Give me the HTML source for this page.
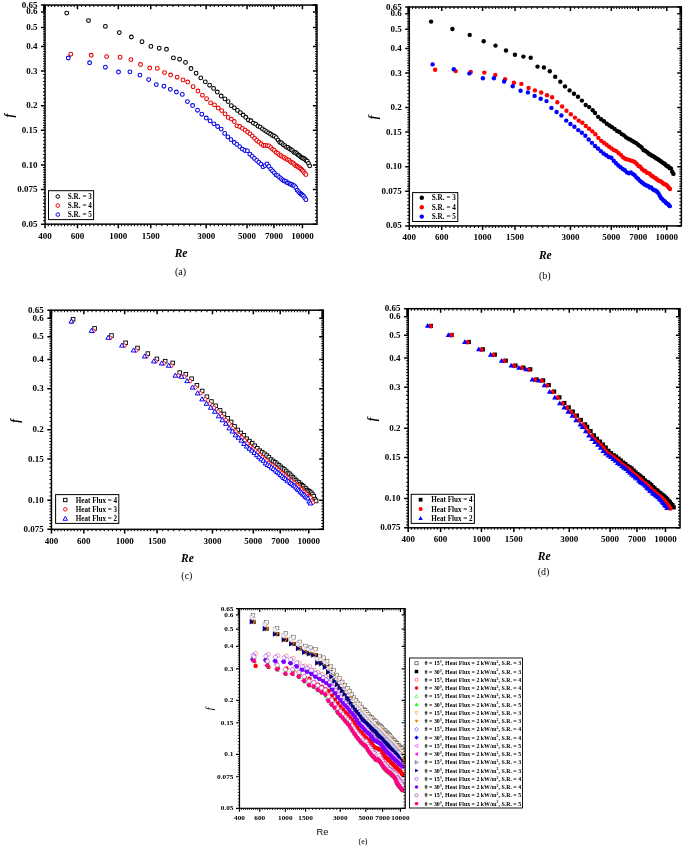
<!DOCTYPE html>
<html><head><meta charset="utf-8"><title>Friction factor plots</title>
<style>html,body{margin:0;padding:0;background:#fff}svg{display:block}</style></head>
<body>
<svg width="685" height="846" viewBox="0 0 685 846">
<rect width="685" height="846" fill="#fff"/>
<defs><clipPath id="ce"><rect x="239.5" y="608.6" width="165.70" height="199.70"/></clipPath></defs>
<g fill="#fff" stroke="#000" stroke-width="1.05"><circle cx="66.70" cy="13.10" r="1.90"/><circle cx="88.50" cy="20.60" r="1.90"/><circle cx="105.40" cy="26.40" r="1.90"/><circle cx="119.30" cy="32.60" r="1.90"/><circle cx="131.40" cy="37.00" r="1.90"/><circle cx="142.00" cy="41.70" r="1.90"/><circle cx="150.90" cy="46.40" r="1.90"/><circle cx="159.20" cy="48.20" r="1.90"/><circle cx="166.50" cy="49.30" r="1.90"/><circle cx="173.40" cy="57.90" r="1.90"/><circle cx="179.60" cy="59.20" r="1.90"/><circle cx="185.50" cy="62.40" r="1.90"/><circle cx="191.00" cy="68.50" r="1.90"/><circle cx="196.10" cy="73.20" r="1.90"/><circle cx="200.80" cy="77.90" r="1.90"/><circle cx="205.30" cy="81.80" r="1.90"/><circle cx="209.60" cy="85.20" r="1.90"/><circle cx="213.60" cy="88.40" r="1.90"/><circle cx="217.30" cy="92.00" r="1.90"/><circle cx="221.20" cy="96.00" r="1.90"/><circle cx="224.90" cy="98.90" r="1.90"/><circle cx="228.10" cy="101.60" r="1.90"/><circle cx="231.31" cy="105.69" r="1.90"/><circle cx="234.42" cy="107.86" r="1.90"/><circle cx="237.41" cy="110.42" r="1.90"/><circle cx="240.30" cy="112.55" r="1.90"/><circle cx="243.08" cy="115.00" r="1.90"/><circle cx="245.77" cy="117.26" r="1.90"/><circle cx="248.38" cy="119.96" r="1.90"/><circle cx="250.90" cy="120.75" r="1.90"/><circle cx="253.34" cy="123.11" r="1.90"/><circle cx="255.71" cy="124.16" r="1.90"/><circle cx="258.02" cy="126.15" r="1.90"/><circle cx="260.26" cy="127.12" r="1.90"/><circle cx="262.43" cy="128.83" r="1.90"/><circle cx="264.55" cy="130.37" r="1.90"/><circle cx="266.62" cy="131.58" r="1.90"/><circle cx="268.63" cy="132.87" r="1.90"/><circle cx="270.60" cy="134.03" r="1.90"/><circle cx="272.51" cy="135.49" r="1.90"/><circle cx="274.38" cy="136.22" r="1.90"/><circle cx="276.21" cy="137.60" r="1.90"/><circle cx="278.00" cy="140.10" r="1.90"/><circle cx="279.75" cy="142.29" r="1.90"/><circle cx="281.46" cy="142.97" r="1.90"/><circle cx="283.14" cy="144.63" r="1.90"/><circle cx="284.78" cy="145.60" r="1.90"/><circle cx="286.39" cy="147.07" r="1.90"/><circle cx="287.96" cy="147.40" r="1.90"/><circle cx="289.51" cy="148.78" r="1.90"/><circle cx="291.03" cy="149.79" r="1.90"/><circle cx="292.52" cy="150.60" r="1.90"/><circle cx="293.98" cy="152.36" r="1.90"/><circle cx="295.41" cy="152.54" r="1.90"/><circle cx="296.82" cy="153.73" r="1.90"/><circle cx="298.21" cy="155.04" r="1.90"/><circle cx="299.57" cy="155.78" r="1.90"/><circle cx="300.91" cy="157.10" r="1.90"/><circle cx="302.22" cy="158.03" r="1.90"/><circle cx="303.52" cy="158.21" r="1.90"/><circle cx="304.79" cy="159.24" r="1.90"/><circle cx="306.05" cy="160.41" r="1.90"/><circle cx="307.28" cy="161.14" r="1.90"/><circle cx="308.50" cy="163.45" r="1.90"/><circle cx="309.70" cy="165.87" r="1.90"/></g>
<g fill="#fff" stroke="#e60000" stroke-width="1.05"><circle cx="70.80" cy="54.20" r="1.90"/><circle cx="91.20" cy="55.30" r="1.90"/><circle cx="106.60" cy="56.60" r="1.90"/><circle cx="120.10" cy="57.20" r="1.90"/><circle cx="130.90" cy="59.60" r="1.90"/><circle cx="140.50" cy="64.50" r="1.90"/><circle cx="149.70" cy="68.00" r="1.90"/><circle cx="157.30" cy="68.40" r="1.90"/><circle cx="164.50" cy="72.60" r="1.90"/><circle cx="170.60" cy="75.00" r="1.90"/><circle cx="177.20" cy="77.20" r="1.90"/><circle cx="183.00" cy="79.90" r="1.90"/><circle cx="187.70" cy="82.00" r="1.90"/><circle cx="193.10" cy="86.70" r="1.90"/><circle cx="197.90" cy="91.00" r="1.90"/><circle cx="202.40" cy="95.20" r="1.90"/><circle cx="206.60" cy="98.70" r="1.90"/><circle cx="210.60" cy="102.90" r="1.90"/><circle cx="214.50" cy="104.90" r="1.90"/><circle cx="218.20" cy="108.00" r="1.90"/><circle cx="221.70" cy="110.60" r="1.90"/><circle cx="225.00" cy="113.90" r="1.90"/><circle cx="228.20" cy="117.40" r="1.90"/><circle cx="231.40" cy="119.10" r="1.90"/><circle cx="234.30" cy="121.50" r="1.90"/><circle cx="236.90" cy="125.80" r="1.90"/><circle cx="239.60" cy="126.50" r="1.90"/><circle cx="242.48" cy="128.40" r="1.90"/><circle cx="245.06" cy="130.13" r="1.90"/><circle cx="247.55" cy="132.03" r="1.90"/><circle cx="249.97" cy="133.84" r="1.90"/><circle cx="252.32" cy="136.05" r="1.90"/><circle cx="254.60" cy="138.30" r="1.90"/><circle cx="256.81" cy="140.47" r="1.90"/><circle cx="258.97" cy="142.05" r="1.90"/><circle cx="261.07" cy="143.76" r="1.90"/><circle cx="263.12" cy="145.45" r="1.90"/><circle cx="265.11" cy="145.41" r="1.90"/><circle cx="267.06" cy="145.68" r="1.90"/><circle cx="268.96" cy="145.96" r="1.90"/><circle cx="270.82" cy="147.61" r="1.90"/><circle cx="272.63" cy="149.35" r="1.90"/><circle cx="274.40" cy="150.45" r="1.90"/><circle cx="276.14" cy="152.52" r="1.90"/><circle cx="277.84" cy="153.43" r="1.90"/><circle cx="279.50" cy="154.88" r="1.90"/><circle cx="281.13" cy="155.74" r="1.90"/><circle cx="282.73" cy="156.85" r="1.90"/><circle cx="284.29" cy="157.66" r="1.90"/><circle cx="285.83" cy="158.72" r="1.90"/><circle cx="287.34" cy="159.62" r="1.90"/><circle cx="288.82" cy="160.08" r="1.90"/><circle cx="290.27" cy="161.61" r="1.90"/><circle cx="291.69" cy="162.40" r="1.90"/><circle cx="293.09" cy="162.92" r="1.90"/><circle cx="294.47" cy="164.46" r="1.90"/><circle cx="295.82" cy="165.79" r="1.90"/><circle cx="297.16" cy="166.29" r="1.90"/><circle cx="298.46" cy="167.13" r="1.90"/><circle cx="299.75" cy="167.95" r="1.90"/><circle cx="301.02" cy="169.03" r="1.90"/><circle cx="302.27" cy="170.36" r="1.90"/><circle cx="303.50" cy="171.53" r="1.90"/><circle cx="304.71" cy="173.36" r="1.90"/><circle cx="305.90" cy="174.58" r="1.90"/></g>
<g fill="#fff" stroke="#0000e6" stroke-width="1.05"><circle cx="68.30" cy="58.00" r="1.90"/><circle cx="89.60" cy="62.80" r="1.90"/><circle cx="105.40" cy="67.20" r="1.90"/><circle cx="118.50" cy="72.00" r="1.90"/><circle cx="129.90" cy="71.80" r="1.90"/><circle cx="139.90" cy="75.10" r="1.90"/><circle cx="148.70" cy="79.60" r="1.90"/><circle cx="156.30" cy="84.60" r="1.90"/><circle cx="163.90" cy="86.20" r="1.90"/><circle cx="170.30" cy="89.30" r="1.90"/><circle cx="176.40" cy="92.00" r="1.90"/><circle cx="182.30" cy="94.40" r="1.90"/><circle cx="187.40" cy="101.60" r="1.90"/><circle cx="192.60" cy="105.50" r="1.90"/><circle cx="197.50" cy="110.20" r="1.90"/><circle cx="201.80" cy="114.20" r="1.90"/><circle cx="206.30" cy="118.00" r="1.90"/><circle cx="210.10" cy="120.90" r="1.90"/><circle cx="213.90" cy="123.80" r="1.90"/><circle cx="217.60" cy="126.50" r="1.90"/><circle cx="221.20" cy="129.10" r="1.90"/><circle cx="224.70" cy="133.40" r="1.90"/><circle cx="227.90" cy="136.90" r="1.90"/><circle cx="231.00" cy="139.60" r="1.90"/><circle cx="234.30" cy="142.50" r="1.90"/><circle cx="236.89" cy="144.42" r="1.90"/><circle cx="239.65" cy="146.61" r="1.90"/><circle cx="242.32" cy="149.05" r="1.90"/><circle cx="244.90" cy="150.45" r="1.90"/><circle cx="247.40" cy="150.82" r="1.90"/><circle cx="249.83" cy="154.18" r="1.90"/><circle cx="252.18" cy="156.36" r="1.90"/><circle cx="254.47" cy="158.39" r="1.90"/><circle cx="256.70" cy="160.39" r="1.90"/><circle cx="258.86" cy="162.41" r="1.90"/><circle cx="260.97" cy="164.05" r="1.90"/><circle cx="263.02" cy="166.85" r="1.90"/><circle cx="265.02" cy="165.57" r="1.90"/><circle cx="266.97" cy="163.92" r="1.90"/><circle cx="268.88" cy="166.46" r="1.90"/><circle cx="270.74" cy="169.06" r="1.90"/><circle cx="272.56" cy="170.96" r="1.90"/><circle cx="274.34" cy="172.84" r="1.90"/><circle cx="276.08" cy="174.94" r="1.90"/><circle cx="277.78" cy="175.65" r="1.90"/><circle cx="279.45" cy="177.38" r="1.90"/><circle cx="281.08" cy="178.56" r="1.90"/><circle cx="282.68" cy="179.99" r="1.90"/><circle cx="284.25" cy="180.96" r="1.90"/><circle cx="285.79" cy="181.34" r="1.90"/><circle cx="287.30" cy="182.77" r="1.90"/><circle cx="288.78" cy="183.07" r="1.90"/><circle cx="290.24" cy="184.20" r="1.90"/><circle cx="291.67" cy="184.38" r="1.90"/><circle cx="293.07" cy="185.40" r="1.90"/><circle cx="294.45" cy="185.86" r="1.90"/><circle cx="295.81" cy="187.64" r="1.90"/><circle cx="297.14" cy="190.17" r="1.90"/><circle cx="298.45" cy="191.60" r="1.90"/><circle cx="299.74" cy="192.97" r="1.90"/><circle cx="301.01" cy="194.02" r="1.90"/><circle cx="302.26" cy="195.03" r="1.90"/><circle cx="303.49" cy="196.08" r="1.90"/><circle cx="304.71" cy="197.82" r="1.90"/><circle cx="305.90" cy="199.66" r="1.90"/></g>
<g stroke="#000" stroke-width="1.5" fill="none"><rect x="45.05" y="5.05" width="271.95" height="219.10"/><path d="M45.05 224.15v4.1M45.05 5.05v4.1M77.47 224.15v4.1M77.47 5.05v4.1M118.31 224.15v4.1M118.31 5.05v4.1M150.73 224.15v4.1M150.73 5.05v4.1M206.16 224.15v4.1M206.16 5.05v4.1M247.00 224.15v4.1M247.00 5.05v4.1M273.90 224.15v4.1M273.90 5.05v4.1M302.42 224.15v4.1M302.42 5.05v4.1M45.05 224.15h-4.1M317.0 224.15h-4.1M45.05 189.51h-4.1M317.0 189.51h-4.1M45.05 164.94h-4.1M317.0 164.94h-4.1M45.05 130.31h-4.1M317.0 130.31h-4.1M45.05 105.73h-4.1M317.0 105.73h-4.1M45.05 71.10h-4.1M317.0 71.10h-4.1M45.05 46.52h-4.1M317.0 46.52h-4.1M45.05 27.46h-4.1M317.0 27.46h-4.1M45.05 11.89h-4.1M317.0 11.89h-4.1M45.05 5.05h-4.1M317.0 5.05h-4.1"/><path d="M48.29 224.15v2.0M48.29 5.05v2.0M51.53 224.15v2.0M51.53 5.05v2.0M54.78 224.15v2.0M54.78 5.05v2.0M58.02 224.15v2.0M58.02 5.05v2.0M61.26 224.15v2.0M61.26 5.05v2.0M64.50 224.15v2.0M64.50 5.05v2.0M67.74 224.15v2.0M67.74 5.05v2.0M70.99 224.15v2.0M70.99 5.05v2.0M74.23 224.15v2.0M74.23 5.05v2.0M81.55 224.15v2.0M81.55 5.05v2.0M85.64 224.15v2.0M85.64 5.05v2.0M89.72 224.15v2.0M89.72 5.05v2.0M93.81 224.15v2.0M93.81 5.05v2.0M97.89 224.15v2.0M97.89 5.05v2.0M101.98 224.15v2.0M101.98 5.05v2.0M106.06 224.15v2.0M106.06 5.05v2.0M110.15 224.15v2.0M110.15 5.05v2.0M114.23 224.15v2.0M114.23 5.05v2.0M121.56 224.15v2.0M121.56 5.05v2.0M124.80 224.15v2.0M124.80 5.05v2.0M128.04 224.15v2.0M128.04 5.05v2.0M131.28 224.15v2.0M131.28 5.05v2.0M134.52 224.15v2.0M134.52 5.05v2.0M137.77 224.15v2.0M137.77 5.05v2.0M141.01 224.15v2.0M141.01 5.05v2.0M144.25 224.15v2.0M144.25 5.05v2.0M147.49 224.15v2.0M147.49 5.05v2.0M156.28 224.15v2.0M156.28 5.05v2.0M161.82 224.15v2.0M161.82 5.05v2.0M167.36 224.15v2.0M167.36 5.05v2.0M172.90 224.15v2.0M172.90 5.05v2.0M178.44 224.15v2.0M178.44 5.05v2.0M183.99 224.15v2.0M183.99 5.05v2.0M189.53 224.15v2.0M189.53 5.05v2.0M195.07 224.15v2.0M195.07 5.05v2.0M200.61 224.15v2.0M200.61 5.05v2.0M210.24 224.15v2.0M210.24 5.05v2.0M214.32 224.15v2.0M214.32 5.05v2.0M218.41 224.15v2.0M218.41 5.05v2.0M222.49 224.15v2.0M222.49 5.05v2.0M226.58 224.15v2.0M226.58 5.05v2.0M230.66 224.15v2.0M230.66 5.05v2.0M234.75 224.15v2.0M234.75 5.05v2.0M238.83 224.15v2.0M238.83 5.05v2.0M242.92 224.15v2.0M242.92 5.05v2.0M249.69 224.15v2.0M249.69 5.05v2.0M252.38 224.15v2.0M252.38 5.05v2.0M255.07 224.15v2.0M255.07 5.05v2.0M257.76 224.15v2.0M257.76 5.05v2.0M260.45 224.15v2.0M260.45 5.05v2.0M263.14 224.15v2.0M263.14 5.05v2.0M265.83 224.15v2.0M265.83 5.05v2.0M268.52 224.15v2.0M268.52 5.05v2.0M271.21 224.15v2.0M271.21 5.05v2.0M276.76 224.15v2.0M276.76 5.05v2.0M279.61 224.15v2.0M279.61 5.05v2.0M282.46 224.15v2.0M282.46 5.05v2.0M285.31 224.15v2.0M285.31 5.05v2.0M288.16 224.15v2.0M288.16 5.05v2.0M291.01 224.15v2.0M291.01 5.05v2.0M293.87 224.15v2.0M293.87 5.05v2.0M296.72 224.15v2.0M296.72 5.05v2.0M299.57 224.15v2.0M299.57 5.05v2.0M45.05 220.69h-2.0M317.0 220.69h-2.0M45.05 217.22h-2.0M317.0 217.22h-2.0M45.05 213.76h-2.0M317.0 213.76h-2.0M45.05 210.30h-2.0M317.0 210.30h-2.0M45.05 206.83h-2.0M317.0 206.83h-2.0M45.05 203.37h-2.0M317.0 203.37h-2.0M45.05 199.91h-2.0M317.0 199.91h-2.0M45.05 196.44h-2.0M317.0 196.44h-2.0M45.05 192.98h-2.0M317.0 192.98h-2.0M45.05 187.06h-2.0M317.0 187.06h-2.0M45.05 184.60h-2.0M317.0 184.60h-2.0M45.05 182.14h-2.0M317.0 182.14h-2.0M45.05 179.69h-2.0M317.0 179.69h-2.0M45.05 177.23h-2.0M317.0 177.23h-2.0M45.05 174.77h-2.0M317.0 174.77h-2.0M45.05 172.31h-2.0M317.0 172.31h-2.0M45.05 169.86h-2.0M317.0 169.86h-2.0M45.05 167.40h-2.0M317.0 167.40h-2.0M45.05 161.48h-2.0M317.0 161.48h-2.0M45.05 158.01h-2.0M317.0 158.01h-2.0M45.05 154.55h-2.0M317.0 154.55h-2.0M45.05 151.09h-2.0M317.0 151.09h-2.0M45.05 147.62h-2.0M317.0 147.62h-2.0M45.05 144.16h-2.0M317.0 144.16h-2.0M45.05 140.70h-2.0M317.0 140.70h-2.0M45.05 137.23h-2.0M317.0 137.23h-2.0M45.05 133.77h-2.0M317.0 133.77h-2.0M45.05 127.85h-2.0M317.0 127.85h-2.0M45.05 125.39h-2.0M317.0 125.39h-2.0M45.05 122.93h-2.0M317.0 122.93h-2.0M45.05 120.48h-2.0M317.0 120.48h-2.0M45.05 118.02h-2.0M317.0 118.02h-2.0M45.05 115.56h-2.0M317.0 115.56h-2.0M45.05 113.10h-2.0M317.0 113.10h-2.0M45.05 110.65h-2.0M317.0 110.65h-2.0M45.05 108.19h-2.0M317.0 108.19h-2.0M45.05 102.27h-2.0M317.0 102.27h-2.0M45.05 98.80h-2.0M317.0 98.80h-2.0M45.05 95.34h-2.0M317.0 95.34h-2.0M45.05 91.88h-2.0M317.0 91.88h-2.0M45.05 88.41h-2.0M317.0 88.41h-2.0M45.05 84.95h-2.0M317.0 84.95h-2.0M45.05 81.49h-2.0M317.0 81.49h-2.0M45.05 78.02h-2.0M317.0 78.02h-2.0M45.05 74.56h-2.0M317.0 74.56h-2.0M45.05 68.64h-2.0M317.0 68.64h-2.0M45.05 66.18h-2.0M317.0 66.18h-2.0M45.05 63.72h-2.0M317.0 63.72h-2.0M45.05 61.27h-2.0M317.0 61.27h-2.0M45.05 58.81h-2.0M317.0 58.81h-2.0M45.05 56.35h-2.0M317.0 56.35h-2.0M45.05 53.89h-2.0M317.0 53.89h-2.0M45.05 51.44h-2.0M317.0 51.44h-2.0M45.05 48.98h-2.0M317.0 48.98h-2.0M45.05 44.62h-2.0M317.0 44.62h-2.0M45.05 42.71h-2.0M317.0 42.71h-2.0M45.05 40.80h-2.0M317.0 40.80h-2.0M45.05 38.90h-2.0M317.0 38.90h-2.0M45.05 36.99h-2.0M317.0 36.99h-2.0M45.05 35.09h-2.0M317.0 35.09h-2.0M45.05 33.18h-2.0M317.0 33.18h-2.0M45.05 31.27h-2.0M317.0 31.27h-2.0M45.05 29.37h-2.0M317.0 29.37h-2.0M45.05 25.90h-2.0M317.0 25.90h-2.0M45.05 24.35h-2.0M317.0 24.35h-2.0M45.05 22.79h-2.0M317.0 22.79h-2.0M45.05 21.23h-2.0M317.0 21.23h-2.0M45.05 19.67h-2.0M317.0 19.67h-2.0M45.05 18.12h-2.0M317.0 18.12h-2.0M45.05 16.56h-2.0M317.0 16.56h-2.0M45.05 15.00h-2.0M317.0 15.00h-2.0M45.05 13.44h-2.0M317.0 13.44h-2.0M45.05 11.20h-2.0M317.0 11.20h-2.0M45.05 10.52h-2.0M317.0 10.52h-2.0M45.05 9.84h-2.0M317.0 9.84h-2.0M45.05 9.15h-2.0M317.0 9.15h-2.0M45.05 8.47h-2.0M317.0 8.47h-2.0M45.05 7.78h-2.0M317.0 7.78h-2.0M45.05 7.10h-2.0M317.0 7.10h-2.0M45.05 6.42h-2.0M317.0 6.42h-2.0M45.05 5.73h-2.0M317.0 5.73h-2.0" stroke-width="1.02"/></g>
<g font-family="Liberation Serif, serif" font-weight="bold" font-size="9" fill="#000"><text x="45.05" y="238.65" text-anchor="middle">400</text><text x="77.47" y="238.65" text-anchor="middle">600</text><text x="118.31" y="238.65" text-anchor="middle">1000</text><text x="150.73" y="238.65" text-anchor="middle">1500</text><text x="206.16" y="238.65" text-anchor="middle">3000</text><text x="247.00" y="238.65" text-anchor="middle">5000</text><text x="273.90" y="238.65" text-anchor="middle">7000</text><text x="302.42" y="238.65" text-anchor="middle">10000</text><text x="37.45" y="226.71" text-anchor="end">0.05</text><text x="37.45" y="192.08" text-anchor="end">0.075</text><text x="37.45" y="167.51" text-anchor="end">0.10</text><text x="37.45" y="132.87" text-anchor="end">0.15</text><text x="37.45" y="108.30" text-anchor="end">0.2</text><text x="37.45" y="73.66" text-anchor="end">0.3</text><text x="37.45" y="49.09" text-anchor="end">0.4</text><text x="37.45" y="30.03" text-anchor="end">0.5</text><text x="37.45" y="14.45" text-anchor="end">0.6</text><text x="37.45" y="7.62" text-anchor="end">0.65</text></g>
<rect x="48.5" y="190.7" width="45.1" height="28.9" fill="#fff" stroke="#000" stroke-width="1.0"/>
<g fill="none" stroke="#000" stroke-width="1.0"><circle cx="57.80" cy="196.50" r="1.80"/></g>
<text font-family="Liberation Serif, serif" font-weight="bold" font-size="7.2" x="67.8" y="198.88">S.R. = 3</text>
<g fill="none" stroke="#e60000" stroke-width="1.0"><circle cx="57.80" cy="205.55" r="1.80"/></g>
<text font-family="Liberation Serif, serif" font-weight="bold" font-size="7.2" x="67.8" y="207.93">S.R. = 4</text>
<g fill="none" stroke="#0000e6" stroke-width="1.0"><circle cx="57.80" cy="214.60" r="1.80"/></g>
<text font-family="Liberation Serif, serif" font-weight="bold" font-size="7.2" x="67.8" y="216.98">S.R. = 5</text>
<text font-family="Liberation Serif, serif" font-weight="bold" font-style="italic" font-size="11.5" text-anchor="middle" x="181.03" y="256.8">Re</text>
<text font-family="Liberation Serif, serif" font-size="10" text-anchor="middle" x="180.53" y="275.2">(a)</text>
<text font-family="Liberation Serif, serif" font-weight="bold" font-style="italic" font-size="11.5" text-anchor="middle" transform="translate(12.5,115.60) rotate(-90)">f</text>
<g fill="#000" stroke="none"><circle cx="431.10" cy="21.60" r="2.20"/><circle cx="452.40" cy="29.05" r="2.20"/><circle cx="469.70" cy="34.90" r="2.20"/><circle cx="483.70" cy="41.20" r="2.20"/><circle cx="495.50" cy="45.60" r="2.20"/><circle cx="506.00" cy="50.50" r="2.20"/><circle cx="514.90" cy="54.70" r="2.20"/><circle cx="523.40" cy="56.60" r="2.20"/><circle cx="530.70" cy="57.80" r="2.20"/><circle cx="537.50" cy="66.60" r="2.20"/><circle cx="543.90" cy="67.50" r="2.20"/><circle cx="549.80" cy="71.20" r="2.20"/><circle cx="555.20" cy="76.80" r="2.20"/><circle cx="560.30" cy="81.70" r="2.20"/><circle cx="565.00" cy="86.40" r="2.20"/><circle cx="569.60" cy="90.40" r="2.20"/><circle cx="574.00" cy="93.80" r="2.20"/><circle cx="578.00" cy="96.70" r="2.20"/><circle cx="581.90" cy="100.60" r="2.20"/><circle cx="585.70" cy="105.00" r="2.20"/><circle cx="589.20" cy="107.10" r="2.20"/><circle cx="592.70" cy="110.20" r="2.20"/><circle cx="595.05" cy="113.01" r="2.20"/><circle cx="598.16" cy="116.84" r="2.20"/><circle cx="601.15" cy="119.20" r="2.20"/><circle cx="604.03" cy="121.23" r="2.20"/><circle cx="606.81" cy="123.69" r="2.20"/><circle cx="609.50" cy="125.55" r="2.20"/><circle cx="612.10" cy="127.17" r="2.20"/><circle cx="614.62" cy="128.89" r="2.20"/><circle cx="617.06" cy="131.07" r="2.20"/><circle cx="619.43" cy="132.06" r="2.20"/><circle cx="621.73" cy="134.09" r="2.20"/><circle cx="623.97" cy="135.35" r="2.20"/><circle cx="626.15" cy="137.42" r="2.20"/><circle cx="628.27" cy="138.66" r="2.20"/><circle cx="630.33" cy="139.65" r="2.20"/><circle cx="632.34" cy="140.88" r="2.20"/><circle cx="634.31" cy="142.17" r="2.20"/><circle cx="636.22" cy="143.12" r="2.20"/><circle cx="638.09" cy="144.82" r="2.20"/><circle cx="639.92" cy="146.09" r="2.20"/><circle cx="641.71" cy="147.51" r="2.20"/><circle cx="643.46" cy="150.03" r="2.20"/><circle cx="645.17" cy="150.77" r="2.20"/><circle cx="646.84" cy="151.87" r="2.20"/><circle cx="648.48" cy="153.44" r="2.20"/><circle cx="650.09" cy="154.43" r="2.20"/><circle cx="651.67" cy="155.53" r="2.20"/><circle cx="653.21" cy="156.27" r="2.20"/><circle cx="654.73" cy="157.29" r="2.20"/><circle cx="656.22" cy="158.42" r="2.20"/><circle cx="657.68" cy="159.01" r="2.20"/><circle cx="659.11" cy="160.14" r="2.20"/><circle cx="660.52" cy="160.95" r="2.20"/><circle cx="661.91" cy="162.15" r="2.20"/><circle cx="663.27" cy="163.11" r="2.20"/><circle cx="664.61" cy="163.69" r="2.20"/><circle cx="665.93" cy="165.28" r="2.20"/><circle cx="667.22" cy="166.29" r="2.20"/><circle cx="668.50" cy="166.48" r="2.20"/><circle cx="669.75" cy="168.14" r="2.20"/><circle cx="670.99" cy="168.42" r="2.20"/><circle cx="672.20" cy="171.63" r="2.20"/><circle cx="673.40" cy="173.91" r="2.20"/></g>
<g fill="#f00" stroke="none"><circle cx="435.10" cy="69.80" r="2.20"/><circle cx="455.70" cy="71.10" r="2.20"/><circle cx="470.80" cy="72.00" r="2.20"/><circle cx="484.30" cy="72.60" r="2.20"/><circle cx="495.30" cy="75.00" r="2.20"/><circle cx="505.10" cy="79.20" r="2.20"/><circle cx="513.90" cy="82.70" r="2.20"/><circle cx="521.40" cy="83.90" r="2.20"/><circle cx="528.60" cy="88.00" r="2.20"/><circle cx="534.90" cy="90.40" r="2.20"/><circle cx="541.20" cy="92.50" r="2.20"/><circle cx="547.00" cy="95.30" r="2.20"/><circle cx="552.10" cy="97.30" r="2.20"/><circle cx="557.30" cy="102.30" r="2.20"/><circle cx="562.10" cy="106.50" r="2.20"/><circle cx="566.50" cy="110.80" r="2.20"/><circle cx="570.80" cy="114.30" r="2.20"/><circle cx="574.91" cy="117.60" r="2.20"/><circle cx="578.70" cy="120.67" r="2.20"/><circle cx="582.33" cy="122.77" r="2.20"/><circle cx="585.79" cy="126.01" r="2.20"/><circle cx="589.11" cy="128.80" r="2.20"/><circle cx="592.30" cy="131.33" r="2.20"/><circle cx="595.37" cy="134.21" r="2.20"/><circle cx="598.32" cy="137.85" r="2.20"/><circle cx="601.17" cy="140.83" r="2.20"/><circle cx="603.92" cy="142.77" r="2.20"/><circle cx="606.58" cy="144.71" r="2.20"/><circle cx="609.15" cy="146.78" r="2.20"/><circle cx="611.65" cy="148.38" r="2.20"/><circle cx="614.06" cy="150.16" r="2.20"/><circle cx="616.41" cy="151.10" r="2.20"/><circle cx="618.69" cy="153.16" r="2.20"/><circle cx="620.91" cy="154.90" r="2.20"/><circle cx="623.07" cy="157.23" r="2.20"/><circle cx="625.17" cy="158.81" r="2.20"/><circle cx="627.21" cy="159.41" r="2.20"/><circle cx="629.21" cy="159.88" r="2.20"/><circle cx="631.15" cy="160.65" r="2.20"/><circle cx="633.06" cy="161.27" r="2.20"/><circle cx="634.91" cy="162.09" r="2.20"/><circle cx="636.73" cy="163.91" r="2.20"/><circle cx="638.50" cy="165.93" r="2.20"/><circle cx="640.24" cy="166.73" r="2.20"/><circle cx="641.94" cy="169.03" r="2.20"/><circle cx="643.60" cy="170.49" r="2.20"/><circle cx="645.23" cy="171.01" r="2.20"/><circle cx="646.83" cy="172.64" r="2.20"/><circle cx="648.39" cy="173.12" r="2.20"/><circle cx="649.93" cy="173.92" r="2.20"/><circle cx="651.43" cy="175.74" r="2.20"/><circle cx="652.91" cy="176.39" r="2.20"/><circle cx="654.36" cy="177.59" r="2.20"/><circle cx="655.79" cy="178.18" r="2.20"/><circle cx="657.19" cy="179.43" r="2.20"/><circle cx="658.57" cy="180.67" r="2.20"/><circle cx="659.92" cy="180.84" r="2.20"/><circle cx="661.25" cy="181.70" r="2.20"/><circle cx="662.56" cy="182.69" r="2.20"/><circle cx="663.85" cy="184.11" r="2.20"/><circle cx="665.12" cy="184.16" r="2.20"/><circle cx="666.37" cy="185.05" r="2.20"/><circle cx="667.60" cy="186.21" r="2.20"/><circle cx="668.81" cy="187.79" r="2.20"/><circle cx="670.00" cy="188.97" r="2.20"/></g>
<g fill="#00f" stroke="none"><circle cx="432.60" cy="64.40" r="2.20"/><circle cx="453.80" cy="69.30" r="2.20"/><circle cx="469.40" cy="73.40" r="2.20"/><circle cx="482.90" cy="78.30" r="2.20"/><circle cx="493.90" cy="78.30" r="2.20"/><circle cx="504.10" cy="81.50" r="2.20"/><circle cx="512.70" cy="86.20" r="2.20"/><circle cx="520.60" cy="90.80" r="2.20"/><circle cx="527.90" cy="92.40" r="2.20"/><circle cx="534.60" cy="95.90" r="2.20"/><circle cx="540.70" cy="98.70" r="2.20"/><circle cx="546.50" cy="101.10" r="2.20"/><circle cx="551.40" cy="107.90" r="2.20"/><circle cx="556.60" cy="112.00" r="2.20"/><circle cx="561.40" cy="115.50" r="2.20"/><circle cx="566.20" cy="120.60" r="2.20"/><circle cx="570.41" cy="123.96" r="2.20"/><circle cx="574.42" cy="126.70" r="2.20"/><circle cx="578.23" cy="130.10" r="2.20"/><circle cx="581.87" cy="132.76" r="2.20"/><circle cx="585.35" cy="135.80" r="2.20"/><circle cx="588.69" cy="139.48" r="2.20"/><circle cx="591.89" cy="142.84" r="2.20"/><circle cx="594.97" cy="145.94" r="2.20"/><circle cx="597.94" cy="148.47" r="2.20"/><circle cx="600.80" cy="151.09" r="2.20"/><circle cx="603.56" cy="153.49" r="2.20"/><circle cx="606.23" cy="155.21" r="2.20"/><circle cx="608.81" cy="157.07" r="2.20"/><circle cx="611.31" cy="157.72" r="2.20"/><circle cx="613.74" cy="160.70" r="2.20"/><circle cx="616.09" cy="163.30" r="2.20"/><circle cx="618.38" cy="165.53" r="2.20"/><circle cx="620.60" cy="167.27" r="2.20"/><circle cx="622.76" cy="169.06" r="2.20"/><circle cx="624.87" cy="170.30" r="2.20"/><circle cx="626.92" cy="172.40" r="2.20"/><circle cx="628.92" cy="173.22" r="2.20"/><circle cx="630.88" cy="172.40" r="2.20"/><circle cx="632.78" cy="173.86" r="2.20"/><circle cx="634.64" cy="175.16" r="2.20"/><circle cx="636.46" cy="177.42" r="2.20"/><circle cx="638.24" cy="179.01" r="2.20"/><circle cx="639.98" cy="180.84" r="2.20"/><circle cx="641.68" cy="182.31" r="2.20"/><circle cx="643.35" cy="183.47" r="2.20"/><circle cx="644.98" cy="184.80" r="2.20"/><circle cx="646.58" cy="185.47" r="2.20"/><circle cx="648.15" cy="186.11" r="2.20"/><circle cx="649.69" cy="187.43" r="2.20"/><circle cx="651.20" cy="187.55" r="2.20"/><circle cx="652.68" cy="189.12" r="2.20"/><circle cx="654.14" cy="190.25" r="2.20"/><circle cx="655.57" cy="190.37" r="2.20"/><circle cx="656.97" cy="191.80" r="2.20"/><circle cx="658.35" cy="193.10" r="2.20"/><circle cx="659.71" cy="195.69" r="2.20"/><circle cx="661.04" cy="197.97" r="2.20"/><circle cx="662.35" cy="199.09" r="2.20"/><circle cx="663.64" cy="200.71" r="2.20"/><circle cx="664.91" cy="201.37" r="2.20"/><circle cx="666.16" cy="202.96" r="2.20"/><circle cx="667.39" cy="203.66" r="2.20"/><circle cx="668.61" cy="204.79" r="2.20"/><circle cx="669.80" cy="206.14" r="2.20"/></g>
<g stroke="#000" stroke-width="1.5" fill="none"><rect x="409.3" y="6.95" width="272.05" height="218.95"/><path d="M409.30 225.9v4.1M409.30 6.95v4.1M441.73 225.9v4.1M441.73 6.95v4.1M482.59 225.9v4.1M482.59 6.95v4.1M515.02 225.9v4.1M515.02 6.95v4.1M570.47 225.9v4.1M570.47 6.95v4.1M611.32 225.9v4.1M611.32 6.95v4.1M638.24 225.9v4.1M638.24 6.95v4.1M666.77 225.9v4.1M666.77 6.95v4.1M409.3 225.90h-4.1M681.35 225.90h-4.1M409.3 191.29h-4.1M681.35 191.29h-4.1M409.3 166.73h-4.1M681.35 166.73h-4.1M409.3 132.12h-4.1M681.35 132.12h-4.1M409.3 107.56h-4.1M681.35 107.56h-4.1M409.3 72.95h-4.1M681.35 72.95h-4.1M409.3 48.39h-4.1M681.35 48.39h-4.1M409.3 29.35h-4.1M681.35 29.35h-4.1M409.3 13.78h-4.1M681.35 13.78h-4.1M409.3 6.95h-4.1M681.35 6.95h-4.1"/><path d="M412.54 225.9v2.0M412.54 6.95v2.0M415.79 225.9v2.0M415.79 6.95v2.0M419.03 225.9v2.0M419.03 6.95v2.0M422.27 225.9v2.0M422.27 6.95v2.0M425.52 225.9v2.0M425.52 6.95v2.0M428.76 225.9v2.0M428.76 6.95v2.0M432.00 225.9v2.0M432.00 6.95v2.0M435.25 225.9v2.0M435.25 6.95v2.0M438.49 225.9v2.0M438.49 6.95v2.0M445.82 225.9v2.0M445.82 6.95v2.0M449.90 225.9v2.0M449.90 6.95v2.0M453.99 225.9v2.0M453.99 6.95v2.0M458.08 225.9v2.0M458.08 6.95v2.0M462.16 225.9v2.0M462.16 6.95v2.0M466.25 225.9v2.0M466.25 6.95v2.0M470.33 225.9v2.0M470.33 6.95v2.0M474.42 225.9v2.0M474.42 6.95v2.0M478.51 225.9v2.0M478.51 6.95v2.0M485.83 225.9v2.0M485.83 6.95v2.0M489.08 225.9v2.0M489.08 6.95v2.0M492.32 225.9v2.0M492.32 6.95v2.0M495.56 225.9v2.0M495.56 6.95v2.0M498.81 225.9v2.0M498.81 6.95v2.0M502.05 225.9v2.0M502.05 6.95v2.0M505.29 225.9v2.0M505.29 6.95v2.0M508.54 225.9v2.0M508.54 6.95v2.0M511.78 225.9v2.0M511.78 6.95v2.0M520.57 225.9v2.0M520.57 6.95v2.0M526.11 225.9v2.0M526.11 6.95v2.0M531.66 225.9v2.0M531.66 6.95v2.0M537.20 225.9v2.0M537.20 6.95v2.0M542.74 225.9v2.0M542.74 6.95v2.0M548.29 225.9v2.0M548.29 6.95v2.0M553.83 225.9v2.0M553.83 6.95v2.0M559.38 225.9v2.0M559.38 6.95v2.0M564.92 225.9v2.0M564.92 6.95v2.0M574.55 225.9v2.0M574.55 6.95v2.0M578.64 225.9v2.0M578.64 6.95v2.0M582.72 225.9v2.0M582.72 6.95v2.0M586.81 225.9v2.0M586.81 6.95v2.0M590.89 225.9v2.0M590.89 6.95v2.0M594.98 225.9v2.0M594.98 6.95v2.0M599.07 225.9v2.0M599.07 6.95v2.0M603.15 225.9v2.0M603.15 6.95v2.0M607.24 225.9v2.0M607.24 6.95v2.0M614.02 225.9v2.0M614.02 6.95v2.0M616.71 225.9v2.0M616.71 6.95v2.0M619.40 225.9v2.0M619.40 6.95v2.0M622.09 225.9v2.0M622.09 6.95v2.0M624.78 225.9v2.0M624.78 6.95v2.0M627.47 225.9v2.0M627.47 6.95v2.0M630.16 225.9v2.0M630.16 6.95v2.0M632.85 225.9v2.0M632.85 6.95v2.0M635.55 225.9v2.0M635.55 6.95v2.0M641.09 225.9v2.0M641.09 6.95v2.0M643.94 225.9v2.0M643.94 6.95v2.0M646.80 225.9v2.0M646.80 6.95v2.0M649.65 225.9v2.0M649.65 6.95v2.0M652.50 225.9v2.0M652.50 6.95v2.0M655.36 225.9v2.0M655.36 6.95v2.0M658.21 225.9v2.0M658.21 6.95v2.0M661.06 225.9v2.0M661.06 6.95v2.0M663.91 225.9v2.0M663.91 6.95v2.0M409.3 222.44h-2.0M681.35 222.44h-2.0M409.3 218.98h-2.0M681.35 218.98h-2.0M409.3 215.52h-2.0M681.35 215.52h-2.0M409.3 212.06h-2.0M681.35 212.06h-2.0M409.3 208.59h-2.0M681.35 208.59h-2.0M409.3 205.13h-2.0M681.35 205.13h-2.0M409.3 201.67h-2.0M681.35 201.67h-2.0M409.3 198.21h-2.0M681.35 198.21h-2.0M409.3 194.75h-2.0M681.35 194.75h-2.0M409.3 188.83h-2.0M681.35 188.83h-2.0M409.3 186.38h-2.0M681.35 186.38h-2.0M409.3 183.92h-2.0M681.35 183.92h-2.0M409.3 181.47h-2.0M681.35 181.47h-2.0M409.3 179.01h-2.0M681.35 179.01h-2.0M409.3 176.55h-2.0M681.35 176.55h-2.0M409.3 174.10h-2.0M681.35 174.10h-2.0M409.3 171.64h-2.0M681.35 171.64h-2.0M409.3 169.19h-2.0M681.35 169.19h-2.0M409.3 163.27h-2.0M681.35 163.27h-2.0M409.3 159.81h-2.0M681.35 159.81h-2.0M409.3 156.35h-2.0M681.35 156.35h-2.0M409.3 152.89h-2.0M681.35 152.89h-2.0M409.3 149.43h-2.0M681.35 149.43h-2.0M409.3 145.96h-2.0M681.35 145.96h-2.0M409.3 142.50h-2.0M681.35 142.50h-2.0M409.3 139.04h-2.0M681.35 139.04h-2.0M409.3 135.58h-2.0M681.35 135.58h-2.0M409.3 129.66h-2.0M681.35 129.66h-2.0M409.3 127.21h-2.0M681.35 127.21h-2.0M409.3 124.75h-2.0M681.35 124.75h-2.0M409.3 122.30h-2.0M681.35 122.30h-2.0M409.3 119.84h-2.0M681.35 119.84h-2.0M409.3 117.39h-2.0M681.35 117.39h-2.0M409.3 114.93h-2.0M681.35 114.93h-2.0M409.3 112.47h-2.0M681.35 112.47h-2.0M409.3 110.02h-2.0M681.35 110.02h-2.0M409.3 104.10h-2.0M681.35 104.10h-2.0M409.3 100.64h-2.0M681.35 100.64h-2.0M409.3 97.18h-2.0M681.35 97.18h-2.0M409.3 93.72h-2.0M681.35 93.72h-2.0M409.3 90.26h-2.0M681.35 90.26h-2.0M409.3 86.80h-2.0M681.35 86.80h-2.0M409.3 83.33h-2.0M681.35 83.33h-2.0M409.3 79.87h-2.0M681.35 79.87h-2.0M409.3 76.41h-2.0M681.35 76.41h-2.0M409.3 70.50h-2.0M681.35 70.50h-2.0M409.3 68.04h-2.0M681.35 68.04h-2.0M409.3 65.58h-2.0M681.35 65.58h-2.0M409.3 63.13h-2.0M681.35 63.13h-2.0M409.3 60.67h-2.0M681.35 60.67h-2.0M409.3 58.22h-2.0M681.35 58.22h-2.0M409.3 55.76h-2.0M681.35 55.76h-2.0M409.3 53.31h-2.0M681.35 53.31h-2.0M409.3 50.85h-2.0M681.35 50.85h-2.0M409.3 46.49h-2.0M681.35 46.49h-2.0M409.3 44.58h-2.0M681.35 44.58h-2.0M409.3 42.68h-2.0M681.35 42.68h-2.0M409.3 40.77h-2.0M681.35 40.77h-2.0M409.3 38.87h-2.0M681.35 38.87h-2.0M409.3 36.97h-2.0M681.35 36.97h-2.0M409.3 35.06h-2.0M681.35 35.06h-2.0M409.3 33.16h-2.0M681.35 33.16h-2.0M409.3 31.25h-2.0M681.35 31.25h-2.0M409.3 27.79h-2.0M681.35 27.79h-2.0M409.3 26.23h-2.0M681.35 26.23h-2.0M409.3 24.68h-2.0M681.35 24.68h-2.0M409.3 23.12h-2.0M681.35 23.12h-2.0M409.3 21.56h-2.0M681.35 21.56h-2.0M409.3 20.01h-2.0M681.35 20.01h-2.0M409.3 18.45h-2.0M681.35 18.45h-2.0M409.3 16.90h-2.0M681.35 16.90h-2.0M409.3 15.34h-2.0M681.35 15.34h-2.0M409.3 13.10h-2.0M681.35 13.10h-2.0M409.3 12.42h-2.0M681.35 12.42h-2.0M409.3 11.73h-2.0M681.35 11.73h-2.0M409.3 11.05h-2.0M681.35 11.05h-2.0M409.3 10.37h-2.0M681.35 10.37h-2.0M409.3 9.68h-2.0M681.35 9.68h-2.0M409.3 9.00h-2.0M681.35 9.00h-2.0M409.3 8.32h-2.0M681.35 8.32h-2.0M409.3 7.63h-2.0M681.35 7.63h-2.0" stroke-width="1.02"/></g>
<g font-family="Liberation Serif, serif" font-weight="bold" font-size="9" fill="#000"><text x="409.30" y="240.40" text-anchor="middle">400</text><text x="441.73" y="240.40" text-anchor="middle">600</text><text x="482.59" y="240.40" text-anchor="middle">1000</text><text x="515.02" y="240.40" text-anchor="middle">1500</text><text x="570.47" y="240.40" text-anchor="middle">3000</text><text x="611.32" y="240.40" text-anchor="middle">5000</text><text x="638.24" y="240.40" text-anchor="middle">7000</text><text x="666.77" y="240.40" text-anchor="middle">10000</text><text x="401.70" y="228.47" text-anchor="end">0.05</text><text x="401.70" y="193.85" text-anchor="end">0.075</text><text x="401.70" y="169.30" text-anchor="end">0.10</text><text x="401.70" y="134.68" text-anchor="end">0.15</text><text x="401.70" y="110.13" text-anchor="end">0.2</text><text x="401.70" y="75.52" text-anchor="end">0.3</text><text x="401.70" y="50.96" text-anchor="end">0.4</text><text x="401.70" y="31.91" text-anchor="end">0.5</text><text x="401.70" y="16.35" text-anchor="end">0.6</text><text x="401.70" y="9.52" text-anchor="end">0.65</text></g>
<rect x="412.6" y="192.6" width="45.2" height="28.9" fill="#fff" stroke="#000" stroke-width="1.0"/>
<g fill="#000" stroke="none"><circle cx="421.80" cy="197.80" r="2.20"/></g>
<text font-family="Liberation Serif, serif" font-weight="bold" font-size="7.2" x="431.8" y="200.18">S.R. = 3</text>
<g fill="#f00" stroke="none"><circle cx="421.80" cy="207.20" r="2.20"/></g>
<text font-family="Liberation Serif, serif" font-weight="bold" font-size="7.2" x="431.8" y="209.58">S.R. = 4</text>
<g fill="#00f" stroke="none"><circle cx="421.80" cy="216.60" r="2.20"/></g>
<text font-family="Liberation Serif, serif" font-weight="bold" font-size="7.2" x="431.8" y="218.98">S.R. = 5</text>
<text font-family="Liberation Serif, serif" font-weight="bold" font-style="italic" font-size="11.5" text-anchor="middle" x="545.33" y="258.5">Re</text>
<text font-family="Liberation Serif, serif" font-size="10" text-anchor="middle" x="544.83" y="279">(b)</text>
<text font-family="Liberation Serif, serif" font-weight="bold" font-style="italic" font-size="11.5" text-anchor="middle" transform="translate(376.5,117.42) rotate(-90)">f</text>
<g fill="#fff" stroke="#000" stroke-width="0.9"><rect x="71.30" y="317.50" width="3.60" height="3.60"/><rect x="92.80" y="326.60" width="3.60" height="3.60"/><rect x="109.70" y="333.70" width="3.60" height="3.60"/><rect x="123.80" y="341.00" width="3.60" height="3.60"/><rect x="135.70" y="346.20" width="3.60" height="3.60"/><rect x="146.00" y="351.80" width="3.60" height="3.60"/><rect x="155.10" y="357.10" width="3.60" height="3.60"/><rect x="163.40" y="359.40" width="3.60" height="3.60"/><rect x="170.90" y="361.10" width="3.60" height="3.60"/><rect x="177.90" y="370.80" width="3.60" height="3.60"/><rect x="184.00" y="372.50" width="3.60" height="3.60"/><rect x="189.80" y="376.90" width="3.60" height="3.60"/><rect x="195.10" y="383.50" width="3.60" height="3.60"/><rect x="200.30" y="389.20" width="3.60" height="3.60"/><rect x="205.10" y="394.90" width="3.60" height="3.60"/><rect x="209.60" y="399.70" width="3.60" height="3.60"/><rect x="213.80" y="404.00" width="3.60" height="3.60"/><rect x="218.27" y="408.41" width="3.60" height="3.60"/><rect x="222.13" y="412.14" width="3.60" height="3.60"/><rect x="225.81" y="416.44" width="3.60" height="3.60"/><rect x="229.33" y="420.18" width="3.60" height="3.60"/><rect x="232.70" y="424.61" width="3.60" height="3.60"/><rect x="235.93" y="428.15" width="3.60" height="3.60"/><rect x="239.04" y="431.14" width="3.60" height="3.60"/><rect x="242.03" y="433.54" width="3.60" height="3.60"/><rect x="244.92" y="436.95" width="3.60" height="3.60"/><rect x="247.70" y="439.29" width="3.60" height="3.60"/><rect x="250.39" y="441.33" width="3.60" height="3.60"/><rect x="252.99" y="444.00" width="3.60" height="3.60"/><rect x="255.52" y="446.41" width="3.60" height="3.60"/><rect x="257.96" y="448.86" width="3.60" height="3.60"/><rect x="260.33" y="450.38" width="3.60" height="3.60"/><rect x="262.63" y="452.00" width="3.60" height="3.60"/><rect x="264.87" y="453.72" width="3.60" height="3.60"/><rect x="267.05" y="455.35" width="3.60" height="3.60"/><rect x="269.17" y="457.68" width="3.60" height="3.60"/><rect x="271.23" y="459.16" width="3.60" height="3.60"/><rect x="273.24" y="460.49" width="3.60" height="3.60"/><rect x="275.21" y="462.02" width="3.60" height="3.60"/><rect x="277.12" y="463.52" width="3.60" height="3.60"/><rect x="278.99" y="465.08" width="3.60" height="3.60"/><rect x="280.82" y="466.58" width="3.60" height="3.60"/><rect x="282.61" y="467.75" width="3.60" height="3.60"/><rect x="284.36" y="469.26" width="3.60" height="3.60"/><rect x="286.07" y="471.17" width="3.60" height="3.60"/><rect x="287.75" y="472.08" width="3.60" height="3.60"/><rect x="289.39" y="473.86" width="3.60" height="3.60"/><rect x="290.99" y="475.46" width="3.60" height="3.60"/><rect x="292.57" y="477.04" width="3.60" height="3.60"/><rect x="294.12" y="478.59" width="3.60" height="3.60"/><rect x="295.63" y="480.02" width="3.60" height="3.60"/><rect x="297.12" y="480.71" width="3.60" height="3.60"/><rect x="298.58" y="482.30" width="3.60" height="3.60"/><rect x="300.02" y="483.44" width="3.60" height="3.60"/><rect x="301.43" y="484.35" width="3.60" height="3.60"/><rect x="302.81" y="486.20" width="3.60" height="3.60"/><rect x="304.17" y="486.82" width="3.60" height="3.60"/><rect x="305.51" y="488.37" width="3.60" height="3.60"/><rect x="306.83" y="489.29" width="3.60" height="3.60"/><rect x="308.12" y="490.04" width="3.60" height="3.60"/><rect x="309.40" y="490.99" width="3.60" height="3.60"/><rect x="310.65" y="492.73" width="3.60" height="3.60"/><rect x="311.89" y="494.41" width="3.60" height="3.60"/><rect x="313.10" y="497.31" width="3.60" height="3.60"/><rect x="314.30" y="499.14" width="3.60" height="3.60"/></g>
<g fill="#fff" stroke="#f00" stroke-width="0.9"><circle cx="71.90" cy="321.70" r="1.80"/><circle cx="93.37" cy="330.98" r="1.80"/><circle cx="110.24" cy="337.87" r="1.80"/><circle cx="124.31" cy="345.65" r="1.80"/><circle cx="136.18" cy="350.54" r="1.80"/><circle cx="146.44" cy="356.52" r="1.80"/><circle cx="155.51" cy="361.41" r="1.80"/><circle cx="163.78" cy="363.49" r="1.80"/><circle cx="171.25" cy="365.78" r="1.80"/><circle cx="178.22" cy="375.66" r="1.80"/><circle cx="184.29" cy="376.74" r="1.80"/><circle cx="190.06" cy="381.13" r="1.80"/><circle cx="195.32" cy="387.51" r="1.80"/><circle cx="200.49" cy="393.30" r="1.80"/><circle cx="205.26" cy="399.28" r="1.80"/><circle cx="209.73" cy="403.67" r="1.80"/><circle cx="213.90" cy="407.65" r="1.80"/><circle cx="218.34" cy="411.63" r="1.80"/><circle cx="222.16" cy="416.17" r="1.80"/><circle cx="225.81" cy="420.09" r="1.80"/><circle cx="229.30" cy="423.64" r="1.80"/><circle cx="232.64" cy="428.19" r="1.80"/><circle cx="235.85" cy="431.32" r="1.80"/><circle cx="238.92" cy="435.06" r="1.80"/><circle cx="241.88" cy="437.53" r="1.80"/><circle cx="244.74" cy="440.39" r="1.80"/><circle cx="247.49" cy="443.69" r="1.80"/><circle cx="250.15" cy="446.28" r="1.80"/><circle cx="252.72" cy="448.44" r="1.80"/><circle cx="255.21" cy="450.36" r="1.80"/><circle cx="257.62" cy="452.56" r="1.80"/><circle cx="259.96" cy="454.80" r="1.80"/><circle cx="262.23" cy="456.93" r="1.80"/><circle cx="264.44" cy="458.95" r="1.80"/><circle cx="266.58" cy="460.38" r="1.80"/><circle cx="268.67" cy="462.99" r="1.80"/><circle cx="270.71" cy="464.58" r="1.80"/><circle cx="272.69" cy="465.54" r="1.80"/><circle cx="274.62" cy="467.07" r="1.80"/><circle cx="276.50" cy="468.49" r="1.80"/><circle cx="278.34" cy="470.02" r="1.80"/><circle cx="280.14" cy="471.60" r="1.80"/><circle cx="281.90" cy="472.90" r="1.80"/><circle cx="283.62" cy="474.45" r="1.80"/><circle cx="285.30" cy="475.91" r="1.80"/><circle cx="286.94" cy="477.42" r="1.80"/><circle cx="288.55" cy="478.39" r="1.80"/><circle cx="290.13" cy="480.22" r="1.80"/><circle cx="291.67" cy="480.83" r="1.80"/><circle cx="293.18" cy="482.42" r="1.80"/><circle cx="294.67" cy="483.36" r="1.80"/><circle cx="296.13" cy="484.92" r="1.80"/><circle cx="297.56" cy="485.62" r="1.80"/><circle cx="298.96" cy="487.04" r="1.80"/><circle cx="300.34" cy="488.68" r="1.80"/><circle cx="301.69" cy="489.46" r="1.80"/><circle cx="303.02" cy="490.97" r="1.80"/><circle cx="304.33" cy="492.12" r="1.80"/><circle cx="305.61" cy="493.62" r="1.80"/><circle cx="306.88" cy="494.39" r="1.80"/><circle cx="308.12" cy="496.00" r="1.80"/><circle cx="309.34" cy="496.89" r="1.80"/><circle cx="310.55" cy="497.71" r="1.80"/><circle cx="311.73" cy="500.72" r="1.80"/><circle cx="312.90" cy="502.58" r="1.80"/></g>
<g fill="#fff" stroke="#00f" stroke-width="1.0"><polygon points="71.30,318.98 73.61,323.08 68.99,323.08"/><polygon points="91.50,328.28 93.81,332.38 89.19,332.38"/><polygon points="108.20,335.19 110.51,339.28 105.89,339.28"/><polygon points="121.90,342.98 124.21,347.08 119.59,347.08"/><polygon points="133.60,347.88 135.91,351.98 131.29,351.98"/><polygon points="144.70,353.88 147.01,357.98 142.39,357.98"/><polygon points="153.80,358.78 156.11,362.88 151.49,362.88"/><polygon points="161.70,360.88 164.01,364.98 159.39,364.98"/><polygon points="168.70,363.19 171.01,367.28 166.39,367.28"/><polygon points="175.30,373.08 177.61,377.18 172.99,377.18"/><polygon points="181.50,374.19 183.81,378.28 179.19,378.28"/><polygon points="187.10,378.58 189.41,382.68 184.79,382.68"/><polygon points="192.50,384.98 194.81,389.08 190.19,389.08"/><polygon points="197.60,390.78 199.91,394.88 195.29,394.88"/><polygon points="202.10,396.78 204.41,400.88 199.79,400.88"/><polygon points="206.50,401.19 208.81,405.28 204.19,405.28"/><polygon points="210.70,405.19 213.01,409.28 208.39,409.28"/><polygon points="214.80,409.19 217.11,413.28 212.49,413.28"/><polygon points="218.66,413.73 220.97,417.83 216.35,417.83"/><polygon points="222.31,417.67 224.62,421.77 220.00,421.77"/><polygon points="225.81,421.24 228.12,425.33 223.50,425.33"/><polygon points="229.15,425.81 231.46,429.90 226.84,429.90"/><polygon points="232.37,428.95 234.68,433.05 230.06,433.05"/><polygon points="235.46,432.70 237.77,436.80 233.15,436.80"/><polygon points="238.43,435.19 240.74,439.28 236.12,439.28"/><polygon points="241.30,438.06 243.61,442.16 238.99,442.16"/><polygon points="244.06,441.38 246.37,445.48 241.75,445.48"/><polygon points="246.74,443.99 249.05,448.08 244.43,448.08"/><polygon points="249.33,446.17 251.64,450.26 247.02,450.26"/><polygon points="251.83,448.10 254.14,452.20 249.52,452.20"/><polygon points="254.26,450.31 256.57,454.41 251.95,454.41"/><polygon points="256.62,452.57 258.93,456.67 254.31,456.67"/><polygon points="258.91,454.71 261.22,458.81 256.60,458.81"/><polygon points="261.14,456.75 263.45,460.85 258.83,460.85"/><polygon points="263.31,458.19 265.62,462.29 261.00,462.29"/><polygon points="265.42,460.82 267.73,464.92 263.11,464.92"/><polygon points="267.47,462.43 269.78,466.52 265.16,466.52"/><polygon points="269.48,463.40 271.79,467.50 267.17,467.50"/><polygon points="271.43,464.95 273.74,469.05 269.12,469.05"/><polygon points="273.34,466.39 275.65,470.48 271.03,470.48"/><polygon points="275.21,467.93 277.52,472.02 272.90,472.02"/><polygon points="277.03,469.53 279.34,473.62 274.72,473.62"/><polygon points="278.81,470.85 281.12,474.94 276.50,474.94"/><polygon points="280.55,472.41 282.86,476.51 278.24,476.51"/><polygon points="282.26,473.88 284.57,477.97 279.95,477.97"/><polygon points="283.92,475.41 286.23,479.51 281.61,479.51"/><polygon points="285.56,476.39 287.87,480.49 283.25,480.49"/><polygon points="287.16,478.23 289.47,482.33 284.85,482.33"/><polygon points="288.73,478.86 291.04,482.96 286.42,482.96"/><polygon points="290.27,480.47 292.58,484.57 287.96,484.57"/><polygon points="291.78,481.43 294.09,485.52 289.47,485.52"/><polygon points="293.27,483.00 295.58,487.09 290.96,487.09"/><polygon points="294.72,483.72 297.03,487.81 292.41,487.81"/><polygon points="296.16,485.15 298.47,489.24 293.85,489.24"/><polygon points="297.56,486.81 299.87,490.91 295.25,490.91"/><polygon points="298.94,487.60 301.25,491.70 296.63,491.70"/><polygon points="300.30,489.13 302.61,493.22 297.99,493.22"/><polygon points="301.63,490.30 303.94,494.39 299.32,494.39"/><polygon points="302.95,491.81 305.26,495.91 300.64,495.91"/><polygon points="304.24,492.59 306.55,496.69 301.93,496.69"/><polygon points="305.51,494.22 307.82,498.32 303.20,498.32"/><polygon points="306.76,495.12 309.07,499.22 304.45,499.22"/><polygon points="307.99,495.97 310.30,500.06 305.68,500.06"/><polygon points="309.20,498.99 311.51,503.09 306.89,503.09"/><polygon points="310.40,500.86 312.71,504.96 308.09,504.96"/></g>
<g stroke="#000" stroke-width="1.5" fill="none"><rect x="51.45" y="310.2" width="271.85" height="219.15"/><path d="M51.45 529.35v4.1M51.45 310.2v4.1M83.86 529.35v4.1M83.86 310.2v4.1M124.69 529.35v4.1M124.69 310.2v4.1M157.09 529.35v4.1M157.09 310.2v4.1M212.50 529.35v4.1M212.50 310.2v4.1M253.33 529.35v4.1M253.33 310.2v4.1M280.22 529.35v4.1M280.22 310.2v4.1M308.73 529.35v4.1M308.73 310.2v4.1M51.45 529.35h-4.1M323.3 529.35h-4.1M51.45 500.16h-4.1M323.3 500.16h-4.1M51.45 459.01h-4.1M323.3 459.01h-4.1M51.45 429.81h-4.1M323.3 429.81h-4.1M51.45 388.67h-4.1M323.3 388.67h-4.1M51.45 359.47h-4.1M323.3 359.47h-4.1M51.45 336.83h-4.1M323.3 336.83h-4.1M51.45 318.32h-4.1M323.3 318.32h-4.1M51.45 310.20h-4.1M323.3 310.20h-4.1"/><path d="M54.69 529.35v2.0M54.69 310.2v2.0M57.93 529.35v2.0M57.93 310.2v2.0M61.17 529.35v2.0M61.17 310.2v2.0M64.41 529.35v2.0M64.41 310.2v2.0M67.65 529.35v2.0M67.65 310.2v2.0M70.89 529.35v2.0M70.89 310.2v2.0M74.14 529.35v2.0M74.14 310.2v2.0M77.38 529.35v2.0M77.38 310.2v2.0M80.62 529.35v2.0M80.62 310.2v2.0M87.94 529.35v2.0M87.94 310.2v2.0M92.02 529.35v2.0M92.02 310.2v2.0M96.11 529.35v2.0M96.11 310.2v2.0M100.19 529.35v2.0M100.19 310.2v2.0M104.27 529.35v2.0M104.27 310.2v2.0M108.36 529.35v2.0M108.36 310.2v2.0M112.44 529.35v2.0M112.44 310.2v2.0M116.52 529.35v2.0M116.52 310.2v2.0M120.60 529.35v2.0M120.60 310.2v2.0M127.93 529.35v2.0M127.93 310.2v2.0M131.17 529.35v2.0M131.17 310.2v2.0M134.41 529.35v2.0M134.41 310.2v2.0M137.65 529.35v2.0M137.65 310.2v2.0M140.89 529.35v2.0M140.89 310.2v2.0M144.13 529.35v2.0M144.13 310.2v2.0M147.37 529.35v2.0M147.37 310.2v2.0M150.61 529.35v2.0M150.61 310.2v2.0M153.85 529.35v2.0M153.85 310.2v2.0M162.64 529.35v2.0M162.64 310.2v2.0M168.18 529.35v2.0M168.18 310.2v2.0M173.72 529.35v2.0M173.72 310.2v2.0M179.26 529.35v2.0M179.26 310.2v2.0M184.80 529.35v2.0M184.80 310.2v2.0M190.34 529.35v2.0M190.34 310.2v2.0M195.88 529.35v2.0M195.88 310.2v2.0M201.42 529.35v2.0M201.42 310.2v2.0M206.96 529.35v2.0M206.96 310.2v2.0M216.58 529.35v2.0M216.58 310.2v2.0M220.66 529.35v2.0M220.66 310.2v2.0M224.75 529.35v2.0M224.75 310.2v2.0M228.83 529.35v2.0M228.83 310.2v2.0M232.91 529.35v2.0M232.91 310.2v2.0M236.99 529.35v2.0M236.99 310.2v2.0M241.08 529.35v2.0M241.08 310.2v2.0M245.16 529.35v2.0M245.16 310.2v2.0M249.24 529.35v2.0M249.24 310.2v2.0M256.02 529.35v2.0M256.02 310.2v2.0M258.70 529.35v2.0M258.70 310.2v2.0M261.39 529.35v2.0M261.39 310.2v2.0M264.08 529.35v2.0M264.08 310.2v2.0M266.77 529.35v2.0M266.77 310.2v2.0M269.46 529.35v2.0M269.46 310.2v2.0M272.15 529.35v2.0M272.15 310.2v2.0M274.84 529.35v2.0M274.84 310.2v2.0M277.53 529.35v2.0M277.53 310.2v2.0M283.07 529.35v2.0M283.07 310.2v2.0M285.92 529.35v2.0M285.92 310.2v2.0M288.77 529.35v2.0M288.77 310.2v2.0M291.62 529.35v2.0M291.62 310.2v2.0M294.47 529.35v2.0M294.47 310.2v2.0M297.32 529.35v2.0M297.32 310.2v2.0M300.17 529.35v2.0M300.17 310.2v2.0M303.03 529.35v2.0M303.03 310.2v2.0M305.88 529.35v2.0M305.88 310.2v2.0M51.45 526.43h-2.0M323.3 526.43h-2.0M51.45 523.51h-2.0M323.3 523.51h-2.0M51.45 520.59h-2.0M323.3 520.59h-2.0M51.45 517.67h-2.0M323.3 517.67h-2.0M51.45 514.75h-2.0M323.3 514.75h-2.0M51.45 511.83h-2.0M323.3 511.83h-2.0M51.45 508.91h-2.0M323.3 508.91h-2.0M51.45 505.99h-2.0M323.3 505.99h-2.0M51.45 503.07h-2.0M323.3 503.07h-2.0M51.45 496.04h-2.0M323.3 496.04h-2.0M51.45 491.93h-2.0M323.3 491.93h-2.0M51.45 487.81h-2.0M323.3 487.81h-2.0M51.45 483.70h-2.0M323.3 483.70h-2.0M51.45 479.58h-2.0M323.3 479.58h-2.0M51.45 475.47h-2.0M323.3 475.47h-2.0M51.45 471.35h-2.0M323.3 471.35h-2.0M51.45 467.24h-2.0M323.3 467.24h-2.0M51.45 463.12h-2.0M323.3 463.12h-2.0M51.45 456.09h-2.0M323.3 456.09h-2.0M51.45 453.17h-2.0M323.3 453.17h-2.0M51.45 450.25h-2.0M323.3 450.25h-2.0M51.45 447.33h-2.0M323.3 447.33h-2.0M51.45 444.41h-2.0M323.3 444.41h-2.0M51.45 441.49h-2.0M323.3 441.49h-2.0M51.45 438.57h-2.0M323.3 438.57h-2.0M51.45 435.65h-2.0M323.3 435.65h-2.0M51.45 432.73h-2.0M323.3 432.73h-2.0M51.45 425.70h-2.0M323.3 425.70h-2.0M51.45 421.58h-2.0M323.3 421.58h-2.0M51.45 417.47h-2.0M323.3 417.47h-2.0M51.45 413.35h-2.0M323.3 413.35h-2.0M51.45 409.24h-2.0M323.3 409.24h-2.0M51.45 405.12h-2.0M323.3 405.12h-2.0M51.45 401.01h-2.0M323.3 401.01h-2.0M51.45 396.89h-2.0M323.3 396.89h-2.0M51.45 392.78h-2.0M323.3 392.78h-2.0M51.45 385.75h-2.0M323.3 385.75h-2.0M51.45 382.83h-2.0M323.3 382.83h-2.0M51.45 379.91h-2.0M323.3 379.91h-2.0M51.45 376.99h-2.0M323.3 376.99h-2.0M51.45 374.07h-2.0M323.3 374.07h-2.0M51.45 371.15h-2.0M323.3 371.15h-2.0M51.45 368.23h-2.0M323.3 368.23h-2.0M51.45 365.31h-2.0M323.3 365.31h-2.0M51.45 362.39h-2.0M323.3 362.39h-2.0M51.45 357.21h-2.0M323.3 357.21h-2.0M51.45 354.94h-2.0M323.3 354.94h-2.0M51.45 352.68h-2.0M323.3 352.68h-2.0M51.45 350.41h-2.0M323.3 350.41h-2.0M51.45 348.15h-2.0M323.3 348.15h-2.0M51.45 345.88h-2.0M323.3 345.88h-2.0M51.45 343.62h-2.0M323.3 343.62h-2.0M51.45 341.35h-2.0M323.3 341.35h-2.0M51.45 339.09h-2.0M323.3 339.09h-2.0M51.45 334.98h-2.0M323.3 334.98h-2.0M51.45 333.12h-2.0M323.3 333.12h-2.0M51.45 331.27h-2.0M323.3 331.27h-2.0M51.45 329.42h-2.0M323.3 329.42h-2.0M51.45 327.57h-2.0M323.3 327.57h-2.0M51.45 325.72h-2.0M323.3 325.72h-2.0M51.45 323.87h-2.0M323.3 323.87h-2.0M51.45 322.02h-2.0M323.3 322.02h-2.0M51.45 320.17h-2.0M323.3 320.17h-2.0M51.45 317.51h-2.0M323.3 317.51h-2.0M51.45 316.70h-2.0M323.3 316.70h-2.0M51.45 315.89h-2.0M323.3 315.89h-2.0M51.45 315.07h-2.0M323.3 315.07h-2.0M51.45 314.26h-2.0M323.3 314.26h-2.0M51.45 313.45h-2.0M323.3 313.45h-2.0M51.45 312.64h-2.0M323.3 312.64h-2.0M51.45 311.82h-2.0M323.3 311.82h-2.0M51.45 311.01h-2.0M323.3 311.01h-2.0" stroke-width="1.02"/></g>
<g font-family="Liberation Serif, serif" font-weight="bold" font-size="9" fill="#000"><text x="51.45" y="543.85" text-anchor="middle">400</text><text x="83.86" y="543.85" text-anchor="middle">600</text><text x="124.69" y="543.85" text-anchor="middle">1000</text><text x="157.09" y="543.85" text-anchor="middle">1500</text><text x="212.50" y="543.85" text-anchor="middle">3000</text><text x="253.33" y="543.85" text-anchor="middle">5000</text><text x="280.22" y="543.85" text-anchor="middle">7000</text><text x="308.73" y="543.85" text-anchor="middle">10000</text><text x="43.85" y="531.92" text-anchor="end">0.075</text><text x="43.85" y="502.72" text-anchor="end">0.10</text><text x="43.85" y="461.57" text-anchor="end">0.15</text><text x="43.85" y="432.38" text-anchor="end">0.2</text><text x="43.85" y="391.23" text-anchor="end">0.3</text><text x="43.85" y="362.04" text-anchor="end">0.4</text><text x="43.85" y="339.39" text-anchor="end">0.5</text><text x="43.85" y="320.89" text-anchor="end">0.6</text><text x="43.85" y="312.76" text-anchor="end">0.65</text></g>
<rect x="55.6" y="494.6" width="63.2" height="28.8" fill="#fff" stroke="#000" stroke-width="1.0"/>
<g fill="none" stroke="#000" stroke-width="0.95"><rect x="63.60" y="498.30" width="3.40" height="3.40"/></g>
<text font-family="Liberation Serif, serif" font-weight="bold" font-size="7.7" x="75.8" y="502.54" textLength="41.3" lengthAdjust="spacingAndGlyphs">Heat Flux = 4</text>
<g fill="none" stroke="#f00" stroke-width="0.95"><circle cx="65.30" cy="509.35" r="1.80"/></g>
<text font-family="Liberation Serif, serif" font-weight="bold" font-size="7.7" x="75.8" y="511.89" textLength="41.3" lengthAdjust="spacingAndGlyphs">Heat Flux = 3</text>
<g fill="none" stroke="#00f" stroke-width="0.95"><polygon points="65.30,516.40 67.50,520.30 63.10,520.30"/></g>
<text font-family="Liberation Serif, serif" font-weight="bold" font-size="7.7" x="75.8" y="521.24" textLength="41.3" lengthAdjust="spacingAndGlyphs">Heat Flux = 2</text>
<text font-family="Liberation Serif, serif" font-weight="bold" font-style="italic" font-size="11.5" text-anchor="middle" x="187.38" y="562">Re</text>
<text font-family="Liberation Serif, serif" font-size="10" text-anchor="middle" x="186.88" y="579.2">(c)</text>
<text font-family="Liberation Serif, serif" font-weight="bold" font-style="italic" font-size="11.5" text-anchor="middle" transform="translate(18.5,420.77) rotate(-90)">f</text>
<g fill="#000" stroke="none"><rect x="428.80" y="323.80" width="4.20" height="4.20"/><rect x="449.60" y="332.89" width="4.20" height="4.20"/><rect x="466.69" y="339.88" width="4.20" height="4.20"/><rect x="480.73" y="347.26" width="4.20" height="4.20"/><rect x="492.68" y="352.55" width="4.20" height="4.20"/><rect x="503.62" y="358.54" width="4.20" height="4.20"/><rect x="513.36" y="363.43" width="4.20" height="4.20"/><rect x="521.11" y="365.51" width="4.20" height="4.20"/><rect x="528.15" y="367.20" width="4.20" height="4.20"/><rect x="534.49" y="377.39" width="4.20" height="4.20"/><rect x="541.04" y="378.27" width="4.20" height="4.20"/><rect x="546.68" y="382.96" width="4.20" height="4.20"/><rect x="552.02" y="389.45" width="4.20" height="4.20"/><rect x="557.27" y="395.24" width="4.20" height="4.20"/><rect x="562.21" y="400.92" width="4.20" height="4.20"/><rect x="566.66" y="405.31" width="4.20" height="4.20"/><rect x="570.70" y="409.50" width="4.20" height="4.20"/><rect x="574.84" y="413.49" width="4.20" height="4.20"/><rect x="578.69" y="417.87" width="4.20" height="4.20"/><rect x="582.93" y="422.26" width="4.20" height="4.20"/><rect x="585.06" y="424.74" width="4.20" height="4.20"/><rect x="588.45" y="428.98" width="4.20" height="4.20"/><rect x="591.71" y="433.27" width="4.20" height="4.20"/><rect x="594.84" y="436.74" width="4.20" height="4.20"/><rect x="597.86" y="439.53" width="4.20" height="4.20"/><rect x="600.77" y="442.43" width="4.20" height="4.20"/><rect x="603.59" y="445.43" width="4.20" height="4.20"/><rect x="606.31" y="448.69" width="4.20" height="4.20"/><rect x="608.94" y="451.07" width="4.20" height="4.20"/><rect x="611.49" y="453.15" width="4.20" height="4.20"/><rect x="613.97" y="454.50" width="4.20" height="4.20"/><rect x="616.37" y="456.55" width="4.20" height="4.20"/><rect x="618.70" y="458.35" width="4.20" height="4.20"/><rect x="620.98" y="460.47" width="4.20" height="4.20"/><rect x="623.19" y="461.85" width="4.20" height="4.20"/><rect x="625.34" y="463.75" width="4.20" height="4.20"/><rect x="627.44" y="465.13" width="4.20" height="4.20"/><rect x="629.49" y="466.38" width="4.20" height="4.20"/><rect x="631.49" y="468.44" width="4.20" height="4.20"/><rect x="633.44" y="470.29" width="4.20" height="4.20"/><rect x="635.35" y="472.00" width="4.20" height="4.20"/><rect x="637.22" y="473.24" width="4.20" height="4.20"/><rect x="639.04" y="474.80" width="4.20" height="4.20"/><rect x="640.83" y="476.00" width="4.20" height="4.20"/><rect x="642.58" y="478.15" width="4.20" height="4.20"/><rect x="644.29" y="479.67" width="4.20" height="4.20"/><rect x="645.97" y="480.35" width="4.20" height="4.20"/><rect x="647.61" y="481.70" width="4.20" height="4.20"/><rect x="649.23" y="483.12" width="4.20" height="4.20"/><rect x="650.81" y="485.02" width="4.20" height="4.20"/><rect x="652.37" y="486.18" width="4.20" height="4.20"/><rect x="653.90" y="487.94" width="4.20" height="4.20"/><rect x="655.40" y="488.60" width="4.20" height="4.20"/><rect x="656.87" y="490.40" width="4.20" height="4.20"/><rect x="658.32" y="491.15" width="4.20" height="4.20"/><rect x="659.75" y="492.62" width="4.20" height="4.20"/><rect x="661.15" y="493.42" width="4.20" height="4.20"/><rect x="662.53" y="494.58" width="4.20" height="4.20"/><rect x="663.88" y="495.93" width="4.20" height="4.20"/><rect x="665.22" y="497.20" width="4.20" height="4.20"/><rect x="666.53" y="499.00" width="4.20" height="4.20"/><rect x="667.83" y="500.13" width="4.20" height="4.20"/><rect x="669.10" y="502.02" width="4.20" height="4.20"/><rect x="670.36" y="503.14" width="4.20" height="4.20"/><rect x="671.60" y="505.23" width="4.20" height="4.20"/></g>
<g fill="#f00" stroke="none"><circle cx="430.60" cy="326.20" r="2.30"/><circle cx="451.40" cy="335.30" r="2.30"/><circle cx="467.30" cy="342.30" r="2.30"/><circle cx="481.32" cy="349.70" r="2.30"/><circle cx="493.24" cy="355.00" r="2.30"/><circle cx="504.15" cy="361.00" r="2.30"/><circle cx="513.87" cy="365.90" r="2.30"/><circle cx="521.59" cy="368.00" r="2.30"/><circle cx="528.61" cy="369.70" r="2.30"/><circle cx="534.93" cy="379.90" r="2.30"/><circle cx="541.44" cy="380.80" r="2.30"/><circle cx="547.06" cy="385.50" r="2.30"/><circle cx="552.38" cy="392.00" r="2.30"/><circle cx="557.59" cy="397.80" r="2.30"/><circle cx="562.51" cy="403.50" r="2.30"/><circle cx="566.93" cy="407.90" r="2.30"/><circle cx="570.94" cy="412.10" r="2.30"/><circle cx="575.06" cy="416.10" r="2.30"/><circle cx="578.88" cy="420.50" r="2.30"/><circle cx="583.09" cy="424.90" r="2.30"/><circle cx="585.19" cy="427.39" r="2.30"/><circle cx="588.56" cy="431.65" r="2.30"/><circle cx="591.79" cy="435.95" r="2.30"/><circle cx="594.89" cy="439.43" r="2.30"/><circle cx="597.88" cy="442.23" r="2.30"/><circle cx="600.76" cy="445.14" r="2.30"/><circle cx="603.54" cy="448.15" r="2.30"/><circle cx="606.23" cy="451.43" r="2.30"/><circle cx="608.84" cy="453.82" r="2.30"/><circle cx="611.36" cy="455.91" r="2.30"/><circle cx="613.80" cy="457.27" r="2.30"/><circle cx="616.18" cy="459.33" r="2.30"/><circle cx="618.48" cy="461.15" r="2.30"/><circle cx="620.72" cy="463.28" r="2.30"/><circle cx="622.90" cy="464.68" r="2.30"/><circle cx="625.03" cy="466.59" r="2.30"/><circle cx="627.10" cy="467.98" r="2.30"/><circle cx="629.11" cy="469.24" r="2.30"/><circle cx="631.08" cy="471.32" r="2.30"/><circle cx="633.00" cy="473.18" r="2.30"/><circle cx="634.88" cy="474.90" r="2.30"/><circle cx="636.71" cy="476.16" r="2.30"/><circle cx="638.50" cy="477.73" r="2.30"/><circle cx="640.26" cy="478.94" r="2.30"/><circle cx="641.97" cy="481.10" r="2.30"/><circle cx="643.65" cy="482.63" r="2.30"/><circle cx="645.30" cy="483.33" r="2.30"/><circle cx="646.91" cy="484.69" r="2.30"/><circle cx="648.49" cy="486.12" r="2.30"/><circle cx="650.04" cy="488.04" r="2.30"/><circle cx="651.57" cy="489.21" r="2.30"/><circle cx="653.06" cy="490.97" r="2.30"/><circle cx="654.52" cy="491.65" r="2.30"/><circle cx="655.96" cy="493.47" r="2.30"/><circle cx="657.38" cy="494.23" r="2.30"/><circle cx="658.77" cy="495.71" r="2.30"/><circle cx="660.13" cy="496.52" r="2.30"/><circle cx="661.48" cy="497.69" r="2.30"/><circle cx="662.80" cy="499.06" r="2.30"/><circle cx="664.10" cy="500.33" r="2.30"/><circle cx="665.38" cy="502.15" r="2.30"/><circle cx="666.64" cy="503.30" r="2.30"/><circle cx="667.88" cy="505.19" r="2.30"/><circle cx="669.10" cy="506.33" r="2.30"/><circle cx="670.30" cy="508.43" r="2.30"/></g>
<g fill="#00f" stroke="none"><polygon points="427.60,323.08 430.30,327.86 424.91,327.86"/><polygon points="448.40,332.18 451.09,336.96 445.70,336.96"/><polygon points="464.70,339.18 467.39,343.96 462.00,343.96"/><polygon points="478.70,346.58 481.39,351.36 476.00,351.36"/><polygon points="490.60,351.88 493.30,356.66 487.91,356.66"/><polygon points="501.50,357.88 504.19,362.66 498.81,362.66"/><polygon points="511.20,362.78 513.89,367.56 508.50,367.56"/><polygon points="518.90,364.88 521.60,369.66 516.20,369.66"/><polygon points="525.90,366.58 528.60,371.36 523.20,371.36"/><polygon points="532.20,376.78 534.90,381.56 529.50,381.56"/><polygon points="538.70,377.68 541.40,382.46 536.00,382.46"/><polygon points="544.30,382.38 547.00,387.16 541.60,387.16"/><polygon points="549.60,388.88 552.30,393.66 546.90,393.66"/><polygon points="554.80,394.68 557.50,399.46 552.10,399.46"/><polygon points="559.70,400.38 562.40,405.16 557.00,405.16"/><polygon points="564.10,404.78 566.80,409.56 561.40,409.56"/><polygon points="568.10,408.98 570.80,413.76 565.40,413.76"/><polygon points="572.20,412.98 574.90,417.76 569.50,417.76"/><polygon points="576.00,417.38 578.70,422.16 573.30,422.16"/><polygon points="580.20,421.78 582.90,426.56 577.50,426.56"/><polygon points="582.29,424.27 584.98,429.05 579.59,429.05"/><polygon points="585.64,428.53 588.33,433.31 582.94,433.31"/><polygon points="588.85,432.83 591.54,437.61 586.15,437.61"/><polygon points="591.94,436.31 594.63,441.09 589.24,441.09"/><polygon points="594.91,439.12 597.61,443.89 592.22,443.89"/><polygon points="597.78,442.02 600.48,446.80 595.09,446.80"/><polygon points="600.55,445.04 603.24,449.81 597.85,449.81"/><polygon points="603.22,448.31 605.92,453.09 600.53,453.09"/><polygon points="605.81,450.70 608.51,455.48 603.12,455.48"/><polygon points="608.32,452.79 611.02,457.57 605.63,457.57"/><polygon points="610.75,454.15 613.45,458.93 608.06,458.93"/><polygon points="613.11,456.22 615.81,460.99 610.42,460.99"/><polygon points="615.40,458.04 618.10,462.81 612.71,462.81"/><polygon points="617.63,460.17 620.33,464.94 614.94,464.94"/><polygon points="619.80,461.56 622.50,466.34 617.11,466.34"/><polygon points="621.91,463.47 624.61,468.25 619.22,468.25"/><polygon points="623.97,464.86 626.66,469.64 621.27,469.64"/><polygon points="625.97,466.12 628.67,470.90 623.28,470.90"/><polygon points="627.93,468.20 630.62,472.98 625.23,472.98"/><polygon points="629.84,470.06 632.53,474.84 627.14,474.84"/><polygon points="631.70,471.79 634.40,476.56 629.01,476.56"/><polygon points="633.52,473.04 636.22,477.82 630.83,477.82"/><polygon points="635.30,474.61 638.00,479.39 632.61,479.39"/><polygon points="637.05,475.82 639.74,480.60 634.35,480.60"/><polygon points="638.75,477.98 641.45,482.76 636.06,482.76"/><polygon points="640.42,479.51 643.12,484.29 637.73,484.29"/><polygon points="642.06,480.21 644.75,484.99 639.36,484.99"/><polygon points="643.66,481.57 646.35,486.35 640.96,486.35"/><polygon points="645.23,483.00 647.92,487.78 642.53,487.78"/><polygon points="646.77,484.92 649.47,489.70 644.08,489.70"/><polygon points="648.28,486.09 650.98,490.87 645.59,490.87"/><polygon points="649.77,487.86 652.46,492.63 647.07,492.63"/><polygon points="651.22,488.53 653.92,493.31 648.53,493.31"/><polygon points="652.65,490.35 655.35,495.13 649.96,495.13"/><polygon points="654.06,491.11 656.75,495.89 651.36,495.89"/><polygon points="655.44,492.59 658.13,497.37 652.74,497.37"/><polygon points="656.80,493.40 659.49,498.18 654.10,498.18"/><polygon points="658.13,494.57 660.83,499.35 655.44,499.35"/><polygon points="659.44,495.94 662.14,500.72 656.75,500.72"/><polygon points="660.74,497.22 663.43,501.99 658.04,501.99"/><polygon points="662.01,499.03 664.70,503.81 659.31,503.81"/><polygon points="663.26,500.18 665.95,504.96 660.56,504.96"/><polygon points="664.49,502.07 667.19,506.85 661.80,506.85"/><polygon points="665.70,503.21 668.40,507.99 663.01,507.99"/><polygon points="666.90,505.32 669.60,510.09 664.20,510.09"/></g>
<g stroke="#000" stroke-width="1.5" fill="none"><rect x="408.2" y="308.7" width="271.85" height="219.10"/><path d="M408.20 527.8v4.1M408.20 308.7v4.1M440.61 527.8v4.1M440.61 308.7v4.1M481.44 527.8v4.1M481.44 308.7v4.1M513.84 527.8v4.1M513.84 308.7v4.1M569.25 527.8v4.1M569.25 308.7v4.1M610.08 527.8v4.1M610.08 308.7v4.1M636.97 527.8v4.1M636.97 308.7v4.1M665.48 527.8v4.1M665.48 308.7v4.1M408.2 527.80h-4.1M680.05 527.80h-4.1M408.2 498.61h-4.1M680.05 498.61h-4.1M408.2 457.47h-4.1M680.05 457.47h-4.1M408.2 428.29h-4.1M680.05 428.29h-4.1M408.2 387.15h-4.1M680.05 387.15h-4.1M408.2 357.96h-4.1M680.05 357.96h-4.1M408.2 335.32h-4.1M680.05 335.32h-4.1M408.2 316.82h-4.1M680.05 316.82h-4.1M408.2 308.70h-4.1M680.05 308.70h-4.1"/><path d="M411.44 527.8v2.0M411.44 308.7v2.0M414.68 527.8v2.0M414.68 308.7v2.0M417.92 527.8v2.0M417.92 308.7v2.0M421.16 527.8v2.0M421.16 308.7v2.0M424.40 527.8v2.0M424.40 308.7v2.0M427.64 527.8v2.0M427.64 308.7v2.0M430.89 527.8v2.0M430.89 308.7v2.0M434.13 527.8v2.0M434.13 308.7v2.0M437.37 527.8v2.0M437.37 308.7v2.0M444.69 527.8v2.0M444.69 308.7v2.0M448.77 527.8v2.0M448.77 308.7v2.0M452.86 527.8v2.0M452.86 308.7v2.0M456.94 527.8v2.0M456.94 308.7v2.0M461.02 527.8v2.0M461.02 308.7v2.0M465.11 527.8v2.0M465.11 308.7v2.0M469.19 527.8v2.0M469.19 308.7v2.0M473.27 527.8v2.0M473.27 308.7v2.0M477.35 527.8v2.0M477.35 308.7v2.0M484.68 527.8v2.0M484.68 308.7v2.0M487.92 527.8v2.0M487.92 308.7v2.0M491.16 527.8v2.0M491.16 308.7v2.0M494.40 527.8v2.0M494.40 308.7v2.0M497.64 527.8v2.0M497.64 308.7v2.0M500.88 527.8v2.0M500.88 308.7v2.0M504.12 527.8v2.0M504.12 308.7v2.0M507.36 527.8v2.0M507.36 308.7v2.0M510.60 527.8v2.0M510.60 308.7v2.0M519.39 527.8v2.0M519.39 308.7v2.0M524.93 527.8v2.0M524.93 308.7v2.0M530.47 527.8v2.0M530.47 308.7v2.0M536.01 527.8v2.0M536.01 308.7v2.0M541.55 527.8v2.0M541.55 308.7v2.0M547.09 527.8v2.0M547.09 308.7v2.0M552.63 527.8v2.0M552.63 308.7v2.0M558.17 527.8v2.0M558.17 308.7v2.0M563.71 527.8v2.0M563.71 308.7v2.0M573.33 527.8v2.0M573.33 308.7v2.0M577.41 527.8v2.0M577.41 308.7v2.0M581.50 527.8v2.0M581.50 308.7v2.0M585.58 527.8v2.0M585.58 308.7v2.0M589.66 527.8v2.0M589.66 308.7v2.0M593.74 527.8v2.0M593.74 308.7v2.0M597.83 527.8v2.0M597.83 308.7v2.0M601.91 527.8v2.0M601.91 308.7v2.0M605.99 527.8v2.0M605.99 308.7v2.0M612.77 527.8v2.0M612.77 308.7v2.0M615.45 527.8v2.0M615.45 308.7v2.0M618.14 527.8v2.0M618.14 308.7v2.0M620.83 527.8v2.0M620.83 308.7v2.0M623.52 527.8v2.0M623.52 308.7v2.0M626.21 527.8v2.0M626.21 308.7v2.0M628.90 527.8v2.0M628.90 308.7v2.0M631.59 527.8v2.0M631.59 308.7v2.0M634.28 527.8v2.0M634.28 308.7v2.0M639.82 527.8v2.0M639.82 308.7v2.0M642.67 527.8v2.0M642.67 308.7v2.0M645.52 527.8v2.0M645.52 308.7v2.0M648.37 527.8v2.0M648.37 308.7v2.0M651.22 527.8v2.0M651.22 308.7v2.0M654.07 527.8v2.0M654.07 308.7v2.0M656.92 527.8v2.0M656.92 308.7v2.0M659.78 527.8v2.0M659.78 308.7v2.0M662.63 527.8v2.0M662.63 308.7v2.0M408.2 524.88h-2.0M680.05 524.88h-2.0M408.2 521.96h-2.0M680.05 521.96h-2.0M408.2 519.04h-2.0M680.05 519.04h-2.0M408.2 516.12h-2.0M680.05 516.12h-2.0M408.2 513.21h-2.0M680.05 513.21h-2.0M408.2 510.29h-2.0M680.05 510.29h-2.0M408.2 507.37h-2.0M680.05 507.37h-2.0M408.2 504.45h-2.0M680.05 504.45h-2.0M408.2 501.53h-2.0M680.05 501.53h-2.0M408.2 494.50h-2.0M680.05 494.50h-2.0M408.2 490.38h-2.0M680.05 490.38h-2.0M408.2 486.27h-2.0M680.05 486.27h-2.0M408.2 482.16h-2.0M680.05 482.16h-2.0M408.2 478.04h-2.0M680.05 478.04h-2.0M408.2 473.93h-2.0M680.05 473.93h-2.0M408.2 469.82h-2.0M680.05 469.82h-2.0M408.2 465.70h-2.0M680.05 465.70h-2.0M408.2 461.59h-2.0M680.05 461.59h-2.0M408.2 454.55h-2.0M680.05 454.55h-2.0M408.2 451.64h-2.0M680.05 451.64h-2.0M408.2 448.72h-2.0M680.05 448.72h-2.0M408.2 445.80h-2.0M680.05 445.80h-2.0M408.2 442.88h-2.0M680.05 442.88h-2.0M408.2 439.96h-2.0M680.05 439.96h-2.0M408.2 437.04h-2.0M680.05 437.04h-2.0M408.2 434.12h-2.0M680.05 434.12h-2.0M408.2 431.20h-2.0M680.05 431.20h-2.0M408.2 424.17h-2.0M680.05 424.17h-2.0M408.2 420.06h-2.0M680.05 420.06h-2.0M408.2 415.94h-2.0M680.05 415.94h-2.0M408.2 411.83h-2.0M680.05 411.83h-2.0M408.2 407.72h-2.0M680.05 407.72h-2.0M408.2 403.60h-2.0M680.05 403.60h-2.0M408.2 399.49h-2.0M680.05 399.49h-2.0M408.2 395.38h-2.0M680.05 395.38h-2.0M408.2 391.26h-2.0M680.05 391.26h-2.0M408.2 384.23h-2.0M680.05 384.23h-2.0M408.2 381.31h-2.0M680.05 381.31h-2.0M408.2 378.39h-2.0M680.05 378.39h-2.0M408.2 375.47h-2.0M680.05 375.47h-2.0M408.2 372.55h-2.0M680.05 372.55h-2.0M408.2 369.63h-2.0M680.05 369.63h-2.0M408.2 366.72h-2.0M680.05 366.72h-2.0M408.2 363.80h-2.0M680.05 363.80h-2.0M408.2 360.88h-2.0M680.05 360.88h-2.0M408.2 355.70h-2.0M680.05 355.70h-2.0M408.2 353.43h-2.0M680.05 353.43h-2.0M408.2 351.17h-2.0M680.05 351.17h-2.0M408.2 348.90h-2.0M680.05 348.90h-2.0M408.2 346.64h-2.0M680.05 346.64h-2.0M408.2 344.38h-2.0M680.05 344.38h-2.0M408.2 342.11h-2.0M680.05 342.11h-2.0M408.2 339.85h-2.0M680.05 339.85h-2.0M408.2 337.58h-2.0M680.05 337.58h-2.0M408.2 333.47h-2.0M680.05 333.47h-2.0M408.2 331.62h-2.0M680.05 331.62h-2.0M408.2 329.77h-2.0M680.05 329.77h-2.0M408.2 327.92h-2.0M680.05 327.92h-2.0M408.2 326.07h-2.0M680.05 326.07h-2.0M408.2 324.22h-2.0M680.05 324.22h-2.0M408.2 322.37h-2.0M680.05 322.37h-2.0M408.2 320.52h-2.0M680.05 320.52h-2.0M408.2 318.67h-2.0M680.05 318.67h-2.0M408.2 316.01h-2.0M680.05 316.01h-2.0M408.2 315.20h-2.0M680.05 315.20h-2.0M408.2 314.38h-2.0M680.05 314.38h-2.0M408.2 313.57h-2.0M680.05 313.57h-2.0M408.2 312.76h-2.0M680.05 312.76h-2.0M408.2 311.95h-2.0M680.05 311.95h-2.0M408.2 311.14h-2.0M680.05 311.14h-2.0M408.2 310.32h-2.0M680.05 310.32h-2.0M408.2 309.51h-2.0M680.05 309.51h-2.0" stroke-width="1.02"/></g>
<g font-family="Liberation Serif, serif" font-weight="bold" font-size="9" fill="#000"><text x="408.20" y="542.30" text-anchor="middle">400</text><text x="440.61" y="542.30" text-anchor="middle">600</text><text x="481.44" y="542.30" text-anchor="middle">1000</text><text x="513.84" y="542.30" text-anchor="middle">1500</text><text x="569.25" y="542.30" text-anchor="middle">3000</text><text x="610.08" y="542.30" text-anchor="middle">5000</text><text x="636.97" y="542.30" text-anchor="middle">7000</text><text x="665.48" y="542.30" text-anchor="middle">10000</text><text x="400.60" y="530.37" text-anchor="end">0.075</text><text x="400.60" y="501.18" text-anchor="end">0.10</text><text x="400.60" y="460.04" text-anchor="end">0.15</text><text x="400.60" y="430.85" text-anchor="end">0.2</text><text x="400.60" y="389.71" text-anchor="end">0.3</text><text x="400.60" y="360.52" text-anchor="end">0.4</text><text x="400.60" y="337.88" text-anchor="end">0.5</text><text x="400.60" y="319.39" text-anchor="end">0.6</text><text x="400.60" y="311.26" text-anchor="end">0.65</text></g>
<rect x="411.2" y="494.3" width="63.2" height="29.1" fill="#fff" stroke="#000" stroke-width="1.0"/>
<g fill="#000" stroke="none"><rect x="418.70" y="497.80" width="3.80" height="3.80"/></g>
<text font-family="Liberation Serif, serif" font-weight="bold" font-size="7.7" x="431.3" y="502.24" textLength="41.3" lengthAdjust="spacingAndGlyphs">Heat Flux = 4</text>
<g fill="#f00" stroke="none"><circle cx="420.60" cy="509.05" r="2.00"/></g>
<text font-family="Liberation Serif, serif" font-weight="bold" font-size="7.7" x="431.3" y="511.59" textLength="41.3" lengthAdjust="spacingAndGlyphs">Heat Flux = 3</text>
<g fill="#00f" stroke="none"><polygon points="420.60,516.10 422.80,520.00 418.40,520.00"/></g>
<text font-family="Liberation Serif, serif" font-weight="bold" font-size="7.7" x="431.3" y="520.94" textLength="41.3" lengthAdjust="spacingAndGlyphs">Heat Flux = 2</text>
<text font-family="Liberation Serif, serif" font-weight="bold" font-style="italic" font-size="11.5" text-anchor="middle" x="544.12" y="560">Re</text>
<text font-family="Liberation Serif, serif" font-size="10" text-anchor="middle" x="543.62" y="575">(d)</text>
<text font-family="Liberation Serif, serif" font-weight="bold" font-style="italic" font-size="11.5" text-anchor="middle" transform="translate(375.5,419.25) rotate(-90)">f</text>
<g fill="#fff" stroke="#000" stroke-width="0.36" clip-path="url(#ce)"><rect x="251.20" y="613.74" width="3.68" height="3.68"/><rect x="264.65" y="620.72" width="3.68" height="3.68"/><rect x="275.22" y="626.17" width="3.68" height="3.68"/><rect x="284.04" y="631.77" width="3.68" height="3.68"/><rect x="291.49" y="635.76" width="3.68" height="3.68"/><rect x="297.93" y="640.06" width="3.68" height="3.68"/><rect x="303.62" y="644.12" width="3.68" height="3.68"/><rect x="308.81" y="645.89" width="3.68" height="3.68"/><rect x="313.51" y="647.19" width="3.68" height="3.68"/><rect x="317.88" y="654.63" width="3.68" height="3.68"/><rect x="321.70" y="655.94" width="3.68" height="3.68"/><rect x="325.33" y="659.31" width="3.68" height="3.68"/><rect x="328.64" y="664.38" width="3.68" height="3.68"/><rect x="331.90" y="668.75" width="3.68" height="3.68"/><rect x="334.90" y="673.12" width="3.68" height="3.68"/><rect x="337.71" y="676.81" width="3.68" height="3.68"/><rect x="340.34" y="680.10" width="3.68" height="3.68"/><rect x="343.14" y="683.49" width="3.68" height="3.68"/><rect x="345.55" y="686.35" width="3.68" height="3.68"/><rect x="347.85" y="689.65" width="3.68" height="3.68"/><rect x="350.05" y="692.51" width="3.68" height="3.68"/><rect x="352.16" y="695.91" width="3.68" height="3.68"/><rect x="354.19" y="698.63" width="3.68" height="3.68"/><rect x="356.13" y="700.92" width="3.68" height="3.68"/><rect x="358.00" y="702.76" width="3.68" height="3.68"/><rect x="359.81" y="705.38" width="3.68" height="3.68"/><rect x="361.55" y="707.18" width="3.68" height="3.68"/><rect x="363.23" y="708.74" width="3.68" height="3.68"/><rect x="364.86" y="710.79" width="3.68" height="3.68"/><rect x="366.43" y="712.64" width="3.68" height="3.68"/><rect x="367.96" y="714.52" width="3.68" height="3.68"/><rect x="369.45" y="715.69" width="3.68" height="3.68"/><rect x="370.89" y="716.93" width="3.68" height="3.68"/><rect x="372.29" y="718.25" width="3.68" height="3.68"/><rect x="373.65" y="719.50" width="3.68" height="3.68"/><rect x="374.97" y="721.29" width="3.68" height="3.68"/><rect x="376.27" y="722.42" width="3.68" height="3.68"/><rect x="377.52" y="723.44" width="3.68" height="3.68"/><rect x="378.75" y="724.62" width="3.68" height="3.68"/><rect x="379.95" y="725.76" width="3.68" height="3.68"/><rect x="381.12" y="726.97" width="3.68" height="3.68"/><rect x="382.27" y="728.12" width="3.68" height="3.68"/><rect x="383.38" y="729.01" width="3.68" height="3.68"/><rect x="384.48" y="730.17" width="3.68" height="3.68"/><rect x="385.55" y="731.64" width="3.68" height="3.68"/><rect x="386.60" y="732.33" width="3.68" height="3.68"/><rect x="387.62" y="733.70" width="3.68" height="3.68"/><rect x="388.63" y="734.92" width="3.68" height="3.68"/><rect x="389.61" y="736.14" width="3.68" height="3.68"/><rect x="390.58" y="737.33" width="3.68" height="3.68"/><rect x="391.53" y="738.43" width="3.68" height="3.68"/><rect x="392.46" y="738.96" width="3.68" height="3.68"/><rect x="393.37" y="740.17" width="3.68" height="3.68"/><rect x="394.27" y="741.05" width="3.68" height="3.68"/><rect x="395.15" y="741.75" width="3.68" height="3.68"/><rect x="396.02" y="743.17" width="3.68" height="3.68"/><rect x="396.87" y="743.64" width="3.68" height="3.68"/><rect x="397.71" y="744.83" width="3.68" height="3.68"/><rect x="398.53" y="745.54" width="3.68" height="3.68"/><rect x="399.34" y="746.12" width="3.68" height="3.68"/><rect x="400.14" y="746.84" width="3.68" height="3.68"/><rect x="400.92" y="748.18" width="3.68" height="3.68"/><rect x="401.70" y="749.47" width="3.68" height="3.68"/><rect x="402.46" y="751.69" width="3.68" height="3.68"/><rect x="403.21" y="753.09" width="3.68" height="3.68"/></g>
<g fill="#000" stroke="none" clip-path="url(#ce)"><rect x="251.70" y="619.80" width="4.00" height="4.00"/><rect x="264.71" y="626.77" width="4.00" height="4.00"/><rect x="275.40" y="632.13" width="4.00" height="4.00"/><rect x="284.18" y="637.80" width="4.00" height="4.00"/><rect x="291.66" y="641.86" width="4.00" height="4.00"/><rect x="298.50" y="646.46" width="4.00" height="4.00"/><rect x="304.60" y="650.21" width="4.00" height="4.00"/><rect x="309.44" y="651.81" width="4.00" height="4.00"/><rect x="313.85" y="653.10" width="4.00" height="4.00"/><rect x="317.81" y="660.92" width="4.00" height="4.00"/><rect x="321.91" y="661.60" width="4.00" height="4.00"/><rect x="325.44" y="665.20" width="4.00" height="4.00"/><rect x="328.78" y="670.18" width="4.00" height="4.00"/><rect x="332.06" y="674.62" width="4.00" height="4.00"/><rect x="335.15" y="678.98" width="4.00" height="4.00"/><rect x="337.93" y="682.35" width="4.00" height="4.00"/><rect x="340.46" y="685.56" width="4.00" height="4.00"/><rect x="343.05" y="688.62" width="4.00" height="4.00"/><rect x="345.46" y="691.99" width="4.00" height="4.00"/><rect x="348.11" y="695.36" width="4.00" height="4.00"/><rect x="349.45" y="697.25" width="4.00" height="4.00"/><rect x="351.57" y="700.51" width="4.00" height="4.00"/><rect x="353.61" y="703.81" width="4.00" height="4.00"/><rect x="355.57" y="706.47" width="4.00" height="4.00"/><rect x="357.45" y="708.61" width="4.00" height="4.00"/><rect x="359.27" y="710.83" width="4.00" height="4.00"/><rect x="361.03" y="713.13" width="4.00" height="4.00"/><rect x="362.73" y="715.64" width="4.00" height="4.00"/><rect x="364.38" y="717.46" width="4.00" height="4.00"/><rect x="365.98" y="719.06" width="4.00" height="4.00"/><rect x="367.53" y="720.09" width="4.00" height="4.00"/><rect x="369.03" y="721.66" width="4.00" height="4.00"/><rect x="370.49" y="723.05" width="4.00" height="4.00"/><rect x="371.91" y="724.68" width="4.00" height="4.00"/><rect x="373.30" y="725.74" width="4.00" height="4.00"/><rect x="374.64" y="727.20" width="4.00" height="4.00"/><rect x="375.96" y="728.25" width="4.00" height="4.00"/><rect x="377.24" y="729.21" width="4.00" height="4.00"/><rect x="378.49" y="730.79" width="4.00" height="4.00"/><rect x="379.71" y="732.21" width="4.00" height="4.00"/><rect x="380.90" y="733.53" width="4.00" height="4.00"/><rect x="382.07" y="734.48" width="4.00" height="4.00"/><rect x="383.21" y="735.67" width="4.00" height="4.00"/><rect x="384.33" y="736.59" width="4.00" height="4.00"/><rect x="385.42" y="738.24" width="4.00" height="4.00"/><rect x="386.49" y="739.41" width="4.00" height="4.00"/><rect x="387.54" y="739.93" width="4.00" height="4.00"/><rect x="388.57" y="740.97" width="4.00" height="4.00"/><rect x="389.58" y="742.06" width="4.00" height="4.00"/><rect x="390.58" y="743.52" width="4.00" height="4.00"/><rect x="391.55" y="744.41" width="4.00" height="4.00"/><rect x="392.50" y="745.75" width="4.00" height="4.00"/><rect x="393.44" y="746.26" width="4.00" height="4.00"/><rect x="394.37" y="747.65" width="4.00" height="4.00"/><rect x="395.27" y="748.22" width="4.00" height="4.00"/><rect x="396.16" y="749.35" width="4.00" height="4.00"/><rect x="397.04" y="749.96" width="4.00" height="4.00"/><rect x="397.90" y="750.85" width="4.00" height="4.00"/><rect x="398.75" y="751.89" width="4.00" height="4.00"/><rect x="399.59" y="752.86" width="4.00" height="4.00"/><rect x="400.41" y="754.24" width="4.00" height="4.00"/><rect x="401.22" y="755.11" width="4.00" height="4.00"/><rect x="402.02" y="756.56" width="4.00" height="4.00"/><rect x="402.80" y="757.42" width="4.00" height="4.00"/><rect x="403.58" y="759.03" width="4.00" height="4.00"/></g>
<g fill="#fff" stroke="#f00" stroke-width="0.36" clip-path="url(#ce)"><circle cx="255.60" cy="653.40" r="2.02"/><circle cx="268.36" cy="654.40" r="2.02"/><circle cx="277.99" cy="655.59" r="2.02"/><circle cx="286.43" cy="656.13" r="2.02"/><circle cx="293.18" cy="658.32" r="2.02"/><circle cx="299.18" cy="662.79" r="2.02"/><circle cx="304.94" cy="665.98" r="2.02"/><circle cx="309.69" cy="666.34" r="2.02"/><circle cx="314.19" cy="670.17" r="2.02"/><circle cx="318.01" cy="672.36" r="2.02"/><circle cx="322.13" cy="674.36" r="2.02"/><circle cx="325.76" cy="676.82" r="2.02"/><circle cx="328.70" cy="678.74" r="2.02"/><circle cx="332.08" cy="683.02" r="2.02"/><circle cx="335.08" cy="686.94" r="2.02"/><circle cx="337.89" cy="690.77" r="2.02"/><circle cx="340.52" cy="693.96" r="2.02"/><circle cx="343.02" cy="697.79" r="2.02"/><circle cx="345.46" cy="699.61" r="2.02"/><circle cx="347.77" cy="702.43" r="2.02"/><circle cx="349.96" cy="704.80" r="2.02"/><circle cx="352.02" cy="707.81" r="2.02"/><circle cx="354.02" cy="711.00" r="2.02"/><circle cx="356.02" cy="712.55" r="2.02"/><circle cx="357.84" cy="714.74" r="2.02"/><circle cx="359.46" cy="718.66" r="2.02"/><circle cx="361.15" cy="719.30" r="2.02"/><circle cx="362.96" cy="721.03" r="2.02"/><circle cx="364.56" cy="722.60" r="2.02"/><circle cx="366.12" cy="724.34" r="2.02"/><circle cx="367.64" cy="725.99" r="2.02"/><circle cx="369.10" cy="728.00" r="2.02"/><circle cx="370.53" cy="730.05" r="2.02"/><circle cx="371.92" cy="732.03" r="2.02"/><circle cx="373.26" cy="733.47" r="2.02"/><circle cx="374.58" cy="735.02" r="2.02"/><circle cx="375.86" cy="736.57" r="2.02"/><circle cx="377.10" cy="736.53" r="2.02"/><circle cx="378.32" cy="736.77" r="2.02"/><circle cx="379.51" cy="737.04" r="2.02"/><circle cx="380.67" cy="738.54" r="2.02"/><circle cx="381.81" cy="740.12" r="2.02"/><circle cx="382.92" cy="741.13" r="2.02"/><circle cx="384.00" cy="743.02" r="2.02"/><circle cx="385.06" cy="743.84" r="2.02"/><circle cx="386.10" cy="745.16" r="2.02"/><circle cx="387.12" cy="745.95" r="2.02"/><circle cx="388.12" cy="746.96" r="2.02"/><circle cx="389.10" cy="747.70" r="2.02"/><circle cx="390.06" cy="748.66" r="2.02"/><circle cx="391.00" cy="749.48" r="2.02"/><circle cx="391.93" cy="749.91" r="2.02"/><circle cx="392.83" cy="751.30" r="2.02"/><circle cx="393.73" cy="752.01" r="2.02"/><circle cx="394.60" cy="752.50" r="2.02"/><circle cx="395.46" cy="753.89" r="2.02"/><circle cx="396.31" cy="755.11" r="2.02"/><circle cx="397.14" cy="755.56" r="2.02"/><circle cx="397.96" cy="756.33" r="2.02"/><circle cx="398.77" cy="757.08" r="2.02"/><circle cx="399.56" cy="758.06" r="2.02"/><circle cx="400.34" cy="759.27" r="2.02"/><circle cx="401.11" cy="760.34" r="2.02"/><circle cx="401.86" cy="762.01" r="2.02"/><circle cx="402.61" cy="763.12" r="2.02"/></g>
<g fill="#f00" stroke="none" clip-path="url(#ce)"><circle cx="255.63" cy="665.92" r="2.20"/><circle cx="268.50" cy="667.11" r="2.20"/><circle cx="277.94" cy="667.93" r="2.20"/><circle cx="286.38" cy="668.48" r="2.20"/><circle cx="293.26" cy="670.67" r="2.20"/><circle cx="299.38" cy="674.50" r="2.20"/><circle cx="304.88" cy="677.69" r="2.20"/><circle cx="309.57" cy="678.78" r="2.20"/><circle cx="314.07" cy="682.52" r="2.20"/><circle cx="318.01" cy="684.71" r="2.20"/><circle cx="321.95" cy="686.63" r="2.20"/><circle cx="325.57" cy="689.18" r="2.20"/><circle cx="328.76" cy="691.01" r="2.20"/><circle cx="332.01" cy="695.57" r="2.20"/><circle cx="335.01" cy="699.40" r="2.20"/><circle cx="337.76" cy="703.32" r="2.20"/><circle cx="340.45" cy="706.51" r="2.20"/><circle cx="343.02" cy="709.53" r="2.20"/><circle cx="345.39" cy="712.32" r="2.20"/><circle cx="347.65" cy="714.24" r="2.20"/><circle cx="349.82" cy="717.19" r="2.20"/><circle cx="351.90" cy="719.74" r="2.20"/><circle cx="353.89" cy="722.05" r="2.20"/><circle cx="355.81" cy="724.67" r="2.20"/><circle cx="357.65" cy="727.99" r="2.20"/><circle cx="359.43" cy="730.71" r="2.20"/><circle cx="361.15" cy="732.48" r="2.20"/><circle cx="362.81" cy="734.25" r="2.20"/><circle cx="364.42" cy="736.13" r="2.20"/><circle cx="365.98" cy="737.60" r="2.20"/><circle cx="367.49" cy="739.22" r="2.20"/><circle cx="368.96" cy="740.08" r="2.20"/><circle cx="370.38" cy="741.95" r="2.20"/><circle cx="371.77" cy="743.55" r="2.20"/><circle cx="373.12" cy="745.66" r="2.20"/><circle cx="374.43" cy="747.11" r="2.20"/><circle cx="375.71" cy="747.66" r="2.20"/><circle cx="376.96" cy="748.08" r="2.20"/><circle cx="378.17" cy="748.79" r="2.20"/><circle cx="379.36" cy="749.35" r="2.20"/><circle cx="380.52" cy="750.10" r="2.20"/><circle cx="381.66" cy="751.76" r="2.20"/><circle cx="382.77" cy="753.60" r="2.20"/><circle cx="383.85" cy="754.33" r="2.20"/><circle cx="384.91" cy="756.43" r="2.20"/><circle cx="385.95" cy="757.76" r="2.20"/><circle cx="386.97" cy="758.23" r="2.20"/><circle cx="387.97" cy="759.72" r="2.20"/><circle cx="388.95" cy="760.16" r="2.20"/><circle cx="389.91" cy="760.89" r="2.20"/><circle cx="390.85" cy="762.55" r="2.20"/><circle cx="391.77" cy="763.14" r="2.20"/><circle cx="392.68" cy="764.24" r="2.20"/><circle cx="393.57" cy="764.78" r="2.20"/><circle cx="394.45" cy="765.92" r="2.20"/><circle cx="395.31" cy="767.05" r="2.20"/><circle cx="396.16" cy="767.20" r="2.20"/><circle cx="396.99" cy="767.98" r="2.20"/><circle cx="397.81" cy="768.89" r="2.20"/><circle cx="398.61" cy="770.19" r="2.20"/><circle cx="399.41" cy="770.23" r="2.20"/><circle cx="400.19" cy="771.04" r="2.20"/><circle cx="400.95" cy="772.10" r="2.20"/><circle cx="401.71" cy="773.54" r="2.20"/><circle cx="402.46" cy="774.62" r="2.20"/></g>
<g fill="#fff" stroke="#0f0" stroke-width="0.36" clip-path="url(#ce)"><polygon points="254.54,654.93 256.74,658.83 252.34,658.83"/><polygon points="267.86,659.34 270.06,663.24 265.66,663.24"/><polygon points="277.74,663.41 279.94,667.31 275.54,667.31"/><polygon points="285.93,667.51 288.13,671.41 283.73,671.41"/><polygon points="293.06,667.58 295.26,671.48 290.86,671.48"/><polygon points="299.31,670.72 301.51,674.62 297.11,674.62"/><polygon points="304.81,674.93 307.01,678.83 302.61,678.83"/><polygon points="309.56,679.16 311.76,683.06 307.36,683.06"/><polygon points="314.32,680.82 316.52,684.72 312.12,684.72"/><polygon points="318.32,683.61 320.52,687.51 316.12,687.51"/><polygon points="322.13,686.05 324.33,689.95 319.93,689.95"/><polygon points="325.82,688.97 328.02,692.87 323.62,692.87"/><polygon points="329.01,695.05 331.21,698.95 326.81,698.95"/><polygon points="332.26,698.75 334.46,702.65 330.06,702.65"/><polygon points="335.33,703.02 337.53,706.92 333.13,706.92"/><polygon points="338.02,706.60 340.22,710.50 335.82,710.50"/><polygon points="340.83,710.01 343.03,713.91 338.63,713.91"/><polygon points="343.21,712.65 345.41,716.55 341.01,716.55"/><polygon points="345.58,715.27 347.78,719.17 343.38,719.17"/><polygon points="347.90,717.72 350.10,721.62 345.70,721.62"/><polygon points="350.15,720.46 352.35,724.36 347.95,724.36"/><polygon points="352.34,724.28 354.54,728.18 350.14,728.18"/><polygon points="354.34,727.31 356.54,731.21 352.14,731.21"/><polygon points="356.27,729.78 358.47,733.68 354.07,733.68"/><polygon points="358.34,732.32 360.54,736.22 356.14,736.22"/><polygon points="359.96,734.11 362.16,738.01 357.76,738.01"/><polygon points="361.68,736.19 363.88,740.09 359.48,740.09"/><polygon points="363.35,738.15 365.55,742.05 361.15,742.05"/><polygon points="364.97,739.14 367.17,743.04 362.77,743.04"/><polygon points="366.53,740.37 368.73,744.27 364.33,744.27"/><polygon points="368.05,743.10 370.25,747.00 365.85,747.00"/><polygon points="369.52,745.06 371.72,748.96 367.32,748.96"/><polygon points="370.95,746.92 373.15,750.82 368.75,750.82"/><polygon points="372.34,748.76 374.54,752.66 370.14,752.66"/><polygon points="373.70,750.50 375.90,754.40 371.50,754.40"/><polygon points="375.01,752.42 377.21,756.32 372.81,756.32"/><polygon points="376.30,753.51 378.50,757.41 374.10,757.41"/><polygon points="377.55,752.19 379.75,756.09 375.35,756.09"/><polygon points="378.77,752.27 380.97,756.17 376.57,756.17"/><polygon points="379.96,754.63 382.16,758.53 377.76,758.53"/><polygon points="381.12,756.75 383.32,760.65 378.92,760.65"/><polygon points="382.26,758.49 384.46,762.39 380.06,762.39"/><polygon points="383.37,760.32 385.57,764.22 381.17,764.22"/><polygon points="384.46,761.65 386.66,765.55 382.26,765.55"/><polygon points="385.53,762.75 387.73,766.65 383.33,766.65"/><polygon points="386.57,764.10 388.77,768.00 384.37,768.00"/><polygon points="387.59,765.30 389.79,769.20 385.39,769.20"/><polygon points="388.59,766.40 390.79,770.30 386.39,770.30"/><polygon points="389.57,767.01 391.77,770.91 387.37,770.91"/><polygon points="390.53,767.87 392.73,771.77 388.33,771.77"/><polygon points="391.48,768.63 393.68,772.53 389.28,772.53"/><polygon points="392.41,769.32 394.61,773.22 390.21,773.22"/><polygon points="393.32,769.88 395.52,773.78 391.12,773.78"/><polygon points="394.21,770.48 396.41,774.38 392.01,774.38"/><polygon points="395.09,771.12 397.29,775.02 392.89,775.02"/><polygon points="395.95,772.26 398.15,776.16 393.75,776.16"/><polygon points="396.80,774.31 399.00,778.21 394.60,778.21"/><polygon points="397.63,776.03 399.83,779.93 395.43,779.93"/><polygon points="398.45,777.31 400.65,781.21 396.25,781.21"/><polygon points="399.26,778.39 401.46,782.29 397.06,782.29"/><polygon points="400.05,779.33 402.25,783.23 397.85,783.23"/><polygon points="400.83,780.28 403.03,784.18 398.63,784.18"/><polygon points="401.60,781.66 403.80,785.56 399.40,785.56"/><polygon points="402.36,783.32 404.56,787.22 400.16,787.22"/><polygon points="403.11,783.88 405.31,787.78 400.91,787.78"/></g>
<g fill="#0f0" stroke="none" clip-path="url(#ce)"><polygon points="254.66,659.30 256.86,663.20 252.46,663.20"/><polygon points="267.92,663.80 270.12,667.70 265.72,667.70"/><polygon points="277.67,667.63 279.87,671.53 275.47,671.53"/><polygon points="286.11,671.78 288.31,675.68 283.91,675.68"/><polygon points="292.98,672.05 295.18,675.95 290.78,675.95"/><polygon points="299.36,675.17 301.56,679.07 297.16,679.07"/><polygon points="304.73,679.49 306.93,683.39 302.53,683.39"/><polygon points="309.67,683.37 311.87,687.27 307.47,687.27"/><polygon points="314.23,685.09 316.43,688.99 312.03,688.99"/><polygon points="318.42,688.23 320.62,692.13 316.22,692.13"/><polygon points="322.23,690.75 324.43,694.65 320.03,694.65"/><polygon points="325.86,693.79 328.06,697.69 323.66,697.69"/><polygon points="328.92,699.46 331.12,703.36 326.72,703.36"/><polygon points="332.17,703.15 334.37,707.05 329.97,707.05"/><polygon points="335.17,706.64 337.37,710.54 332.97,710.54"/><polygon points="338.17,711.06 340.37,714.96 335.97,714.96"/><polygon points="340.81,714.02 343.01,717.92 338.61,717.92"/><polygon points="343.31,716.70 345.51,720.60 341.11,720.60"/><polygon points="345.69,719.66 347.89,723.56 343.49,723.56"/><polygon points="347.97,722.21 350.17,726.11 345.77,726.11"/><polygon points="350.15,725.19 352.35,729.09 347.95,729.09"/><polygon points="352.23,728.50 354.43,732.40 350.03,732.40"/><polygon points="354.23,731.52 356.43,735.42 352.03,735.42"/><polygon points="356.16,734.22 358.36,738.12 353.96,738.12"/><polygon points="358.01,736.58 360.21,740.48 355.81,740.48"/><polygon points="359.80,738.92 362.00,742.82 357.60,742.82"/><polygon points="361.52,740.92 363.72,744.82 359.32,744.82"/><polygon points="363.19,742.56 365.39,746.46 360.99,746.46"/><polygon points="364.81,743.85 367.01,747.75 362.61,747.75"/><polygon points="366.37,745.29 368.57,749.19 364.17,749.19"/><polygon points="367.89,747.90 370.09,751.80 365.69,751.80"/><polygon points="369.36,750.16 371.56,754.06 367.16,754.06"/><polygon points="370.79,752.02 372.99,755.92 368.59,755.92"/><polygon points="372.18,753.65 374.38,757.55 369.98,757.55"/><polygon points="373.53,755.07 375.73,758.97 371.33,758.97"/><polygon points="374.85,756.59 377.05,760.49 372.65,760.49"/><polygon points="376.13,757.96 378.33,761.86 373.93,761.86"/><polygon points="377.38,757.98 379.58,761.88 375.18,761.88"/><polygon points="378.60,758.27 380.80,762.17 376.40,762.17"/><polygon points="379.79,759.55 381.99,763.45 377.59,763.45"/><polygon points="380.95,761.21 383.15,765.11 378.75,765.11"/><polygon points="382.09,762.97 384.29,766.87 379.89,766.87"/><polygon points="383.20,764.55 385.40,768.45 381.00,768.45"/><polygon points="384.29,766.06 386.49,769.96 382.09,769.96"/><polygon points="385.35,767.25 387.55,771.15 383.15,771.15"/><polygon points="386.40,768.41 388.60,772.31 384.20,772.31"/><polygon points="387.42,769.28 389.62,773.18 385.22,773.18"/><polygon points="388.42,769.88 390.62,773.78 386.22,773.78"/><polygon points="389.40,770.86 391.60,774.76 387.20,774.76"/><polygon points="390.36,771.38 392.56,775.28 388.16,775.28"/><polygon points="391.30,772.35 393.50,776.25 389.10,776.25"/><polygon points="392.23,773.54 394.43,777.44 390.03,777.44"/><polygon points="393.14,773.96 395.34,777.86 390.94,777.86"/><polygon points="394.03,774.89 396.23,778.79 391.83,778.79"/><polygon points="394.91,776.12 397.11,780.02 392.71,780.02"/><polygon points="395.77,778.16 397.97,782.06 393.57,782.06"/><polygon points="396.62,780.35 398.82,784.25 394.42,784.25"/><polygon points="397.45,781.67 399.65,785.57 395.25,785.57"/><polygon points="398.27,783.05 400.47,786.95 396.07,786.95"/><polygon points="399.08,783.88 401.28,787.78 396.88,787.78"/><polygon points="399.88,785.14 402.08,789.04 397.68,789.04"/><polygon points="400.66,785.97 402.86,789.87 398.46,789.87"/><polygon points="401.43,786.93 403.63,790.83 399.23,790.83"/><polygon points="402.18,788.14 404.38,792.04 399.98,792.04"/><polygon points="402.93,788.38 405.13,792.28 400.73,792.28"/></g>
<g fill="#fff" stroke="#ff8000" stroke-width="0.36" stroke-opacity="0.6" clip-path="url(#ce)"><polygon points="252.29,619.86 254.62,615.73 249.96,615.73"/><polygon points="265.72,626.98 268.05,622.85 263.39,622.85"/><polygon points="276.27,632.26 278.60,628.13 273.95,628.13"/><polygon points="285.07,638.23 287.40,634.11 282.75,634.11"/><polygon points="292.50,641.98 294.83,637.85 290.17,637.85"/><polygon points="298.92,646.57 301.25,642.45 296.59,642.45"/><polygon points="304.59,650.32 306.92,646.19 302.27,646.19"/><polygon points="309.77,651.92 312.09,647.79 307.44,647.79"/><polygon points="314.44,653.67 316.77,649.54 312.11,649.54"/><polygon points="318.80,661.25 321.13,657.13 316.47,657.13"/><polygon points="322.59,662.09 324.92,657.96 320.27,657.96"/><polygon points="326.20,665.45 328.53,661.32 323.87,661.32"/><polygon points="329.50,670.35 331.83,666.22 327.17,666.22"/><polygon points="332.73,674.79 335.06,670.66 330.40,670.66"/><polygon points="335.71,679.38 338.04,675.25 333.39,675.25"/><polygon points="338.51,682.74 340.84,678.61 336.18,678.61"/><polygon points="341.12,685.80 343.44,681.67 338.79,681.67"/><polygon points="343.89,688.85 346.22,684.73 341.56,684.73"/><polygon points="346.29,692.33 348.61,688.20 343.96,688.20"/><polygon points="348.57,695.34 350.90,691.21 346.24,691.21"/><polygon points="350.75,698.06 353.08,693.94 348.42,693.94"/><polygon points="352.84,701.56 355.17,697.43 350.51,697.43"/><polygon points="354.84,703.96 357.17,699.83 352.52,699.83"/><polygon points="356.77,706.83 359.10,702.70 354.44,702.70"/><polygon points="358.62,708.72 360.95,704.59 356.29,704.59"/><polygon points="360.41,710.91 362.73,706.79 358.08,706.79"/><polygon points="362.13,713.45 364.46,709.32 359.80,709.32"/><polygon points="363.79,715.43 366.12,711.31 361.46,711.31"/><polygon points="365.40,717.09 367.73,712.97 363.07,712.97"/><polygon points="366.96,718.57 369.28,714.44 364.63,714.44"/><polygon points="368.47,720.25 370.79,716.12 366.14,716.12"/><polygon points="369.93,721.97 372.26,717.85 367.60,717.85"/><polygon points="371.35,723.60 373.68,719.48 369.02,719.48"/><polygon points="372.73,725.16 375.06,721.03 370.40,721.03"/><polygon points="374.07,726.25 376.40,722.12 371.75,722.12"/><polygon points="375.38,728.25 377.71,724.13 373.05,724.13"/><polygon points="376.65,729.47 378.98,725.35 374.32,725.35"/><polygon points="377.89,730.21 380.22,726.08 375.56,726.08"/><polygon points="379.10,731.39 381.43,727.26 376.77,727.26"/><polygon points="380.28,732.48 382.61,728.35 377.95,728.35"/><polygon points="381.43,733.64 383.76,729.52 379.10,729.52"/><polygon points="382.55,734.86 384.88,730.73 380.23,730.73"/><polygon points="383.65,735.86 385.98,731.73 381.32,731.73"/><polygon points="384.73,737.05 387.05,732.92 382.40,732.92"/><polygon points="385.78,738.16 388.10,734.04 383.45,734.04"/><polygon points="386.81,739.33 389.13,735.20 384.48,735.20"/><polygon points="387.81,740.07 390.14,735.94 385.48,735.94"/><polygon points="388.80,741.47 391.13,737.34 386.47,737.34"/><polygon points="389.77,741.94 392.09,737.81 387.44,737.81"/><polygon points="390.71,743.16 393.04,739.03 388.38,739.03"/><polygon points="391.64,743.88 393.97,739.76 389.31,739.76"/><polygon points="392.55,745.08 394.88,740.95 390.22,740.95"/><polygon points="393.45,745.62 395.77,741.49 391.12,741.49"/><polygon points="394.32,746.70 396.65,742.58 392.00,742.58"/><polygon points="395.19,747.97 397.51,743.84 392.86,743.84"/><polygon points="396.03,748.56 398.36,744.43 393.71,744.43"/><polygon points="396.87,749.72 399.19,745.59 394.54,745.59"/><polygon points="397.68,750.60 400.01,746.48 395.36,746.48"/><polygon points="398.49,751.75 400.81,747.63 396.16,747.63"/><polygon points="399.28,752.34 401.61,748.21 396.95,748.21"/><polygon points="400.06,753.58 402.38,749.45 397.73,749.45"/><polygon points="400.82,754.26 403.15,750.13 398.49,750.13"/><polygon points="401.57,754.89 403.90,750.77 399.25,750.77"/><polygon points="402.31,757.20 404.64,753.08 399.99,753.08"/><polygon points="403.04,758.62 405.37,754.50 400.72,754.50"/></g>
<g fill="#ff8000" stroke="none" clip-path="url(#ce)"><polygon points="253.51,624.67 256.04,620.19 250.98,620.19"/><polygon points="266.52,631.66 269.05,627.17 263.99,627.17"/><polygon points="276.47,637.03 279.00,632.54 273.94,632.54"/><polygon points="285.24,642.71 287.77,638.22 282.71,638.22"/><polygon points="292.69,646.77 295.22,642.29 290.16,642.29"/><polygon points="299.52,651.38 302.05,646.89 296.99,646.89"/><polygon points="305.60,655.14 308.13,650.65 303.07,650.65"/><polygon points="310.43,656.75 312.96,652.27 307.90,652.27"/><polygon points="314.82,658.05 317.35,653.57 312.29,653.57"/><polygon points="318.77,665.88 321.30,661.40 316.24,661.40"/><polygon points="322.85,666.57 325.38,662.09 320.32,662.09"/><polygon points="326.36,670.18 328.89,665.69 323.83,665.69"/><polygon points="329.69,675.17 332.22,670.68 327.16,670.68"/><polygon points="332.95,679.62 335.48,675.13 330.42,675.13"/><polygon points="336.03,683.99 338.56,679.51 333.50,679.51"/><polygon points="338.79,687.37 341.32,682.88 336.26,682.88"/><polygon points="341.30,690.59 343.83,686.11 338.77,686.11"/><polygon points="343.88,693.66 346.41,689.18 341.35,689.18"/><polygon points="346.26,697.04 348.79,692.55 343.73,692.55"/><polygon points="348.90,700.41 351.43,695.93 346.37,695.93"/><polygon points="350.22,702.32 352.75,697.84 347.69,697.84"/><polygon points="352.32,705.59 354.85,701.11 349.79,701.11"/><polygon points="354.34,708.89 356.87,704.41 351.81,704.41"/><polygon points="356.28,711.56 358.81,707.08 353.75,707.08"/><polygon points="358.15,713.72 360.68,709.23 355.62,709.23"/><polygon points="359.95,715.95 362.48,711.46 357.42,711.46"/><polygon points="361.69,718.26 364.22,713.77 359.16,713.77"/><polygon points="363.38,720.77 365.91,716.28 360.85,716.28"/><polygon points="365.00,722.61 367.53,718.12 362.47,718.12"/><polygon points="366.58,724.21 369.11,719.73 364.05,719.73"/><polygon points="368.11,725.26 370.64,720.77 365.58,720.77"/><polygon points="369.60,726.84 372.13,722.35 367.07,722.35"/><polygon points="371.04,728.23 373.57,723.75 368.51,723.75"/><polygon points="372.44,729.87 374.97,725.38 369.91,725.38"/><polygon points="373.80,730.94 376.33,726.45 371.27,726.45"/><polygon points="375.13,732.41 377.66,727.92 372.60,727.92"/><polygon points="376.43,733.47 378.96,728.99 373.90,728.99"/><polygon points="377.69,734.44 380.22,729.95 375.16,729.95"/><polygon points="378.92,736.03 381.45,731.55 376.39,731.55"/><polygon points="380.12,737.46 382.65,732.98 377.59,732.98"/><polygon points="381.29,738.78 383.82,734.30 378.76,734.30"/><polygon points="382.44,739.75 384.97,735.26 379.91,735.26"/><polygon points="383.56,740.95 386.09,736.47 381.03,736.47"/><polygon points="384.66,741.88 387.19,737.40 382.13,737.40"/><polygon points="385.73,743.54 388.26,739.06 383.20,739.06"/><polygon points="386.78,744.71 389.31,740.23 384.25,740.23"/><polygon points="387.81,745.25 390.34,740.76 385.28,740.76"/><polygon points="388.82,746.29 391.35,741.81 386.29,741.81"/><polygon points="389.81,747.39 392.34,742.91 387.28,742.91"/><polygon points="390.78,748.86 393.31,744.38 388.25,744.38"/><polygon points="391.73,749.76 394.26,745.28 389.20,745.28"/><polygon points="392.67,751.12 395.20,746.63 390.14,746.63"/><polygon points="393.58,751.64 396.11,747.15 391.05,747.15"/><polygon points="394.48,753.03 397.01,748.54 391.95,748.54"/><polygon points="395.37,753.61 397.90,749.13 392.84,749.13"/><polygon points="396.24,754.75 398.77,750.26 393.71,750.26"/><polygon points="397.09,755.37 399.62,750.89 394.56,750.89"/><polygon points="397.93,756.27 400.46,751.79 395.40,751.79"/><polygon points="398.76,757.32 401.29,752.83 396.23,752.83"/><polygon points="399.57,758.30 402.10,753.81 397.04,753.81"/><polygon points="400.37,759.69 402.90,755.20 397.84,755.20"/><polygon points="401.16,760.57 403.69,756.09 398.63,756.09"/><polygon points="401.94,762.03 404.47,757.54 399.41,757.54"/><polygon points="402.70,762.90 405.23,758.42 400.17,758.42"/><polygon points="403.45,764.52 405.98,760.03 400.92,760.03"/></g>
<g fill="#fff" stroke="#00f" stroke-width="0.36" clip-path="url(#ce)"><polygon points="253.50,652.79 255.71,655.00 253.50,657.21 251.29,655.00"/><polygon points="266.26,653.63 268.47,655.84 266.26,658.04 264.05,655.84"/><polygon points="275.89,654.72 278.10,656.93 275.89,659.14 273.68,656.93"/><polygon points="284.33,655.39 286.54,657.60 284.33,659.80 282.12,657.60"/><polygon points="291.08,657.03 293.29,659.24 291.08,661.45 288.87,659.24"/><polygon points="297.08,660.62 299.29,662.82 297.08,665.03 294.88,662.82"/><polygon points="302.84,664.30 305.05,666.51 302.84,668.71 300.63,666.51"/><polygon points="307.59,665.82 309.80,668.03 307.59,670.24 305.38,668.03"/><polygon points="312.09,668.18 314.30,670.39 312.09,672.59 309.88,670.39"/><polygon points="315.91,671.07 318.11,673.28 315.91,675.49 313.70,673.28"/><polygon points="320.03,673.40 322.24,675.61 320.03,677.82 317.83,675.61"/><polygon points="323.66,675.58 325.87,677.79 323.66,679.99 321.45,677.79"/><polygon points="326.60,677.65 328.81,679.86 326.60,682.06 324.39,679.86"/><polygon points="329.98,680.75 332.18,682.96 329.98,685.16 327.77,682.96"/><polygon points="332.98,684.69 335.19,686.90 332.98,689.10 330.77,686.90"/><polygon points="335.79,688.50 338.00,690.70 335.79,692.91 333.58,690.70"/><polygon points="338.42,692.08 340.63,694.29 338.42,696.50 336.21,694.29"/><polygon points="340.92,695.33 343.13,697.54 340.92,699.74 338.71,697.54"/><polygon points="343.36,698.88 345.57,701.08 343.36,703.29 341.15,701.08"/><polygon points="345.67,700.78 347.88,702.99 345.67,705.20 343.46,702.99"/><polygon points="347.86,703.52 350.07,705.73 347.86,707.93 345.65,705.73"/><polygon points="349.92,705.82 352.13,708.03 349.92,710.24 347.71,708.03"/><polygon points="351.92,708.79 354.13,711.00 351.92,713.21 349.72,711.00"/><polygon points="353.92,712.03 356.13,714.24 353.92,716.45 351.72,714.24"/><polygon points="355.74,713.58 357.95,715.79 355.74,718.00 353.53,715.79"/><polygon points="357.36,715.47 359.57,717.68 357.36,719.89 355.16,717.68"/><polygon points="359.05,719.03 361.26,721.23 359.05,723.44 356.84,721.23"/><polygon points="360.86,720.58 363.06,722.78 360.86,724.99 358.65,722.78"/><polygon points="362.46,721.95 364.67,724.16 362.46,726.36 360.26,724.16"/><polygon points="364.02,723.46 366.23,725.67 364.02,727.88 361.82,725.67"/><polygon points="365.54,725.07 367.74,727.28 365.54,729.49 363.33,727.28"/><polygon points="367.00,726.69 369.21,728.90 367.00,731.11 364.80,728.90"/><polygon points="368.43,728.47 370.64,730.68 368.43,732.88 366.22,730.68"/><polygon points="369.82,730.41 372.02,732.62 369.82,734.83 367.61,732.62"/><polygon points="371.16,732.35 373.37,734.56 371.16,736.76 368.96,734.56"/><polygon points="372.48,734.02 374.69,736.23 372.48,738.44 370.27,736.23"/><polygon points="373.76,735.44 375.96,737.65 373.76,739.86 371.55,737.65"/><polygon points="375.00,736.93 377.21,739.14 375.00,741.35 372.80,739.14"/><polygon points="376.22,737.95 378.43,740.16 376.22,742.36 374.01,740.16"/><polygon points="377.41,737.99 379.62,740.19 377.41,742.40 375.20,740.19"/><polygon points="378.57,738.22 380.78,740.43 378.57,742.64 376.36,740.43"/><polygon points="379.71,738.68 381.91,740.89 379.71,743.10 377.50,740.89"/><polygon points="380.82,740.13 383.02,742.34 380.82,744.55 378.61,742.34"/><polygon points="381.90,741.60 384.11,743.81 381.90,746.02 379.69,743.81"/><polygon points="382.96,742.60 385.17,744.81 382.96,747.02 380.75,744.81"/><polygon points="384.00,744.41 386.21,746.62 384.00,748.83 381.79,746.62"/><polygon points="385.02,745.20 387.23,747.41 385.02,749.61 382.81,747.41"/><polygon points="386.02,746.45 388.23,748.66 386.02,750.87 383.81,748.66"/><polygon points="387.00,747.24 389.21,749.45 387.00,751.66 384.79,749.45"/><polygon points="387.96,748.19 390.17,750.39 387.96,752.60 385.75,750.39"/><polygon points="388.90,748.94 391.11,751.15 388.90,753.35 386.69,751.15"/><polygon points="389.83,749.82 392.03,752.03 389.83,754.24 387.62,752.03"/><polygon points="390.73,750.64 392.94,752.85 390.73,755.06 388.53,752.85"/><polygon points="391.63,751.16 393.83,753.37 391.63,755.58 389.42,753.37"/><polygon points="392.50,752.18 394.71,754.39 392.50,756.60 390.29,754.39"/><polygon points="393.36,753.11 395.57,755.32 393.36,757.53 391.15,755.32"/><polygon points="394.21,753.67 396.42,755.88 394.21,758.09 392.00,755.88"/><polygon points="395.04,754.60 397.25,756.81 395.04,759.02 392.83,756.81"/><polygon points="395.86,755.86 398.07,758.06 395.86,760.27 393.65,758.06"/><polygon points="396.67,756.70 398.87,758.90 396.67,761.11 394.46,758.90"/><polygon points="397.46,757.25 399.67,759.46 397.46,761.67 395.25,759.46"/><polygon points="398.24,757.98 400.45,760.19 398.24,762.40 396.03,760.19"/><polygon points="399.01,758.77 401.22,760.98 399.01,763.18 396.80,760.98"/><polygon points="399.76,759.77 401.97,761.98 399.76,764.19 397.56,761.98"/><polygon points="400.51,760.90 402.72,763.11 400.51,765.32 398.30,763.11"/></g>
<g fill="#00f" stroke="none" clip-path="url(#ce)"><polygon points="252.43,656.82 254.83,659.22 252.43,661.62 250.03,659.22"/><polygon points="265.30,657.72 267.70,660.12 265.30,662.52 262.90,660.12"/><polygon points="274.74,658.55 277.14,660.95 274.74,663.35 272.34,660.95"/><polygon points="283.18,659.17 285.58,661.57 283.18,663.97 280.78,661.57"/><polygon points="290.06,660.55 292.46,662.95 290.06,665.35 287.66,662.95"/><polygon points="296.18,663.40 298.58,665.80 296.18,668.20 293.78,665.80"/><polygon points="301.68,666.73 304.08,669.13 301.68,671.53 299.28,669.13"/><polygon points="306.37,668.94 308.77,671.34 306.37,673.74 303.97,671.34"/><polygon points="310.87,670.77 313.27,673.17 310.87,675.57 308.47,673.17"/><polygon points="314.81,673.83 317.21,676.23 314.81,678.63 312.41,676.23"/><polygon points="318.75,675.97 321.15,678.37 318.75,680.77 316.35,678.37"/><polygon points="322.37,677.83 324.77,680.23 322.37,682.63 319.97,680.23"/><polygon points="325.56,680.07 327.96,682.47 325.56,684.87 323.16,682.47"/><polygon points="328.81,681.98 331.21,684.38 328.81,686.78 326.41,684.38"/><polygon points="331.81,686.19 334.21,688.59 331.81,690.99 329.41,688.59"/><polygon points="334.56,689.72 336.96,692.12 334.56,694.52 332.16,692.12"/><polygon points="337.25,693.49 339.65,695.89 337.25,698.29 334.85,695.89"/><polygon points="339.82,696.66 342.22,699.06 339.82,701.46 337.42,699.06"/><polygon points="342.19,699.45 344.59,701.85 342.19,704.25 339.79,701.85"/><polygon points="344.45,702.12 346.85,704.52 344.45,706.92 342.05,704.52"/><polygon points="346.62,704.26 349.02,706.66 346.62,709.06 344.22,706.66"/><polygon points="348.70,706.56 351.10,708.96 348.70,711.36 346.30,708.96"/><polygon points="350.69,709.16 353.09,711.56 350.69,713.96 348.29,711.56"/><polygon points="352.61,711.46 355.01,713.86 352.61,716.26 350.21,713.86"/><polygon points="354.45,713.72 356.85,716.12 354.45,718.52 352.05,716.12"/><polygon points="356.23,716.34 358.63,718.74 356.23,721.14 353.83,718.74"/><polygon points="357.95,719.35 360.35,721.75 357.95,724.15 355.55,721.75"/><polygon points="359.61,721.80 362.01,724.20 359.61,726.60 357.21,724.20"/><polygon points="361.22,723.46 363.62,725.86 361.22,728.26 358.82,725.86"/><polygon points="362.78,725.12 365.18,727.52 362.78,729.92 360.38,727.52"/><polygon points="364.29,726.88 366.69,729.28 364.29,731.68 361.89,729.28"/><polygon points="365.76,728.29 368.16,730.69 365.76,733.09 363.36,730.69"/><polygon points="367.18,729.79 369.58,732.19 367.18,734.59 364.78,732.19"/><polygon points="368.57,730.75 370.97,733.15 368.57,735.55 366.17,733.15"/><polygon points="369.92,732.24 372.32,734.64 369.92,737.04 367.52,734.64"/><polygon points="371.23,733.83 373.63,736.23 371.23,738.63 368.83,736.23"/><polygon points="372.51,735.61 374.91,738.01 372.51,740.41 370.11,738.01"/><polygon points="373.76,737.27 376.16,739.67 373.76,742.07 371.36,739.67"/><polygon points="374.97,738.24 377.37,740.64 374.97,743.04 372.57,740.64"/><polygon points="376.16,738.71 378.56,741.11 376.16,743.51 373.76,741.11"/><polygon points="377.32,739.19 379.72,741.59 377.32,743.99 374.92,741.59"/><polygon points="378.46,739.82 380.86,742.22 378.46,744.62 376.06,742.22"/><polygon points="379.57,740.39 381.97,742.79 379.57,745.19 377.17,742.79"/><polygon points="380.65,741.19 383.05,743.59 380.65,745.99 378.25,743.59"/><polygon points="381.71,742.76 384.11,745.16 381.71,747.56 379.31,745.16"/><polygon points="382.75,744.48 385.15,746.88 382.75,749.28 380.35,746.88"/><polygon points="383.77,745.18 386.17,747.58 383.77,749.98 381.37,747.58"/><polygon points="384.77,747.05 387.17,749.45 384.77,751.85 382.37,749.45"/><polygon points="385.75,748.40 388.15,750.80 385.75,753.20 383.35,750.80"/><polygon points="386.71,749.01 389.11,751.41 386.71,753.81 384.31,751.41"/><polygon points="387.65,750.15 390.05,752.55 387.65,754.95 385.25,752.55"/><polygon points="388.57,750.89 390.97,753.29 388.57,755.69 386.17,753.29"/><polygon points="389.48,751.47 391.88,753.87 389.48,756.27 387.08,753.87"/><polygon points="390.37,752.61 392.77,755.01 390.37,757.41 387.97,755.01"/><polygon points="391.25,753.71 393.65,756.11 391.25,758.51 388.85,756.11"/><polygon points="392.11,754.45 394.51,756.85 392.11,759.25 389.71,756.85"/><polygon points="392.96,755.30 395.36,757.70 392.96,760.10 390.56,757.70"/><polygon points="393.79,755.96 396.19,758.36 393.79,760.76 391.39,758.36"/><polygon points="394.61,757.02 397.01,759.42 394.61,761.82 392.21,759.42"/><polygon points="395.41,757.96 397.81,760.36 395.41,762.76 393.01,760.36"/><polygon points="396.21,758.14 398.61,760.54 396.21,762.94 393.81,760.54"/><polygon points="396.99,758.88 399.39,761.28 396.99,763.68 394.59,761.28"/><polygon points="397.75,759.73 400.15,762.13 397.75,764.53 395.35,762.13"/><polygon points="398.51,760.92 400.91,763.32 398.51,765.72 396.11,763.32"/><polygon points="399.26,761.12 401.66,763.52 399.26,765.92 396.86,763.52"/><polygon points="400.56,762.41 402.96,764.81 400.56,767.21 398.16,764.81"/><polygon points="401.86,763.69 404.26,766.09 401.86,768.49 399.46,766.09"/></g>
<g fill="#fff" stroke="#f0f" stroke-width="0.36" clip-path="url(#ce)"><polygon points="251.00,656.66 255.13,654.33 255.13,658.99"/><polygon points="264.32,660.84 268.45,658.51 268.45,663.17"/><polygon points="274.20,664.80 278.33,662.48 278.33,667.13"/><polygon points="282.39,669.10 286.52,666.77 286.52,671.43"/><polygon points="289.52,669.26 293.65,666.93 293.65,671.58"/><polygon points="295.78,671.96 299.90,669.63 299.90,674.29"/><polygon points="301.28,675.90 305.41,673.57 305.41,678.23"/><polygon points="306.03,680.33 310.16,678.00 310.16,682.66"/><polygon points="310.78,682.18 314.91,679.85 314.91,684.51"/><polygon points="314.79,684.77 318.91,682.44 318.91,687.09"/><polygon points="318.60,687.26 322.73,684.94 322.73,689.59"/><polygon points="322.29,689.48 326.42,687.16 326.42,691.81"/><polygon points="325.48,695.17 329.60,692.84 329.60,697.49"/><polygon points="328.73,699.30 332.86,696.97 332.86,701.63"/><polygon points="331.79,703.40 335.92,701.07 335.92,705.73"/><polygon points="334.48,707.07 338.61,704.74 338.61,709.40"/><polygon points="337.30,710.61 341.42,708.28 341.42,712.94"/><polygon points="339.67,713.32 343.80,711.00 343.80,715.65"/><polygon points="342.05,715.97 346.17,713.64 346.17,718.30"/><polygon points="344.36,718.46 348.49,716.13 348.49,720.79"/><polygon points="346.61,720.83 350.74,718.51 350.74,723.16"/><polygon points="348.80,724.31 352.93,721.98 352.93,726.64"/><polygon points="350.80,727.62 354.93,725.29 354.93,729.95"/><polygon points="352.74,730.27 356.87,727.95 356.87,732.60"/><polygon points="354.80,732.91 358.93,730.58 358.93,735.24"/><polygon points="356.42,734.78 360.55,732.45 360.55,737.11"/><polygon points="358.15,736.73 362.27,734.41 362.27,739.06"/><polygon points="359.82,738.85 363.94,736.53 363.94,741.18"/><polygon points="361.43,740.46 365.56,738.13 365.56,742.78"/><polygon points="363.00,741.13 367.12,738.81 367.12,743.46"/><polygon points="364.52,743.12 368.64,740.79 368.64,745.44"/><polygon points="365.99,745.50 370.11,743.17 370.11,747.83"/><polygon points="367.42,747.39 371.54,745.06 371.54,749.71"/><polygon points="368.81,749.20 372.94,746.87 372.94,751.52"/><polygon points="370.16,751.01 374.29,748.68 374.29,753.34"/><polygon points="371.48,752.64 375.61,750.32 375.61,754.97"/><polygon points="372.76,754.68 376.89,752.35 376.89,757.01"/><polygon points="374.01,755.26 378.14,752.94 378.14,757.59"/><polygon points="375.23,753.94 379.36,751.61 379.36,756.27"/><polygon points="376.43,754.35 380.55,752.02 380.55,756.68"/><polygon points="377.59,756.66 381.72,754.34 381.72,758.99"/><polygon points="378.73,758.70 382.85,756.37 382.85,761.03"/><polygon points="379.84,760.41 383.97,758.08 383.97,762.74"/><polygon points="380.93,762.19 385.05,759.87 385.05,764.52"/><polygon points="381.99,763.53 386.12,761.21 386.12,765.86"/><polygon points="383.04,764.57 387.16,762.24 387.16,766.89"/><polygon points="384.06,765.92 388.18,763.59 388.18,768.25"/><polygon points="385.06,767.07 389.18,764.74 389.18,769.40"/><polygon points="386.04,768.20 390.17,765.87 390.17,770.52"/><polygon points="387.00,768.86 391.13,766.54 391.13,771.19"/><polygon points="387.95,769.55 392.07,767.23 392.07,771.88"/><polygon points="388.87,770.48 393.00,768.15 393.00,772.81"/><polygon points="389.78,771.01 393.91,768.68 393.91,773.34"/><polygon points="390.68,771.74 394.80,769.41 394.80,774.07"/><polygon points="391.55,772.15 395.68,769.82 395.68,774.47"/><polygon points="392.42,772.91 396.54,770.58 396.54,775.24"/><polygon points="393.26,773.67 397.39,771.35 397.39,776.00"/><polygon points="394.10,775.47 398.22,773.14 398.22,777.80"/><polygon points="394.92,777.48 399.04,775.15 399.04,779.81"/><polygon points="395.73,778.76 399.85,776.43 399.85,781.08"/><polygon points="396.52,779.92 400.65,777.59 400.65,782.24"/><polygon points="397.30,780.85 401.43,778.53 401.43,783.18"/><polygon points="398.07,781.77 402.20,779.44 402.20,784.09"/><polygon points="398.83,782.84 402.96,780.52 402.96,785.17"/><polygon points="399.58,784.43 403.70,782.10 403.70,786.76"/></g>
<g fill="#f0f" stroke="none" clip-path="url(#ce)"><polygon points="250.82,661.20 255.30,658.67 255.30,663.73"/><polygon points="264.07,665.47 268.56,662.94 268.56,668.00"/><polygon points="273.82,669.18 278.31,666.65 278.31,671.71"/><polygon points="282.26,673.56 286.75,671.03 286.75,676.09"/><polygon points="289.14,673.88 293.62,671.35 293.62,676.41"/><polygon points="295.51,676.52 300.00,673.99 300.00,679.05"/><polygon points="300.89,680.60 305.37,678.07 305.37,683.13"/><polygon points="305.83,684.77 310.31,682.24 310.31,687.30"/><polygon points="310.39,686.55 314.87,684.02 314.87,689.08"/><polygon points="314.58,689.47 319.06,686.94 319.06,692.00"/><polygon points="318.39,692.08 322.87,689.55 322.87,694.61"/><polygon points="322.01,694.31 326.50,691.78 326.50,696.84"/><polygon points="325.08,699.66 329.56,697.13 329.56,702.19"/><polygon points="328.33,703.92 332.81,701.39 332.81,706.45"/><polygon points="331.33,707.17 335.81,704.64 335.81,709.70"/><polygon points="334.33,711.53 338.81,709.00 338.81,714.06"/><polygon points="336.96,714.83 341.45,712.30 341.45,717.36"/><polygon points="339.47,717.42 343.95,714.89 343.95,719.95"/><polygon points="341.85,720.34 346.33,717.81 346.33,722.87"/><polygon points="344.12,722.91 348.61,720.38 348.61,725.44"/><polygon points="346.30,725.55 350.79,723.02 350.79,728.08"/><polygon points="348.39,728.72 352.87,726.19 352.87,731.25"/><polygon points="350.39,731.82 354.87,729.29 354.87,734.35"/><polygon points="352.31,734.69 356.80,732.16 356.80,737.22"/><polygon points="354.17,737.13 358.65,734.60 358.65,739.66"/><polygon points="355.95,739.46 360.44,736.93 360.44,741.99"/><polygon points="357.68,741.69 362.16,739.16 362.16,744.22"/><polygon points="359.35,743.46 363.83,740.93 363.83,745.99"/><polygon points="360.96,745.09 365.45,742.56 365.45,747.62"/><polygon points="362.53,746.09 367.01,743.56 367.01,748.62"/><polygon points="364.04,747.95 368.53,745.42 368.53,750.48"/><polygon points="365.51,750.44 370.00,747.91 370.00,752.97"/><polygon points="366.94,752.58 371.43,750.05 371.43,755.11"/><polygon points="368.33,754.34 372.82,751.81 372.82,756.87"/><polygon points="369.68,755.93 374.17,753.40 374.17,758.46"/><polygon points="371.00,757.27 375.49,754.74 375.49,759.80"/><polygon points="372.28,758.81 376.77,756.28 376.77,761.34"/><polygon points="373.53,760.09 378.02,757.56 378.02,762.62"/><polygon points="374.75,760.07 379.24,757.54 379.24,762.60"/><polygon points="375.95,760.36 380.43,757.83 380.43,762.89"/><polygon points="377.11,761.61 381.59,759.08 381.59,764.14"/><polygon points="378.25,763.20 382.73,760.67 382.73,765.73"/><polygon points="379.36,764.95 383.84,762.42 383.84,767.48"/><polygon points="380.45,766.48 384.93,763.95 384.93,769.01"/><polygon points="381.51,767.99 385.99,765.46 385.99,770.52"/><polygon points="382.55,769.19 387.04,766.66 387.04,771.72"/><polygon points="383.57,770.30 388.06,767.77 388.06,772.83"/><polygon points="384.57,771.26 389.06,768.73 389.06,773.79"/><polygon points="385.55,771.85 390.04,769.32 390.04,774.38"/><polygon points="386.52,772.66 391.00,770.13 391.00,775.19"/><polygon points="387.46,773.45 391.94,770.92 391.94,775.98"/><polygon points="388.39,774.03 392.87,771.50 392.87,776.56"/><polygon points="389.30,775.31 393.78,772.78 393.78,777.84"/><polygon points="390.19,776.02 394.67,773.49 394.67,778.55"/><polygon points="391.07,776.51 395.55,773.98 395.55,779.04"/><polygon points="391.93,777.76 396.41,775.23 396.41,780.29"/><polygon points="392.78,779.28 397.26,776.75 397.26,781.81"/><polygon points="393.61,781.53 398.09,779.00 398.09,784.06"/><polygon points="394.43,783.30 398.91,780.77 398.91,785.83"/><polygon points="395.24,784.42 399.72,781.89 399.72,786.95"/><polygon points="396.03,785.67 400.52,783.14 400.52,788.20"/><polygon points="396.81,786.46 401.30,783.93 401.30,788.99"/><polygon points="397.58,787.71 402.07,785.18 402.07,790.24"/><polygon points="398.34,788.43 402.82,785.90 402.82,790.96"/><polygon points="399.09,789.49 403.57,786.96 403.57,792.02"/></g>
<g fill="#fff" stroke="#000080" stroke-width="0.36" stroke-opacity="0.6" clip-path="url(#ce)"><polygon points="254.35,617.19 250.22,614.87 250.22,619.52"/><polygon points="266.99,624.33 262.86,622.00 262.86,626.66"/><polygon points="277.43,629.62 273.31,627.29 273.31,631.95"/><polygon points="286.00,635.61 281.88,633.28 281.88,637.93"/><polygon points="293.32,639.36 289.19,637.04 289.19,641.69"/><polygon points="300.26,643.97 296.14,641.64 296.14,646.30"/><polygon points="305.96,647.73 301.83,645.40 301.83,650.05"/><polygon points="310.90,649.34 306.77,647.01 306.77,651.67"/><polygon points="315.28,651.10 311.15,648.78 311.15,653.43"/><polygon points="319.41,658.70 315.28,656.37 315.28,661.03"/><polygon points="323.28,659.54 319.16,657.21 319.16,661.87"/><polygon points="326.79,662.92 322.66,660.59 322.66,665.25"/><polygon points="330.16,667.83 326.04,665.50 326.04,670.16"/><polygon points="333.35,672.28 329.23,669.95 329.23,674.61"/><polygon points="336.17,676.88 332.04,674.55 332.04,679.21"/><polygon points="338.92,680.26 334.80,677.93 334.80,682.58"/><polygon points="341.55,683.33 337.42,681.00 337.42,685.65"/><polygon points="344.11,686.39 339.99,684.07 339.99,688.72"/><polygon points="346.53,689.88 342.40,687.56 342.40,692.21"/><polygon points="348.81,692.91 344.69,690.58 344.69,695.23"/><polygon points="351.00,695.64 346.87,693.31 346.87,697.97"/><polygon points="353.09,699.15 348.97,696.82 348.97,701.47"/><polygon points="355.10,701.56 350.98,699.23 350.98,703.89"/><polygon points="357.03,704.44 352.91,702.11 352.91,706.77"/><polygon points="358.89,706.34 354.77,704.01 354.77,708.67"/><polygon points="360.69,708.55 356.56,706.22 356.56,710.88"/><polygon points="362.42,711.10 358.29,708.77 358.29,713.42"/><polygon points="364.09,713.09 359.97,710.77 359.97,715.42"/><polygon points="365.71,714.77 361.58,712.44 361.58,717.09"/><polygon points="367.28,716.25 363.15,713.92 363.15,718.58"/><polygon points="368.80,717.95 364.67,715.62 364.67,720.27"/><polygon points="370.28,719.68 366.15,717.35 366.15,722.01"/><polygon points="371.71,721.32 367.58,718.99 367.58,723.65"/><polygon points="373.10,722.89 368.98,720.56 368.98,725.22"/><polygon points="374.46,723.99 370.33,721.67 370.33,726.32"/><polygon points="375.78,726.01 371.65,723.68 371.65,728.34"/><polygon points="377.06,727.24 372.94,724.91 372.94,729.57"/><polygon points="378.32,727.99 374.19,725.66 374.19,730.32"/><polygon points="379.54,729.18 375.41,726.85 375.41,731.51"/><polygon points="380.73,730.28 376.61,727.95 376.61,732.61"/><polygon points="381.90,731.46 377.77,729.13 377.77,733.79"/><polygon points="383.04,732.69 378.91,730.36 378.91,735.02"/><polygon points="384.15,733.70 380.03,731.37 380.03,736.03"/><polygon points="385.24,734.90 381.12,732.57 381.12,737.23"/><polygon points="386.31,736.03 382.18,733.70 382.18,738.35"/><polygon points="387.35,737.20 383.23,734.88 383.23,739.53"/><polygon points="388.38,737.96 384.25,735.63 384.25,740.28"/><polygon points="389.38,739.37 385.25,737.04 385.25,741.70"/><polygon points="390.36,739.85 386.23,737.52 386.23,742.18"/><polygon points="391.32,741.08 387.20,738.76 387.20,743.41"/><polygon points="392.27,741.82 388.14,739.49 388.14,744.15"/><polygon points="393.20,743.02 389.07,740.70 389.07,745.35"/><polygon points="394.11,743.58 389.98,741.25 389.98,745.90"/><polygon points="395.00,744.67 390.88,742.35 390.88,747.00"/><polygon points="395.88,745.95 391.76,743.62 391.76,748.28"/><polygon points="396.75,746.56 392.62,744.23 392.62,748.88"/><polygon points="397.60,747.73 393.47,745.40 393.47,750.05"/><polygon points="398.43,748.62 394.30,746.30 394.30,750.95"/><polygon points="399.25,749.78 395.13,747.46 395.13,752.11"/><polygon points="400.06,750.38 395.93,748.06 395.93,752.71"/><polygon points="400.85,751.63 396.73,749.31 396.73,753.96"/><polygon points="401.64,752.33 397.51,750.00 397.51,754.65"/><polygon points="402.41,752.97 398.28,750.65 398.28,755.30"/><polygon points="403.17,755.29 399.04,752.97 399.04,757.62"/><polygon points="403.91,756.73 399.79,754.40 399.79,759.06"/></g>
<g fill="#000080" stroke="none" clip-path="url(#ce)"><polygon points="254.45,621.80 249.68,619.10 249.68,624.49"/><polygon points="267.46,628.78 262.69,626.09 262.69,631.48"/><polygon points="277.66,634.15 272.88,631.46 272.88,636.85"/><polygon points="286.42,639.83 281.64,637.14 281.64,642.53"/><polygon points="293.86,643.90 289.08,641.20 289.08,646.59"/><polygon points="300.68,648.50 295.90,645.81 295.90,651.20"/><polygon points="306.75,652.26 301.97,649.57 301.97,654.96"/><polygon points="311.56,653.88 306.79,651.18 306.79,656.57"/><polygon points="315.94,655.18 311.16,652.48 311.16,657.87"/><polygon points="319.88,663.01 315.11,660.31 315.11,665.70"/><polygon points="323.95,663.70 319.17,661.00 319.17,666.39"/><polygon points="327.45,667.30 322.67,664.61 322.67,670.00"/><polygon points="330.77,672.29 325.99,669.60 325.99,674.99"/><polygon points="334.02,676.74 329.24,674.05 329.24,679.44"/><polygon points="337.09,681.12 332.31,678.42 332.31,683.81"/><polygon points="339.84,684.49 335.06,681.80 335.06,687.19"/><polygon points="342.34,687.72 337.56,685.02 337.56,690.41"/><polygon points="344.90,690.79 340.13,688.09 340.13,693.48"/><polygon points="347.28,694.16 342.50,691.47 342.50,696.86"/><polygon points="349.91,697.54 345.13,694.84 345.13,700.23"/><polygon points="351.21,699.45 346.44,696.75 346.44,702.14"/><polygon points="353.31,702.72 348.53,700.02 348.53,705.41"/><polygon points="355.32,706.02 350.54,703.32 350.54,708.71"/><polygon points="357.25,708.69 352.47,705.99 352.47,711.38"/><polygon points="359.11,710.84 354.33,708.15 354.33,713.54"/><polygon points="360.91,713.07 356.13,710.38 356.13,715.77"/><polygon points="362.64,715.38 357.86,712.69 357.86,718.08"/><polygon points="364.31,717.89 359.53,715.20 359.53,720.59"/><polygon points="365.93,719.73 361.15,717.04 361.15,722.43"/><polygon points="367.50,721.34 362.72,718.64 362.72,724.03"/><polygon points="369.02,722.38 364.24,719.69 364.24,725.08"/><polygon points="370.50,723.96 365.72,721.27 365.72,726.66"/><polygon points="371.93,725.36 367.15,722.66 367.15,728.05"/><polygon points="373.32,726.99 368.55,724.30 368.55,729.69"/><polygon points="374.68,728.06 369.90,725.37 369.90,730.76"/><polygon points="376.00,729.53 371.22,726.84 371.22,732.23"/><polygon points="377.29,730.60 372.51,727.90 372.51,733.29"/><polygon points="378.54,731.56 373.76,728.87 373.76,734.26"/><polygon points="379.76,733.16 374.99,730.46 374.99,735.85"/><polygon points="380.96,734.59 376.18,731.89 376.18,737.28"/><polygon points="382.12,735.91 377.35,733.21 377.35,738.60"/><polygon points="383.26,736.87 378.49,734.18 378.49,739.57"/><polygon points="384.38,738.08 379.60,735.38 379.60,740.77"/><polygon points="385.47,739.01 380.69,736.31 380.69,741.70"/><polygon points="386.53,740.67 381.76,737.97 381.76,743.36"/><polygon points="387.58,741.84 382.80,739.14 382.80,744.53"/><polygon points="388.60,742.37 383.82,739.68 383.82,745.07"/><polygon points="389.60,743.42 384.83,740.72 384.83,746.11"/><polygon points="390.59,744.52 385.81,741.82 385.81,747.21"/><polygon points="391.55,745.99 386.77,743.29 386.77,748.68"/><polygon points="392.50,746.89 387.72,744.19 387.72,749.58"/><polygon points="393.42,748.24 388.65,745.55 388.65,750.94"/><polygon points="394.34,748.76 389.56,746.07 389.56,751.46"/><polygon points="395.23,750.15 390.45,747.46 390.45,752.85"/><polygon points="396.11,750.74 391.33,748.04 391.33,753.43"/><polygon points="396.97,751.87 392.20,749.18 392.20,754.57"/><polygon points="397.82,752.50 393.04,749.80 393.04,755.19"/><polygon points="398.66,753.39 393.88,750.70 393.88,756.09"/><polygon points="399.48,754.44 394.70,751.75 394.70,757.14"/><polygon points="400.29,755.42 395.51,752.73 395.51,758.12"/><polygon points="401.08,756.81 396.30,754.12 396.30,759.51"/><polygon points="401.86,757.70 397.09,755.00 397.09,760.39"/><polygon points="402.64,759.15 397.86,756.46 397.86,761.85"/><polygon points="403.39,760.03 398.62,757.33 398.62,762.72"/><polygon points="404.14,761.64 399.36,758.95 399.36,764.34"/></g>
<g fill="#fff" stroke="#8000ff" stroke-width="0.36" clip-path="url(#ce)"><circle cx="253.00" cy="655.40" r="2.02"/><circle cx="265.76" cy="656.20" r="2.02"/><circle cx="275.39" cy="657.27" r="2.02"/><circle cx="283.83" cy="657.96" r="2.02"/><circle cx="290.58" cy="659.48" r="2.02"/><circle cx="296.58" cy="662.85" r="2.02"/><circle cx="302.34" cy="666.62" r="2.02"/><circle cx="307.09" cy="668.40" r="2.02"/><circle cx="311.59" cy="670.38" r="2.02"/><circle cx="315.41" cy="673.43" r="2.02"/><circle cx="319.53" cy="675.81" r="2.02"/><circle cx="323.16" cy="677.91" r="2.02"/><circle cx="326.10" cy="680.00" r="2.02"/><circle cx="329.48" cy="682.80" r="2.02"/><circle cx="332.48" cy="686.74" r="2.02"/><circle cx="335.29" cy="690.52" r="2.02"/><circle cx="337.92" cy="694.19" r="2.02"/><circle cx="340.42" cy="697.32" r="2.02"/><circle cx="342.86" cy="701.11" r="2.02"/><circle cx="345.17" cy="703.05" r="2.02"/><circle cx="347.36" cy="705.67" r="2.02"/><circle cx="349.42" cy="708.04" r="2.02"/><circle cx="351.42" cy="710.82" r="2.02"/><circle cx="353.42" cy="714.01" r="2.02"/><circle cx="355.24" cy="715.97" r="2.02"/><circle cx="356.86" cy="717.65" r="2.02"/><circle cx="358.55" cy="720.61" r="2.02"/><circle cx="360.36" cy="723.20" r="2.02"/><circle cx="361.96" cy="724.28" r="2.02"/><circle cx="363.52" cy="725.78" r="2.02"/><circle cx="365.04" cy="727.33" r="2.02"/><circle cx="366.50" cy="728.95" r="2.02"/><circle cx="367.93" cy="730.59" r="2.02"/><circle cx="369.32" cy="732.50" r="2.02"/><circle cx="370.66" cy="734.44" r="2.02"/><circle cx="371.98" cy="736.30" r="2.02"/><circle cx="373.26" cy="737.66" r="2.02"/><circle cx="374.50" cy="739.14" r="2.02"/><circle cx="375.72" cy="740.60" r="2.02"/><circle cx="376.91" cy="740.74" r="2.02"/><circle cx="378.07" cy="740.92" r="2.02"/><circle cx="379.21" cy="741.17" r="2.02"/><circle cx="380.32" cy="742.28" r="2.02"/><circle cx="381.40" cy="743.76" r="2.02"/><circle cx="382.46" cy="744.92" r="2.02"/><circle cx="383.50" cy="746.35" r="2.02"/><circle cx="384.52" cy="747.62" r="2.02"/><circle cx="385.52" cy="748.62" r="2.02"/><circle cx="386.50" cy="749.67" r="2.02"/><circle cx="387.46" cy="750.49" r="2.02"/><circle cx="388.40" cy="751.37" r="2.02"/><circle cx="389.33" cy="752.12" r="2.02"/><circle cx="390.23" cy="753.01" r="2.02"/><circle cx="391.13" cy="753.74" r="2.02"/><circle cx="392.00" cy="754.22" r="2.02"/><circle cx="392.86" cy="755.52" r="2.02"/><circle cx="393.71" cy="756.20" r="2.02"/><circle cx="394.54" cy="756.66" r="2.02"/><circle cx="395.36" cy="757.93" r="2.02"/><circle cx="396.17" cy="759.11" r="2.02"/><circle cx="396.96" cy="759.66" r="2.02"/><circle cx="397.74" cy="760.32" r="2.02"/><circle cx="398.51" cy="761.04" r="2.02"/><circle cx="399.26" cy="761.89" r="2.02"/><circle cx="400.01" cy="762.96" r="2.02"/></g>
<g fill="#8000ff" stroke="none" clip-path="url(#ce)"><circle cx="253.13" cy="659.42" r="2.20"/><circle cx="266.00" cy="660.38" r="2.20"/><circle cx="275.44" cy="661.21" r="2.20"/><circle cx="283.88" cy="661.82" r="2.20"/><circle cx="290.76" cy="663.37" r="2.20"/><circle cx="296.88" cy="666.43" r="2.20"/><circle cx="302.38" cy="669.74" r="2.20"/><circle cx="307.07" cy="671.70" r="2.20"/><circle cx="311.57" cy="673.95" r="2.20"/><circle cx="315.51" cy="676.82" r="2.20"/><circle cx="319.45" cy="678.91" r="2.20"/><circle cx="323.07" cy="680.92" r="2.20"/><circle cx="326.26" cy="683.08" r="2.20"/><circle cx="329.51" cy="685.56" r="2.20"/><circle cx="332.51" cy="689.71" r="2.20"/><circle cx="335.26" cy="693.25" r="2.20"/><circle cx="337.95" cy="697.04" r="2.20"/><circle cx="340.52" cy="700.09" r="2.20"/><circle cx="342.89" cy="702.88" r="2.20"/><circle cx="345.15" cy="705.54" r="2.20"/><circle cx="347.32" cy="707.46" r="2.20"/><circle cx="349.40" cy="710.11" r="2.20"/><circle cx="351.39" cy="712.62" r="2.20"/><circle cx="353.31" cy="714.87" r="2.20"/><circle cx="355.15" cy="717.28" r="2.20"/><circle cx="356.93" cy="720.19" r="2.20"/><circle cx="358.65" cy="723.02" r="2.20"/><circle cx="360.31" cy="725.12" r="2.20"/><circle cx="361.92" cy="726.80" r="2.20"/><circle cx="363.48" cy="728.53" r="2.20"/><circle cx="364.99" cy="730.17" r="2.20"/><circle cx="366.46" cy="731.61" r="2.20"/><circle cx="367.88" cy="732.95" r="2.20"/><circle cx="369.27" cy="733.99" r="2.20"/><circle cx="370.62" cy="735.72" r="2.20"/><circle cx="371.93" cy="737.30" r="2.20"/><circle cx="373.21" cy="739.26" r="2.20"/><circle cx="374.46" cy="740.62" r="2.20"/><circle cx="375.67" cy="741.14" r="2.20"/><circle cx="376.86" cy="741.55" r="2.20"/><circle cx="378.02" cy="742.20" r="2.20"/><circle cx="379.16" cy="742.76" r="2.20"/><circle cx="380.27" cy="743.44" r="2.20"/><circle cx="381.35" cy="744.82" r="2.20"/><circle cx="382.41" cy="746.52" r="2.20"/><circle cx="383.45" cy="747.56" r="2.20"/><circle cx="384.47" cy="749.06" r="2.20"/><circle cx="385.47" cy="750.64" r="2.20"/><circle cx="386.45" cy="751.49" r="2.20"/><circle cx="387.41" cy="752.39" r="2.20"/><circle cx="388.35" cy="753.39" r="2.20"/><circle cx="389.27" cy="753.91" r="2.20"/><circle cx="390.18" cy="754.87" r="2.20"/><circle cx="391.07" cy="756.19" r="2.20"/><circle cx="391.95" cy="756.85" r="2.20"/><circle cx="392.81" cy="757.81" r="2.20"/><circle cx="393.66" cy="758.38" r="2.20"/><circle cx="394.49" cy="759.47" r="2.20"/><circle cx="395.31" cy="760.54" r="2.20"/><circle cx="396.11" cy="760.69" r="2.20"/><circle cx="396.91" cy="761.40" r="2.20"/><circle cx="397.69" cy="762.25" r="2.20"/><circle cx="398.45" cy="763.43" r="2.20"/><circle cx="399.21" cy="763.72" r="2.20"/><circle cx="399.96" cy="764.30" r="2.20"/><circle cx="401.26" cy="765.48" r="2.20"/><circle cx="402.56" cy="766.65" r="2.20"/></g>
<g fill="#fff" stroke="#800080" stroke-width="0.36" clip-path="url(#ce)"><polygon points="256.21,656.86 255.13,658.75 252.95,658.75 251.86,656.86 252.95,654.98 255.13,654.98"/><polygon points="269.53,661.24 268.45,663.12 266.27,663.12 265.18,661.24 266.27,659.35 268.45,659.35"/><polygon points="279.41,665.25 278.32,667.13 276.15,667.13 275.06,665.25 276.15,663.36 278.32,663.36"/><polygon points="287.60,669.62 286.52,671.51 284.34,671.51 283.25,669.62 284.34,667.74 286.52,667.74"/><polygon points="294.73,669.44 293.64,671.32 291.47,671.32 290.38,669.44 291.47,667.56 293.64,667.56"/><polygon points="300.99,672.45 299.90,674.33 297.72,674.33 296.63,672.45 297.72,670.56 299.90,670.56"/><polygon points="306.49,676.55 305.40,678.43 303.22,678.43 302.14,676.55 303.22,674.66 305.40,674.66"/><polygon points="311.24,681.11 310.15,682.99 307.98,682.99 306.89,681.11 307.98,679.22 310.15,679.22"/><polygon points="315.99,682.56 314.90,684.45 312.73,684.45 311.64,682.56 312.73,680.68 314.90,680.68"/><polygon points="319.99,685.39 318.91,687.27 316.73,687.27 315.64,685.39 316.73,683.51 318.91,683.51"/><polygon points="323.81,687.85 322.72,689.74 320.55,689.74 319.46,687.85 320.55,685.97 322.72,685.97"/><polygon points="327.50,690.04 326.41,691.92 324.23,691.92 323.15,690.04 324.23,688.15 326.41,688.15"/><polygon points="330.69,696.60 329.60,698.49 327.42,698.49 326.34,696.60 327.42,694.72 329.60,694.72"/><polygon points="333.94,700.16 332.85,702.04 330.68,702.04 329.59,700.16 330.68,698.27 332.85,698.27"/><polygon points="337.00,704.44 335.91,706.32 333.74,706.32 332.65,704.44 333.74,702.56 335.91,702.56"/><polygon points="339.69,708.09 338.60,709.97 336.43,709.97 335.34,708.09 336.43,706.20 338.60,706.20"/><polygon points="342.51,711.55 341.42,713.43 339.24,713.43 338.15,711.55 339.24,709.66 341.42,709.66"/><polygon points="344.88,714.19 343.79,716.08 341.62,716.08 340.53,714.19 341.62,712.31 343.79,712.31"/><polygon points="347.26,716.84 346.17,718.72 343.99,718.72 342.91,716.84 343.99,714.95 346.17,714.95"/><polygon points="349.57,719.30 348.48,721.18 346.31,721.18 345.22,719.30 346.31,717.41 348.48,717.41"/><polygon points="351.82,721.67 350.73,723.55 348.56,723.55 347.47,721.67 348.56,719.78 350.73,719.78"/><polygon points="354.01,725.59 352.92,727.47 350.75,727.47 349.66,725.59 350.75,723.70 352.92,723.70"/><polygon points="356.01,728.78 354.92,730.66 352.75,730.66 351.66,728.78 352.75,726.89 354.92,726.89"/><polygon points="357.95,731.24 356.86,733.12 354.69,733.12 353.60,731.24 354.69,729.35 356.86,729.35"/><polygon points="360.01,733.88 358.93,735.76 356.75,735.76 355.66,733.88 356.75,732.00 358.93,732.00"/><polygon points="361.63,735.63 360.54,737.51 358.37,737.51 357.28,735.63 358.37,733.74 360.54,733.74"/><polygon points="363.36,737.63 362.27,739.51 360.09,739.51 359.01,737.63 360.09,735.74 362.27,735.74"/><polygon points="365.03,739.85 363.94,741.74 361.76,741.74 360.68,739.85 361.76,737.97 363.94,737.97"/><polygon points="366.64,741.13 365.55,743.01 363.38,743.01 362.29,741.13 363.38,739.25 365.55,739.25"/><polygon points="368.21,741.46 367.12,743.35 364.94,743.35 363.86,741.46 364.94,739.58 367.12,739.58"/><polygon points="369.72,744.53 368.64,746.41 366.46,746.41 365.37,744.53 366.46,742.64 368.64,742.64"/><polygon points="371.20,746.51 370.11,748.39 367.93,748.39 366.85,746.51 367.93,744.63 370.11,744.63"/><polygon points="372.63,748.36 371.54,750.25 369.36,750.25 368.28,748.36 369.36,746.48 371.54,746.48"/><polygon points="374.02,750.18 372.93,752.07 370.75,752.07 369.67,750.18 370.75,748.30 372.93,748.30"/><polygon points="375.37,752.03 374.28,753.92 372.11,753.92 371.02,752.03 372.11,750.15 374.28,750.15"/><polygon points="376.69,753.53 375.60,755.41 373.42,755.41 372.34,753.53 373.42,751.64 375.60,751.64"/><polygon points="377.97,756.07 376.88,757.96 374.71,757.96 373.62,756.07 374.71,754.19 376.88,754.19"/><polygon points="379.22,754.90 378.14,756.79 375.96,756.79 374.87,754.90 375.96,753.02 378.14,753.02"/><polygon points="380.44,753.40 379.36,755.29 377.18,755.29 376.09,753.40 377.18,751.52 379.36,751.52"/><polygon points="381.64,755.72 380.55,757.60 378.37,757.60 377.28,755.72 378.37,753.83 380.55,753.83"/><polygon points="382.80,758.08 381.71,759.97 379.54,759.97 378.45,758.08 379.54,756.20 381.71,756.20"/><polygon points="383.94,759.82 382.85,761.70 380.67,761.70 379.59,759.82 380.67,757.93 382.85,757.93"/><polygon points="385.05,761.53 383.96,763.42 381.79,763.42 380.70,761.53 381.79,759.65 383.96,759.65"/><polygon points="386.14,763.45 385.05,765.34 382.87,765.34 381.79,763.45 382.87,761.57 385.05,761.57"/><polygon points="387.20,764.10 386.11,765.98 383.94,765.98 382.85,764.10 383.94,762.21 386.11,762.21"/><polygon points="388.25,765.67 387.16,767.56 384.98,767.56 383.89,765.67 384.98,763.79 387.16,763.79"/><polygon points="389.27,766.75 388.18,768.63 386.00,768.63 384.91,766.75 386.00,764.87 388.18,764.87"/><polygon points="390.27,768.05 389.18,769.94 387.00,769.94 385.92,768.05 387.00,766.17 389.18,766.17"/><polygon points="391.25,768.93 390.16,770.82 387.98,770.82 386.90,768.93 387.98,767.05 390.16,767.05"/><polygon points="392.21,769.28 391.12,771.16 388.95,771.16 387.86,769.28 388.95,767.39 391.12,767.39"/><polygon points="393.15,770.58 392.07,772.47 389.89,772.47 388.80,770.58 389.89,768.70 392.07,768.70"/><polygon points="394.08,770.86 392.99,772.75 390.82,772.75 389.73,770.86 390.82,768.98 392.99,768.98"/><polygon points="394.99,771.88 393.90,773.77 391.73,773.77 390.64,771.88 391.73,770.00 393.90,770.00"/><polygon points="395.88,772.05 394.80,773.94 392.62,773.94 391.53,772.05 392.62,770.17 394.80,770.17"/><polygon points="396.76,772.98 395.67,774.87 393.50,774.87 392.41,772.98 393.50,771.10 395.67,771.10"/><polygon points="397.63,773.40 396.54,775.28 394.36,775.28 393.27,773.40 394.36,771.52 396.54,771.52"/><polygon points="398.47,775.02 397.39,776.90 395.21,776.90 394.12,775.02 395.21,773.14 397.39,773.14"/><polygon points="399.31,777.33 398.22,779.22 396.04,779.22 394.96,777.33 396.04,775.45 398.22,775.45"/><polygon points="400.13,778.64 399.04,780.52 396.86,780.52 395.78,778.64 396.86,776.75 399.04,776.75"/><polygon points="400.93,779.88 399.85,781.77 397.67,781.77 396.58,779.88 397.67,778.00 399.85,778.00"/><polygon points="401.73,780.84 400.64,782.72 398.47,782.72 397.38,780.84 398.47,778.96 400.64,778.96"/><polygon points="402.51,781.76 401.42,783.64 399.25,783.64 398.16,781.76 399.25,779.87 401.42,779.87"/><polygon points="403.28,782.71 402.19,784.60 400.02,784.60 398.93,782.71 400.02,780.83 402.19,780.83"/><polygon points="404.04,784.30 402.95,786.19 400.77,786.19 399.69,784.30 400.77,782.42 402.95,782.42"/><polygon points="404.79,785.98 403.70,787.86 401.52,787.86 400.43,785.98 401.52,784.09 403.70,784.09"/></g>
<g fill="#ff0080" stroke="none" clip-path="url(#ce)"><polygon points="256.43,661.00 255.25,663.05 252.88,663.05 251.70,661.00 252.88,658.95 255.25,658.95"/><polygon points="269.68,665.47 268.50,667.52 266.13,667.52 264.95,665.47 266.13,663.42 268.50,663.42"/><polygon points="279.43,669.21 278.25,671.26 275.88,671.26 274.70,669.21 275.88,667.16 278.25,667.16"/><polygon points="287.87,673.68 286.69,675.73 284.32,675.73 283.14,673.68 284.32,671.63 286.69,671.63"/><polygon points="294.75,673.68 293.56,675.73 291.20,675.73 290.02,673.68 291.20,671.63 293.56,671.63"/><polygon points="301.12,676.60 299.94,678.64 297.57,678.64 296.39,676.60 297.57,674.55 299.94,674.55"/><polygon points="306.50,680.88 305.31,682.93 302.95,682.93 301.77,680.88 302.95,678.83 305.31,678.83"/><polygon points="311.44,685.08 310.25,687.13 307.89,687.13 306.71,685.08 307.89,683.03 310.25,683.03"/><polygon points="316.00,686.54 314.82,688.59 312.45,688.59 311.27,686.54 312.45,684.49 314.82,684.49"/><polygon points="320.19,689.73 319.00,691.78 316.64,691.78 315.46,689.73 316.64,687.68 319.00,687.68"/><polygon points="324.00,692.28 322.82,694.33 320.45,694.33 319.27,692.28 320.45,690.24 322.82,690.24"/><polygon points="327.62,694.47 326.44,696.52 324.08,696.52 322.89,694.47 324.08,692.42 326.44,692.42"/><polygon points="330.69,700.67 329.50,702.72 327.14,702.72 325.96,700.67 327.14,698.63 329.50,698.63"/><polygon points="333.94,704.41 332.76,706.46 330.39,706.46 329.21,704.41 330.39,702.37 332.76,702.37"/><polygon points="336.94,707.61 335.76,709.65 333.39,709.65 332.21,707.61 333.39,705.56 335.76,705.56"/><polygon points="339.94,712.26 338.75,714.31 336.39,714.31 335.21,712.26 336.39,710.21 338.75,710.21"/><polygon points="342.57,715.32 341.39,717.37 339.02,717.37 337.84,715.32 339.02,713.27 341.39,713.27"/><polygon points="345.08,717.82 343.89,719.87 341.53,719.87 340.35,717.82 341.53,715.77 343.89,715.77"/><polygon points="347.46,720.92 346.28,722.97 343.91,722.97 342.73,720.92 343.91,718.87 346.28,718.87"/><polygon points="349.73,723.35 348.55,725.39 346.19,725.39 345.00,723.35 346.19,721.30 348.55,721.30"/><polygon points="351.91,726.12 350.73,728.17 348.36,728.17 347.18,726.12 348.36,724.07 350.73,724.07"/><polygon points="354.00,729.48 352.81,731.53 350.45,731.53 349.27,729.48 350.45,727.43 352.81,727.43"/><polygon points="356.00,732.54 354.82,734.59 352.45,734.59 351.27,732.54 352.45,730.49 354.82,730.49"/><polygon points="357.92,735.37 356.74,737.42 354.38,737.42 353.19,735.37 354.38,733.32 356.74,733.32"/><polygon points="359.78,737.68 358.59,739.73 356.23,739.73 355.05,737.68 356.23,735.63 358.59,735.63"/><polygon points="361.56,740.06 360.38,742.11 358.02,742.11 356.83,740.06 358.02,738.01 360.38,738.01"/><polygon points="363.29,742.25 362.11,744.30 359.74,744.30 358.56,742.25 359.74,740.20 362.11,740.20"/><polygon points="364.96,743.82 363.78,745.87 361.41,745.87 360.23,743.82 361.41,741.78 363.78,741.78"/><polygon points="366.57,745.53 365.39,747.57 363.02,747.57 361.84,745.53 363.02,743.48 365.39,743.48"/><polygon points="368.14,746.11 366.95,748.16 364.59,748.16 363.41,746.11 364.59,744.06 366.95,744.06"/><polygon points="369.65,748.83 368.47,750.88 366.10,750.88 364.92,748.83 366.10,746.78 368.47,746.78"/><polygon points="371.12,751.21 369.94,753.25 367.58,753.25 366.39,751.21 367.58,749.16 369.94,749.16"/><polygon points="372.55,753.23 371.37,755.28 369.01,755.28 367.82,753.23 369.01,751.19 371.37,751.19"/><polygon points="373.94,754.82 372.76,756.87 370.40,756.87 369.21,754.82 370.40,752.77 372.76,752.77"/><polygon points="375.29,756.45 374.11,758.50 371.75,758.50 370.56,756.45 371.75,754.41 374.11,754.41"/><polygon points="376.61,757.59 375.43,759.64 373.06,759.64 371.88,757.59 373.06,755.54 375.43,755.54"/><polygon points="377.89,759.51 376.71,761.55 374.35,761.55 373.16,759.51 374.35,757.46 376.71,757.46"/><polygon points="379.14,760.25 377.96,762.30 375.60,762.30 374.41,760.25 375.60,758.20 377.96,758.20"/><polygon points="380.36,759.50 379.18,761.55 376.82,761.55 375.63,759.50 376.82,757.45 379.18,757.45"/><polygon points="381.56,760.84 380.37,762.88 378.01,762.88 376.83,760.84 378.01,758.79 380.37,758.79"/><polygon points="382.72,762.02 381.54,764.07 379.17,764.07 377.99,762.02 379.17,759.97 381.54,759.97"/><polygon points="383.86,764.08 382.67,766.13 380.31,766.13 379.13,764.08 380.31,762.04 382.67,762.04"/><polygon points="384.97,765.53 383.79,767.58 381.42,767.58 380.24,765.53 381.42,763.49 383.79,763.49"/><polygon points="386.06,767.20 384.87,769.25 382.51,769.25 381.33,767.20 382.51,765.15 384.87,765.15"/><polygon points="387.12,768.54 385.94,770.59 383.57,770.59 382.39,768.54 383.57,766.49 385.94,766.49"/><polygon points="388.16,769.60 386.98,771.65 384.61,771.65 383.43,769.60 384.61,767.55 386.98,767.55"/><polygon points="389.18,770.81 388.00,772.86 385.64,772.86 384.45,770.81 385.64,768.77 388.00,768.77"/><polygon points="390.18,771.43 389.00,773.48 386.64,773.48 385.45,771.43 386.64,769.38 389.00,769.38"/><polygon points="391.16,772.00 389.98,774.05 387.62,774.05 386.43,772.00 387.62,769.96 389.98,769.96"/><polygon points="392.13,773.21 390.94,775.26 388.58,775.26 387.40,773.21 388.58,771.16 390.94,771.16"/><polygon points="393.07,773.32 391.89,775.37 389.52,775.37 388.34,773.32 389.52,771.27 391.89,771.27"/><polygon points="394.00,774.76 392.81,776.80 390.45,776.80 389.27,774.76 390.45,772.71 392.81,772.71"/><polygon points="394.91,775.79 393.72,777.84 391.36,777.84 390.18,775.79 391.36,773.74 393.72,773.74"/><polygon points="395.80,775.89 394.62,777.94 392.25,777.94 391.07,775.89 392.25,773.84 394.62,773.84"/><polygon points="396.68,777.20 395.49,779.25 393.13,779.25 391.95,777.20 393.13,775.15 395.49,775.15"/><polygon points="397.54,778.39 396.36,780.43 393.99,780.43 392.81,778.39 393.99,776.34 396.36,776.34"/><polygon points="398.39,780.75 397.20,782.80 394.84,782.80 393.66,780.75 394.84,778.70 397.20,778.70"/><polygon points="399.22,782.83 398.04,784.88 395.67,784.88 394.49,782.83 395.67,780.78 398.04,780.78"/><polygon points="400.04,783.84 398.86,785.89 396.49,785.89 395.31,783.84 396.49,781.79 398.86,781.79"/><polygon points="400.85,785.33 399.66,787.38 397.30,787.38 396.12,785.33 397.30,783.28 399.66,783.28"/><polygon points="401.64,785.92 400.46,787.97 398.09,787.97 396.91,785.92 398.09,783.88 400.46,783.88"/><polygon points="402.42,787.37 401.24,789.42 398.87,789.42 397.69,787.37 398.87,785.33 401.24,785.33"/><polygon points="403.19,788.01 402.01,790.06 399.64,790.06 398.46,788.01 399.64,785.96 402.01,785.96"/><polygon points="403.95,789.04 402.77,791.09 400.40,791.09 399.22,789.04 400.40,786.99 402.77,786.99"/><polygon points="404.70,790.28 403.51,792.33 401.15,792.33 399.97,790.28 401.15,788.23 403.51,788.23"/></g>
<g stroke="#000" stroke-width="1.2" fill="none"><rect x="239.5" y="608.6" width="165.70" height="199.70"/><path d="M239.50 808.3v3.5M239.50 608.6v3.5M259.77 808.3v3.5M259.77 608.6v3.5M285.31 808.3v3.5M285.31 608.6v3.5M305.58 808.3v3.5M305.58 608.6v3.5M340.24 808.3v3.5M340.24 608.6v3.5M365.78 808.3v3.5M365.78 608.6v3.5M382.60 808.3v3.5M382.60 608.6v3.5M400.43 808.3v3.5M400.43 608.6v3.5M239.5 808.30h-3.5M405.2 808.30h-3.5M239.5 776.73h-3.5M405.2 776.73h-3.5M239.5 754.33h-3.5M405.2 754.33h-3.5M239.5 722.77h-3.5M405.2 722.77h-3.5M239.5 700.37h-3.5M405.2 700.37h-3.5M239.5 668.80h-3.5M405.2 668.80h-3.5M239.5 646.40h-3.5M405.2 646.40h-3.5M239.5 629.03h-3.5M405.2 629.03h-3.5M239.5 614.83h-3.5M405.2 614.83h-3.5M239.5 608.60h-3.5M405.2 608.60h-3.5"/><path d="M241.53 808.3v1.7M241.53 608.6v1.7M243.55 808.3v1.7M243.55 608.6v1.7M245.58 808.3v1.7M245.58 608.6v1.7M247.61 808.3v1.7M247.61 608.6v1.7M249.64 808.3v1.7M249.64 608.6v1.7M251.66 808.3v1.7M251.66 608.6v1.7M253.69 808.3v1.7M253.69 608.6v1.7M255.72 808.3v1.7M255.72 608.6v1.7M257.74 808.3v1.7M257.74 608.6v1.7M262.33 808.3v1.7M262.33 608.6v1.7M264.88 808.3v1.7M264.88 608.6v1.7M267.43 808.3v1.7M267.43 608.6v1.7M269.99 808.3v1.7M269.99 608.6v1.7M272.54 808.3v1.7M272.54 608.6v1.7M275.10 808.3v1.7M275.10 608.6v1.7M277.65 808.3v1.7M277.65 608.6v1.7M280.20 808.3v1.7M280.20 608.6v1.7M282.76 808.3v1.7M282.76 608.6v1.7M287.34 808.3v1.7M287.34 608.6v1.7M289.37 808.3v1.7M289.37 608.6v1.7M291.39 808.3v1.7M291.39 608.6v1.7M293.42 808.3v1.7M293.42 608.6v1.7M295.45 808.3v1.7M295.45 608.6v1.7M297.48 808.3v1.7M297.48 608.6v1.7M299.50 808.3v1.7M299.50 608.6v1.7M301.53 808.3v1.7M301.53 608.6v1.7M303.56 808.3v1.7M303.56 608.6v1.7M309.05 808.3v1.7M309.05 608.6v1.7M312.52 808.3v1.7M312.52 608.6v1.7M315.98 808.3v1.7M315.98 608.6v1.7M319.45 808.3v1.7M319.45 608.6v1.7M322.91 808.3v1.7M322.91 608.6v1.7M326.38 808.3v1.7M326.38 608.6v1.7M329.84 808.3v1.7M329.84 608.6v1.7M333.31 808.3v1.7M333.31 608.6v1.7M336.77 808.3v1.7M336.77 608.6v1.7M342.79 808.3v1.7M342.79 608.6v1.7M345.35 808.3v1.7M345.35 608.6v1.7M347.90 808.3v1.7M347.90 608.6v1.7M350.46 808.3v1.7M350.46 608.6v1.7M353.01 808.3v1.7M353.01 608.6v1.7M355.56 808.3v1.7M355.56 608.6v1.7M358.12 808.3v1.7M358.12 608.6v1.7M360.67 808.3v1.7M360.67 608.6v1.7M363.23 808.3v1.7M363.23 608.6v1.7M367.46 808.3v1.7M367.46 608.6v1.7M369.14 808.3v1.7M369.14 608.6v1.7M370.83 808.3v1.7M370.83 608.6v1.7M372.51 808.3v1.7M372.51 608.6v1.7M374.19 808.3v1.7M374.19 608.6v1.7M375.87 808.3v1.7M375.87 608.6v1.7M377.56 808.3v1.7M377.56 608.6v1.7M379.24 808.3v1.7M379.24 608.6v1.7M380.92 808.3v1.7M380.92 608.6v1.7M384.39 808.3v1.7M384.39 608.6v1.7M386.17 808.3v1.7M386.17 608.6v1.7M387.95 808.3v1.7M387.95 608.6v1.7M389.74 808.3v1.7M389.74 608.6v1.7M391.52 808.3v1.7M391.52 608.6v1.7M393.30 808.3v1.7M393.30 608.6v1.7M395.08 808.3v1.7M395.08 608.6v1.7M396.87 808.3v1.7M396.87 608.6v1.7M398.65 808.3v1.7M398.65 608.6v1.7M239.5 805.14h-1.7M405.2 805.14h-1.7M239.5 801.99h-1.7M405.2 801.99h-1.7M239.5 798.83h-1.7M405.2 798.83h-1.7M239.5 795.67h-1.7M405.2 795.67h-1.7M239.5 792.52h-1.7M405.2 792.52h-1.7M239.5 789.36h-1.7M405.2 789.36h-1.7M239.5 786.20h-1.7M405.2 786.20h-1.7M239.5 783.05h-1.7M405.2 783.05h-1.7M239.5 779.89h-1.7M405.2 779.89h-1.7M239.5 774.49h-1.7M405.2 774.49h-1.7M239.5 772.25h-1.7M405.2 772.25h-1.7M239.5 770.01h-1.7M405.2 770.01h-1.7M239.5 767.77h-1.7M405.2 767.77h-1.7M239.5 765.53h-1.7M405.2 765.53h-1.7M239.5 763.29h-1.7M405.2 763.29h-1.7M239.5 761.05h-1.7M405.2 761.05h-1.7M239.5 758.81h-1.7M405.2 758.81h-1.7M239.5 756.57h-1.7M405.2 756.57h-1.7M239.5 751.18h-1.7M405.2 751.18h-1.7M239.5 748.02h-1.7M405.2 748.02h-1.7M239.5 744.86h-1.7M405.2 744.86h-1.7M239.5 741.71h-1.7M405.2 741.71h-1.7M239.5 738.55h-1.7M405.2 738.55h-1.7M239.5 735.39h-1.7M405.2 735.39h-1.7M239.5 732.24h-1.7M405.2 732.24h-1.7M239.5 729.08h-1.7M405.2 729.08h-1.7M239.5 725.92h-1.7M405.2 725.92h-1.7M239.5 720.53h-1.7M405.2 720.53h-1.7M239.5 718.29h-1.7M405.2 718.29h-1.7M239.5 716.05h-1.7M405.2 716.05h-1.7M239.5 713.81h-1.7M405.2 713.81h-1.7M239.5 711.57h-1.7M405.2 711.57h-1.7M239.5 709.33h-1.7M405.2 709.33h-1.7M239.5 707.09h-1.7M405.2 707.09h-1.7M239.5 704.85h-1.7M405.2 704.85h-1.7M239.5 702.61h-1.7M405.2 702.61h-1.7M239.5 697.21h-1.7M405.2 697.21h-1.7M239.5 694.05h-1.7M405.2 694.05h-1.7M239.5 690.90h-1.7M405.2 690.90h-1.7M239.5 687.74h-1.7M405.2 687.74h-1.7M239.5 684.58h-1.7M405.2 684.58h-1.7M239.5 681.43h-1.7M405.2 681.43h-1.7M239.5 678.27h-1.7M405.2 678.27h-1.7M239.5 675.11h-1.7M405.2 675.11h-1.7M239.5 671.96h-1.7M405.2 671.96h-1.7M239.5 666.56h-1.7M405.2 666.56h-1.7M239.5 664.32h-1.7M405.2 664.32h-1.7M239.5 662.08h-1.7M405.2 662.08h-1.7M239.5 659.84h-1.7M405.2 659.84h-1.7M239.5 657.60h-1.7M405.2 657.60h-1.7M239.5 655.36h-1.7M405.2 655.36h-1.7M239.5 653.12h-1.7M405.2 653.12h-1.7M239.5 650.88h-1.7M405.2 650.88h-1.7M239.5 648.64h-1.7M405.2 648.64h-1.7M239.5 644.66h-1.7M405.2 644.66h-1.7M239.5 642.93h-1.7M405.2 642.93h-1.7M239.5 641.19h-1.7M405.2 641.19h-1.7M239.5 639.45h-1.7M405.2 639.45h-1.7M239.5 637.71h-1.7M405.2 637.71h-1.7M239.5 635.98h-1.7M405.2 635.98h-1.7M239.5 634.24h-1.7M405.2 634.24h-1.7M239.5 632.50h-1.7M405.2 632.50h-1.7M239.5 630.76h-1.7M405.2 630.76h-1.7M239.5 627.61h-1.7M405.2 627.61h-1.7M239.5 626.19h-1.7M405.2 626.19h-1.7M239.5 624.77h-1.7M405.2 624.77h-1.7M239.5 623.35h-1.7M405.2 623.35h-1.7M239.5 621.93h-1.7M405.2 621.93h-1.7M239.5 620.51h-1.7M405.2 620.51h-1.7M239.5 619.09h-1.7M405.2 619.09h-1.7M239.5 617.67h-1.7M405.2 617.67h-1.7M239.5 616.25h-1.7M405.2 616.25h-1.7M239.5 614.21h-1.7M405.2 614.21h-1.7M239.5 613.59h-1.7M405.2 613.59h-1.7M239.5 612.96h-1.7M405.2 612.96h-1.7M239.5 612.34h-1.7M405.2 612.34h-1.7M239.5 611.72h-1.7M405.2 611.72h-1.7M239.5 611.09h-1.7M405.2 611.09h-1.7M239.5 610.47h-1.7M405.2 610.47h-1.7M239.5 609.85h-1.7M405.2 609.85h-1.7M239.5 609.22h-1.7M405.2 609.22h-1.7" stroke-width="0.82"/></g>
<g font-family="Liberation Serif, serif" font-weight="bold" font-size="6.9" fill="#000"><text x="239.50" y="819.70" text-anchor="middle" textLength="10.95" lengthAdjust="spacingAndGlyphs">400</text><text x="259.77" y="819.70" text-anchor="middle" textLength="10.95" lengthAdjust="spacingAndGlyphs">600</text><text x="285.31" y="819.70" text-anchor="middle" textLength="14.60" lengthAdjust="spacingAndGlyphs">1000</text><text x="305.58" y="819.70" text-anchor="middle" textLength="14.60" lengthAdjust="spacingAndGlyphs">1500</text><text x="340.24" y="819.70" text-anchor="middle" textLength="14.60" lengthAdjust="spacingAndGlyphs">3000</text><text x="365.78" y="819.70" text-anchor="middle" textLength="14.60" lengthAdjust="spacingAndGlyphs">5000</text><text x="382.60" y="819.70" text-anchor="middle" textLength="14.60" lengthAdjust="spacingAndGlyphs">7000</text><text x="400.43" y="819.70" text-anchor="middle" textLength="18.25" lengthAdjust="spacingAndGlyphs">10000</text><text x="233.50" y="810.27" text-anchor="end" textLength="12.78" lengthAdjust="spacingAndGlyphs">0.05</text><text x="233.50" y="778.70" text-anchor="end" textLength="16.43" lengthAdjust="spacingAndGlyphs">0.075</text><text x="233.50" y="756.30" text-anchor="end" textLength="9.12" lengthAdjust="spacingAndGlyphs">0.1</text><text x="233.50" y="724.73" text-anchor="end" textLength="12.78" lengthAdjust="spacingAndGlyphs">0.15</text><text x="233.50" y="702.33" text-anchor="end" textLength="9.12" lengthAdjust="spacingAndGlyphs">0.2</text><text x="233.50" y="670.76" text-anchor="end" textLength="9.12" lengthAdjust="spacingAndGlyphs">0.3</text><text x="233.50" y="648.37" text-anchor="end" textLength="9.12" lengthAdjust="spacingAndGlyphs">0.4</text><text x="233.50" y="630.99" text-anchor="end" textLength="9.12" lengthAdjust="spacingAndGlyphs">0.5</text><text x="233.50" y="616.80" text-anchor="end" textLength="9.12" lengthAdjust="spacingAndGlyphs">0.6</text><text x="233.50" y="610.57" text-anchor="end" textLength="12.78" lengthAdjust="spacingAndGlyphs">0.65</text></g>
<rect x="409.5" y="658.0" width="113.0" height="150.0" fill="#fff" stroke="#000" stroke-width="0.9"/>
<g fill="none" stroke="#000" stroke-width="0.5"><rect x="414.95" y="661.75" width="3.10" height="3.10"/></g>
<text font-family="Liberation Serif, serif" font-weight="bold" font-size="5.9" x="424.5" y="665.25">θ = 15°, Heat Flux = 2 kW/m<tspan dy="-2.2" font-size="3.8">2</tspan><tspan dy="2.2">, S.R. = 3</tspan></text>
<g fill="#000" stroke="none"><rect x="414.75" y="669.80" width="3.50" height="3.50"/></g>
<text font-family="Liberation Serif, serif" font-weight="bold" font-size="5.9" x="424.5" y="673.50">θ = 30°, Heat Flux = 2 kW/m<tspan dy="-2.2" font-size="3.8">2</tspan><tspan dy="2.2">, S.R. = 3</tspan></text>
<g fill="none" stroke="#f00" stroke-width="0.5"><circle cx="416.50" cy="679.81" r="1.55"/></g>
<text font-family="Liberation Serif, serif" font-weight="bold" font-size="5.9" x="424.5" y="681.75">θ = 15°, Heat Flux = 2 kW/m<tspan dy="-2.2" font-size="3.8">2</tspan><tspan dy="2.2">, S.R. = 4</tspan></text>
<g fill="#f00" stroke="none"><circle cx="416.50" cy="688.06" r="1.75"/></g>
<text font-family="Liberation Serif, serif" font-weight="bold" font-size="5.9" x="424.5" y="690.01">θ = 30°, Heat Flux = 2 kW/m<tspan dy="-2.2" font-size="3.8">2</tspan><tspan dy="2.2">, S.R. = 4</tspan></text>
<g fill="none" stroke="#0f0" stroke-width="0.5"><polygon points="416.50,694.53 418.20,697.55 414.80,697.55"/></g>
<text font-family="Liberation Serif, serif" font-weight="bold" font-size="5.9" x="424.5" y="698.26">θ = 15°, Heat Flux = 2 kW/m<tspan dy="-2.2" font-size="3.8">2</tspan><tspan dy="2.2">, S.R. = 5</tspan></text>
<g fill="#0f0" stroke="none"><polygon points="416.50,702.55 418.43,705.96 414.57,705.96"/></g>
<text font-family="Liberation Serif, serif" font-weight="bold" font-size="5.9" x="424.5" y="706.51">θ = 30°, Heat Flux = 2 kW/m<tspan dy="-2.2" font-size="3.8">2</tspan><tspan dy="2.2">, S.R. = 5</tspan></text>
<g fill="none" stroke="#ff8000" stroke-width="0.5"><polygon points="416.50,714.60 418.20,711.58 414.80,711.58"/></g>
<text font-family="Liberation Serif, serif" font-weight="bold" font-size="5.9" x="424.5" y="714.76">θ = 15°, Heat Flux = 2 kW/m<tspan dy="-2.2" font-size="3.8">2</tspan><tspan dy="2.2">, S.R. = 3</tspan></text>
<g fill="#ff8000" stroke="none"><polygon points="416.50,723.08 418.43,719.67 414.57,719.67"/></g>
<text font-family="Liberation Serif, serif" font-weight="bold" font-size="5.9" x="424.5" y="723.02">θ = 30°, Heat Flux = 2 kW/m<tspan dy="-2.2" font-size="3.8">2</tspan><tspan dy="2.2">, S.R. = 3</tspan></text>
<g fill="none" stroke="#00f" stroke-width="0.5"><polygon points="416.50,727.46 418.36,729.32 416.50,731.18 414.64,729.32"/></g>
<text font-family="Liberation Serif, serif" font-weight="bold" font-size="5.9" x="424.5" y="731.27">θ = 15°, Heat Flux = 2 kW/m<tspan dy="-2.2" font-size="3.8">2</tspan><tspan dy="2.2">, S.R. = 4</tspan></text>
<g fill="#00f" stroke="none"><polygon points="416.50,735.48 418.60,737.58 416.50,739.68 414.40,737.58"/></g>
<text font-family="Liberation Serif, serif" font-weight="bold" font-size="5.9" x="424.5" y="739.52">θ = 30°, Heat Flux = 2 kW/m<tspan dy="-2.2" font-size="3.8">2</tspan><tspan dy="2.2">, S.R. = 4</tspan></text>
<g fill="none" stroke="#f0f" stroke-width="0.5"><polygon points="414.72,745.83 417.74,744.12 417.74,747.53"/></g>
<text font-family="Liberation Serif, serif" font-weight="bold" font-size="5.9" x="424.5" y="747.78">θ = 15°, Heat Flux = 2 kW/m<tspan dy="-2.2" font-size="3.8">2</tspan><tspan dy="2.2">, S.R. = 5</tspan></text>
<g fill="#f0f" stroke="none"><polygon points="414.49,754.08 417.90,752.16 417.90,756.01"/></g>
<text font-family="Liberation Serif, serif" font-weight="bold" font-size="5.9" x="424.5" y="756.03">θ = 30°, Heat Flux = 2 kW/m<tspan dy="-2.2" font-size="3.8">2</tspan><tspan dy="2.2">, S.R. = 5</tspan></text>
<g fill="none" stroke="#000080" stroke-width="0.5"><polygon points="418.28,762.34 415.26,760.63 415.26,764.04"/></g>
<text font-family="Liberation Serif, serif" font-weight="bold" font-size="5.9" x="424.5" y="764.28">θ = 15°, Heat Flux = 2 kW/m<tspan dy="-2.2" font-size="3.8">2</tspan><tspan dy="2.2">, S.R. = 3</tspan></text>
<g fill="#000080" stroke="none"><polygon points="418.51,770.59 415.10,768.66 415.10,772.51"/></g>
<text font-family="Liberation Serif, serif" font-weight="bold" font-size="5.9" x="424.5" y="772.54">θ = 30°, Heat Flux = 2 kW/m<tspan dy="-2.2" font-size="3.8">2</tspan><tspan dy="2.2">, S.R. = 3</tspan></text>
<g fill="none" stroke="#8000ff" stroke-width="0.5"><circle cx="416.50" cy="778.84" r="1.55"/></g>
<text font-family="Liberation Serif, serif" font-weight="bold" font-size="5.9" x="424.5" y="780.79">θ = 15°, Heat Flux = 2 kW/m<tspan dy="-2.2" font-size="3.8">2</tspan><tspan dy="2.2">, S.R. = 4</tspan></text>
<g fill="#8000ff" stroke="none"><circle cx="416.50" cy="787.09" r="1.75"/></g>
<text font-family="Liberation Serif, serif" font-weight="bold" font-size="5.9" x="424.5" y="789.04">θ = 30°, Heat Flux = 2 kW/m<tspan dy="-2.2" font-size="3.8">2</tspan><tspan dy="2.2">, S.R. = 4</tspan></text>
<g fill="none" stroke="#800080" stroke-width="0.5"><polygon points="418.20,795.35 417.35,796.82 415.65,796.82 414.80,795.35 415.65,793.87 417.35,793.87"/></g>
<text font-family="Liberation Serif, serif" font-weight="bold" font-size="5.9" x="424.5" y="797.29">θ = 15°, Heat Flux = 2 kW/m<tspan dy="-2.2" font-size="3.8">2</tspan><tspan dy="2.2">, S.R. = 5</tspan></text>
<g fill="#ff0080" stroke="none"><polygon points="418.43,803.60 417.46,805.27 415.54,805.27 414.57,803.60 415.54,801.93 417.46,801.93"/></g>
<text font-family="Liberation Serif, serif" font-weight="bold" font-size="5.9" x="424.5" y="805.55">θ = 30°, Heat Flux = 2 kW/m<tspan dy="-2.2" font-size="3.8">2</tspan><tspan dy="2.2">, S.R. = 5</tspan></text>
<text font-family="Liberation Serif, serif" font-style="italic" font-size="10.5" text-anchor="middle" transform="translate(213,708.75) rotate(-90)">f</text>
<text font-family="Liberation Sans, sans-serif" font-size="9.3" text-anchor="middle" x="322.5" y="835">Re</text>
<text font-family="Liberation Serif, serif" font-size="8" text-anchor="middle" x="363" y="843.5">(e)</text>
</svg>
</body></html>
